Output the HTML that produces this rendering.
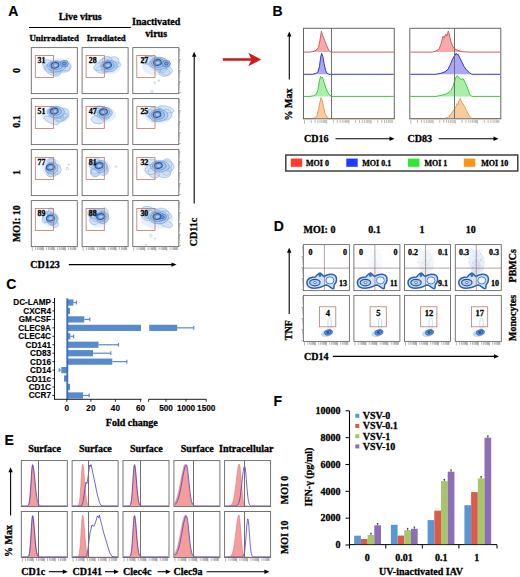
<!DOCTYPE html>
<html><head><meta charset="utf-8"><title>Figure</title>
<style>html,body{margin:0;padding:0;background:#fff;} #wrap{position:relative;width:520px;height:577px;overflow:hidden;}</style>
</head><body><div id="wrap">
<svg width="520" height="577" viewBox="0 0 520 577" style="position:absolute;left:0;top:0">
<defs><filter id="soft" x="-20%" y="-20%" width="140%" height="140%"><feGaussianBlur stdDeviation="0.35"/></filter><g id="blobA00" filter="url(#soft)"><ellipse cx="25.700000000000003" cy="18.4" rx="15.2" ry="8.1" fill="#e4edf9" stroke="none" stroke-width="0.5" opacity="0.9" transform="rotate(0 25.700000000000003 18.4)"/><ellipse cx="32.31" cy="21.19" rx="6.48" ry="3.28" fill="#d0e0f4" stroke="none" stroke-width="0.5" opacity="0.8" transform="rotate(0.8 32.31 21.19)"/><ellipse cx="23.87" cy="21.47" rx="6.01" ry="3.77" fill="#d0e0f4" stroke="none" stroke-width="0.5" opacity="0.8" transform="rotate(5.8 23.87 21.47)"/><ellipse cx="33.54" cy="18.45" rx="5.93" ry="4.4" fill="#d0e0f4" stroke="none" stroke-width="0.5" opacity="0.8" transform="rotate(8.3 33.54 18.45)"/><ellipse cx="20.91" cy="22.83" rx="8.73" ry="4.52" fill="#d0e0f4" stroke="none" stroke-width="0.5" opacity="0.8" transform="rotate(28.2 20.91 22.83)"/><ellipse cx="22.05" cy="20.88" rx="8.4" ry="4.24" fill="#d0e0f4" stroke="none" stroke-width="0.5" opacity="0.8" transform="rotate(-2.0 22.05 20.88)"/><ellipse cx="18.03" cy="17.69" rx="7.24" ry="4.75" fill="#d0e0f4" stroke="none" stroke-width="0.5" opacity="0.8" transform="rotate(32.7 18.03 17.69)"/><ellipse cx="25.26" cy="22.35" rx="5.84" ry="4.51" fill="#d0e0f4" stroke="none" stroke-width="0.5" opacity="0.8" transform="rotate(3.4 25.26 22.35)"/><ellipse cx="32.31" cy="21.19" rx="6.48" ry="3.28" fill="none" stroke="#8aaedf" stroke-width="0.6" opacity="0.9" transform="rotate(0.8 32.31 21.19)"/><ellipse cx="23.87" cy="21.47" rx="6.01" ry="3.77" fill="none" stroke="#8aaedf" stroke-width="0.6" opacity="0.9" transform="rotate(5.8 23.87 21.47)"/><ellipse cx="33.54" cy="18.45" rx="5.93" ry="4.4" fill="none" stroke="#8aaedf" stroke-width="0.6" opacity="0.9" transform="rotate(8.3 33.54 18.45)"/><ellipse cx="20.91" cy="22.83" rx="8.73" ry="4.52" fill="none" stroke="#8aaedf" stroke-width="0.6" opacity="0.9" transform="rotate(28.2 20.91 22.83)"/><ellipse cx="22.05" cy="20.88" rx="8.4" ry="4.24" fill="none" stroke="#8aaedf" stroke-width="0.6" opacity="0.9" transform="rotate(-2.0 22.05 20.88)"/><ellipse cx="18.03" cy="17.69" rx="7.24" ry="4.75" fill="none" stroke="#8aaedf" stroke-width="0.6" opacity="0.9" transform="rotate(32.7 18.03 17.69)"/><ellipse cx="25.26" cy="22.35" rx="5.84" ry="4.51" fill="none" stroke="#8aaedf" stroke-width="0.6" opacity="0.9" transform="rotate(3.4 25.26 22.35)"/><ellipse cx="25.2" cy="18.5" rx="9.6" ry="5.3999999999999995" fill="#b3cdee" stroke="#6593d2" stroke-width="0.7" opacity="0.9" transform="rotate(0 25.2 18.5)"/><ellipse cx="24.5" cy="18.099999999999998" rx="6.912" ry="3.8879999999999995" fill="#a3c2ea" stroke="#4f82c8" stroke-width="0.7" opacity="0.9" transform="rotate(0 24.5 18.099999999999998)"/><ellipse cx="33" cy="16" rx="4.0" ry="3.2" fill="#a3c2ea" stroke="#3f74c0" stroke-width="0.8" opacity="0.9" transform="rotate(0 33 16)"/><ellipse cx="33" cy="16" rx="2.0" ry="1.5" fill="#6d9ad6" stroke="#1f4f9a" stroke-width="0.8" opacity="0.9" transform="rotate(0 33 16)"/><ellipse cx="23.7" cy="17.7" rx="3.9" ry="2.8" fill="#7da6dc" stroke="#2558a8" stroke-width="1.1" opacity="1.0" transform="rotate(-12 23.7 17.7)"/><ellipse cx="24.0" cy="17.9" rx="1.7" ry="1.1" fill="#b6d0f0" stroke="none" stroke-width="0.5" opacity="1.0" transform="rotate(0 24.0 17.9)"/></g><g id="blobA01" filter="url(#soft)"><ellipse cx="26.35" cy="18.1" rx="12.9675" ry="8.73" fill="#e4edf9" stroke="none" stroke-width="0.5" opacity="0.9" transform="rotate(0 26.35 18.1)"/><ellipse cx="20.36" cy="22.14" rx="6.7" ry="3.53" fill="#d0e0f4" stroke="none" stroke-width="0.5" opacity="0.8" transform="rotate(-0.3 20.36 22.14)"/><ellipse cx="25.52" cy="19.86" rx="6.79" ry="3.14" fill="#d0e0f4" stroke="none" stroke-width="0.5" opacity="0.8" transform="rotate(-33.0 25.52 19.86)"/><ellipse cx="31.85" cy="17.32" rx="6.7" ry="2.92" fill="#d0e0f4" stroke="none" stroke-width="0.5" opacity="0.8" transform="rotate(-3.8 31.85 17.32)"/><ellipse cx="29.98" cy="14.94" rx="7.32" ry="5.1" fill="#d0e0f4" stroke="none" stroke-width="0.5" opacity="0.8" transform="rotate(-32.9 29.98 14.94)"/><ellipse cx="18.58" cy="18.58" rx="7.3" ry="3.83" fill="#d0e0f4" stroke="none" stroke-width="0.5" opacity="0.8" transform="rotate(-19.8 18.58 18.58)"/><ellipse cx="25.07" cy="12.62" rx="4.85" ry="3.97" fill="#d0e0f4" stroke="none" stroke-width="0.5" opacity="0.8" transform="rotate(-0.3 25.07 12.62)"/><ellipse cx="21.98" cy="14.97" rx="4.84" ry="4.02" fill="#d0e0f4" stroke="none" stroke-width="0.5" opacity="0.8" transform="rotate(-14.7 21.98 14.97)"/><ellipse cx="20.36" cy="22.14" rx="6.7" ry="3.53" fill="none" stroke="#8aaedf" stroke-width="0.6" opacity="0.9" transform="rotate(-0.3 20.36 22.14)"/><ellipse cx="25.52" cy="19.86" rx="6.79" ry="3.14" fill="none" stroke="#8aaedf" stroke-width="0.6" opacity="0.9" transform="rotate(-33.0 25.52 19.86)"/><ellipse cx="31.85" cy="17.32" rx="6.7" ry="2.92" fill="none" stroke="#8aaedf" stroke-width="0.6" opacity="0.9" transform="rotate(-3.8 31.85 17.32)"/><ellipse cx="29.98" cy="14.94" rx="7.32" ry="5.1" fill="none" stroke="#8aaedf" stroke-width="0.6" opacity="0.9" transform="rotate(-32.9 29.98 14.94)"/><ellipse cx="18.58" cy="18.58" rx="7.3" ry="3.83" fill="none" stroke="#8aaedf" stroke-width="0.6" opacity="0.9" transform="rotate(-19.8 18.58 18.58)"/><ellipse cx="25.07" cy="12.62" rx="4.85" ry="3.97" fill="none" stroke="#8aaedf" stroke-width="0.6" opacity="0.9" transform="rotate(-0.3 25.07 12.62)"/><ellipse cx="21.98" cy="14.97" rx="4.84" ry="4.02" fill="none" stroke="#8aaedf" stroke-width="0.6" opacity="0.9" transform="rotate(-14.7 21.98 14.97)"/><ellipse cx="27.0" cy="18.400000000000002" rx="8.19" ry="5.819999999999999" fill="#b3cdee" stroke="#6593d2" stroke-width="0.7" opacity="0.9" transform="rotate(0 27.0 18.400000000000002)"/><ellipse cx="26.3" cy="18.0" rx="5.8968" ry="4.1903999999999995" fill="#a3c2ea" stroke="#4f82c8" stroke-width="0.7" opacity="0.9" transform="rotate(0 26.3 18.0)"/><ellipse cx="25.5" cy="17.6" rx="3.9" ry="2.8" fill="#7da6dc" stroke="#2558a8" stroke-width="1.1" opacity="1.0" transform="rotate(-12 25.5 17.6)"/><ellipse cx="25.8" cy="17.8" rx="1.7" ry="1.1" fill="#b6d0f0" stroke="none" stroke-width="0.5" opacity="1.0" transform="rotate(0 25.8 17.8)"/></g><g id="blobA02" filter="url(#soft)"><ellipse cx="23.7" cy="18.5" rx="14.915" ry="9.270000000000001" fill="#e4edf9" stroke="none" stroke-width="0.5" opacity="0.9" transform="rotate(0 23.7 18.5)"/><ellipse cx="32.29" cy="24.04" rx="4.93" ry="3.31" fill="#d0e0f4" stroke="none" stroke-width="0.5" opacity="0.8" transform="rotate(23.5 32.29 24.04)"/><ellipse cx="28.15" cy="20.6" rx="5.92" ry="4.65" fill="#d0e0f4" stroke="none" stroke-width="0.5" opacity="0.8" transform="rotate(7.5 28.15 20.6)"/><ellipse cx="25.23" cy="14.28" rx="6.4" ry="4.1" fill="#d0e0f4" stroke="none" stroke-width="0.5" opacity="0.8" transform="rotate(15.6 25.23 14.28)"/><ellipse cx="33.02" cy="24.05" rx="6.85" ry="4.24" fill="#d0e0f4" stroke="none" stroke-width="0.5" opacity="0.8" transform="rotate(-16.2 33.02 24.05)"/><ellipse cx="14.96" cy="12.66" rx="6.53" ry="3.91" fill="#d0e0f4" stroke="none" stroke-width="0.5" opacity="0.8" transform="rotate(-8.4 14.96 12.66)"/><ellipse cx="31.08" cy="18.82" rx="6.91" ry="3.7" fill="#d0e0f4" stroke="none" stroke-width="0.5" opacity="0.8" transform="rotate(-33.3 31.08 18.82)"/><ellipse cx="20.41" cy="14.01" rx="6.71" ry="5.66" fill="#d0e0f4" stroke="none" stroke-width="0.5" opacity="0.8" transform="rotate(12.2 20.41 14.01)"/><ellipse cx="32.29" cy="24.04" rx="4.93" ry="3.31" fill="none" stroke="#8aaedf" stroke-width="0.6" opacity="0.9" transform="rotate(23.5 32.29 24.04)"/><ellipse cx="28.15" cy="20.6" rx="5.92" ry="4.65" fill="none" stroke="#8aaedf" stroke-width="0.6" opacity="0.9" transform="rotate(7.5 28.15 20.6)"/><ellipse cx="25.23" cy="14.28" rx="6.4" ry="4.1" fill="none" stroke="#8aaedf" stroke-width="0.6" opacity="0.9" transform="rotate(15.6 25.23 14.28)"/><ellipse cx="33.02" cy="24.05" rx="6.85" ry="4.24" fill="none" stroke="#8aaedf" stroke-width="0.6" opacity="0.9" transform="rotate(-16.2 33.02 24.05)"/><ellipse cx="14.96" cy="12.66" rx="6.53" ry="3.91" fill="none" stroke="#8aaedf" stroke-width="0.6" opacity="0.9" transform="rotate(-8.4 14.96 12.66)"/><ellipse cx="31.08" cy="18.82" rx="6.91" ry="3.7" fill="none" stroke="#8aaedf" stroke-width="0.6" opacity="0.9" transform="rotate(-33.3 31.08 18.82)"/><ellipse cx="20.41" cy="14.01" rx="6.71" ry="5.66" fill="none" stroke="#8aaedf" stroke-width="0.6" opacity="0.9" transform="rotate(12.2 20.41 14.01)"/><ellipse cx="26.2" cy="15.8" rx="9.42" ry="6.180000000000001" fill="#b3cdee" stroke="#6593d2" stroke-width="0.7" opacity="0.9" transform="rotate(0 26.2 15.8)"/><ellipse cx="25.5" cy="15.4" rx="6.7824" ry="4.4496" fill="#a3c2ea" stroke="#4f82c8" stroke-width="0.7" opacity="0.9" transform="rotate(0 25.5 15.4)"/><ellipse cx="33.5" cy="16.0" rx="4.0" ry="3.2" fill="#a3c2ea" stroke="#3f74c0" stroke-width="0.8" opacity="0.9" transform="rotate(0 33.5 16.0)"/><ellipse cx="33.5" cy="16.0" rx="2.0" ry="1.5" fill="#6d9ad6" stroke="#1f4f9a" stroke-width="0.8" opacity="0.9" transform="rotate(0 33.5 16.0)"/><ellipse cx="24.7" cy="15.0" rx="3.9" ry="2.8" fill="#7da6dc" stroke="#2558a8" stroke-width="1.1" opacity="1.0" transform="rotate(-12 24.7 15.0)"/><ellipse cx="25.0" cy="15.2" rx="1.7" ry="1.1" fill="#b6d0f0" stroke="none" stroke-width="0.5" opacity="1.0" transform="rotate(0 25.0 15.2)"/><ellipse cx="19" cy="44" rx="1.2" ry="1.2" fill="none" stroke="#9dbbe2" stroke-width="0.6" opacity="0.9" transform="rotate(0 19 44)"/><ellipse cx="22" cy="35" rx="1.0" ry="1.0" fill="none" stroke="#9dbbe2" stroke-width="0.6" opacity="0.9" transform="rotate(0 22 35)"/><ellipse cx="26" cy="33" rx="0.8" ry="0.8" fill="none" stroke="#9dbbe2" stroke-width="0.6" opacity="0.9" transform="rotate(0 26 33)"/></g><g id="blobA10" filter="url(#soft)"><ellipse cx="24.5" cy="16.8" rx="13.774999999999999" ry="8.459999999999999" fill="#e4edf9" stroke="none" stroke-width="0.5" opacity="0.9" transform="rotate(0 24.5 16.8)"/><ellipse cx="25.74" cy="16.0" rx="6.45" ry="3.3" fill="#d0e0f4" stroke="none" stroke-width="0.5" opacity="0.8" transform="rotate(21.9 25.74 16.0)"/><ellipse cx="30.13" cy="18.53" rx="4.93" ry="4.04" fill="#d0e0f4" stroke="none" stroke-width="0.5" opacity="0.8" transform="rotate(-12.1 30.13 18.53)"/><ellipse cx="20.15" cy="21.91" rx="7.96" ry="2.92" fill="#d0e0f4" stroke="none" stroke-width="0.5" opacity="0.8" transform="rotate(25.2 20.15 21.91)"/><ellipse cx="26.3" cy="15.46" rx="5.38" ry="4.41" fill="#d0e0f4" stroke="none" stroke-width="0.5" opacity="0.8" transform="rotate(-3.0 26.3 15.46)"/><ellipse cx="27.73" cy="18.63" rx="4.83" ry="4.62" fill="#d0e0f4" stroke="none" stroke-width="0.5" opacity="0.8" transform="rotate(33.8 27.73 18.63)"/><ellipse cx="32.67" cy="18.08" rx="4.51" ry="2.83" fill="#d0e0f4" stroke="none" stroke-width="0.5" opacity="0.8" transform="rotate(-25.6 32.67 18.08)"/><ellipse cx="32.17" cy="14.58" rx="5.68" ry="4.93" fill="#d0e0f4" stroke="none" stroke-width="0.5" opacity="0.8" transform="rotate(-13.0 32.17 14.58)"/><ellipse cx="25.74" cy="16.0" rx="6.45" ry="3.3" fill="none" stroke="#8aaedf" stroke-width="0.6" opacity="0.9" transform="rotate(21.9 25.74 16.0)"/><ellipse cx="30.13" cy="18.53" rx="4.93" ry="4.04" fill="none" stroke="#8aaedf" stroke-width="0.6" opacity="0.9" transform="rotate(-12.1 30.13 18.53)"/><ellipse cx="20.15" cy="21.91" rx="7.96" ry="2.92" fill="none" stroke="#8aaedf" stroke-width="0.6" opacity="0.9" transform="rotate(25.2 20.15 21.91)"/><ellipse cx="26.3" cy="15.46" rx="5.38" ry="4.41" fill="none" stroke="#8aaedf" stroke-width="0.6" opacity="0.9" transform="rotate(-3.0 26.3 15.46)"/><ellipse cx="27.73" cy="18.63" rx="4.83" ry="4.62" fill="none" stroke="#8aaedf" stroke-width="0.6" opacity="0.9" transform="rotate(33.8 27.73 18.63)"/><ellipse cx="32.67" cy="18.08" rx="4.51" ry="2.83" fill="none" stroke="#8aaedf" stroke-width="0.6" opacity="0.9" transform="rotate(-25.6 32.67 18.08)"/><ellipse cx="32.17" cy="14.58" rx="5.68" ry="4.93" fill="none" stroke="#8aaedf" stroke-width="0.6" opacity="0.9" transform="rotate(-13.0 32.17 14.58)"/><ellipse cx="24.5" cy="13.3" rx="8.7" ry="5.639999999999999" fill="#b3cdee" stroke="#6593d2" stroke-width="0.7" opacity="0.9" transform="rotate(0 24.5 13.3)"/><ellipse cx="23.8" cy="12.9" rx="6.263999999999999" ry="4.060799999999999" fill="#a3c2ea" stroke="#4f82c8" stroke-width="0.7" opacity="0.9" transform="rotate(0 23.8 12.9)"/><ellipse cx="23.0" cy="12.5" rx="3.9" ry="2.8" fill="#7da6dc" stroke="#2558a8" stroke-width="1.1" opacity="1.0" transform="rotate(-12 23.0 12.5)"/><ellipse cx="23.3" cy="12.7" rx="1.7" ry="1.1" fill="#b6d0f0" stroke="none" stroke-width="0.5" opacity="1.0" transform="rotate(0 23.3 12.7)"/></g><g id="blobA11" filter="url(#soft)"><ellipse cx="22.2" cy="16.1" rx="11.589999999999998" ry="7.829999999999999" fill="#e4edf9" stroke="none" stroke-width="0.5" opacity="0.9" transform="rotate(0 22.2 16.1)"/><ellipse cx="21.5" cy="16.72" rx="6.48" ry="3.62" fill="#d0e0f4" stroke="none" stroke-width="0.5" opacity="0.8" transform="rotate(0.5 21.5 16.72)"/><ellipse cx="23.48" cy="12.81" rx="5.22" ry="3.98" fill="#d0e0f4" stroke="none" stroke-width="0.5" opacity="0.8" transform="rotate(20.5 23.48 12.81)"/><ellipse cx="16.26" cy="14.05" rx="3.94" ry="4.37" fill="#d0e0f4" stroke="none" stroke-width="0.5" opacity="0.8" transform="rotate(13.5 16.26 14.05)"/><ellipse cx="15.49" cy="21.13" rx="6.6" ry="4.03" fill="#d0e0f4" stroke="none" stroke-width="0.5" opacity="0.8" transform="rotate(8.1 15.49 21.13)"/><ellipse cx="17.19" cy="11.04" rx="5.27" ry="2.74" fill="#d0e0f4" stroke="none" stroke-width="0.5" opacity="0.8" transform="rotate(-21.7 17.19 11.04)"/><ellipse cx="18.42" cy="11.19" rx="5.08" ry="3.57" fill="#d0e0f4" stroke="none" stroke-width="0.5" opacity="0.8" transform="rotate(24.0 18.42 11.19)"/><ellipse cx="22.48" cy="17.56" rx="5.18" ry="4.05" fill="#d0e0f4" stroke="none" stroke-width="0.5" opacity="0.8" transform="rotate(-3.0 22.48 17.56)"/><ellipse cx="21.5" cy="16.72" rx="6.48" ry="3.62" fill="none" stroke="#8aaedf" stroke-width="0.6" opacity="0.9" transform="rotate(0.5 21.5 16.72)"/><ellipse cx="23.48" cy="12.81" rx="5.22" ry="3.98" fill="none" stroke="#8aaedf" stroke-width="0.6" opacity="0.9" transform="rotate(20.5 23.48 12.81)"/><ellipse cx="16.26" cy="14.05" rx="3.94" ry="4.37" fill="none" stroke="#8aaedf" stroke-width="0.6" opacity="0.9" transform="rotate(13.5 16.26 14.05)"/><ellipse cx="15.49" cy="21.13" rx="6.6" ry="4.03" fill="none" stroke="#8aaedf" stroke-width="0.6" opacity="0.9" transform="rotate(8.1 15.49 21.13)"/><ellipse cx="17.19" cy="11.04" rx="5.27" ry="2.74" fill="none" stroke="#8aaedf" stroke-width="0.6" opacity="0.9" transform="rotate(-21.7 17.19 11.04)"/><ellipse cx="18.42" cy="11.19" rx="5.08" ry="3.57" fill="none" stroke="#8aaedf" stroke-width="0.6" opacity="0.9" transform="rotate(24.0 18.42 11.19)"/><ellipse cx="22.48" cy="17.56" rx="5.18" ry="4.05" fill="none" stroke="#8aaedf" stroke-width="0.6" opacity="0.9" transform="rotate(-3.0 22.48 17.56)"/><ellipse cx="22.9" cy="14.100000000000001" rx="7.319999999999999" ry="5.22" fill="#b3cdee" stroke="#6593d2" stroke-width="0.7" opacity="0.9" transform="rotate(0 22.9 14.100000000000001)"/><ellipse cx="22.2" cy="13.700000000000001" rx="5.2703999999999995" ry="3.7583999999999995" fill="#a3c2ea" stroke="#4f82c8" stroke-width="0.7" opacity="0.9" transform="rotate(0 22.2 13.700000000000001)"/><ellipse cx="21.4" cy="13.3" rx="3.9" ry="2.8" fill="#7da6dc" stroke="#2558a8" stroke-width="1.1" opacity="1.0" transform="rotate(-12 21.4 13.3)"/><ellipse cx="21.7" cy="13.5" rx="1.7" ry="1.1" fill="#b6d0f0" stroke="none" stroke-width="0.5" opacity="1.0" transform="rotate(0 21.7 13.5)"/></g><g id="blobA12" filter="url(#soft)"><ellipse cx="25.549999999999997" cy="16.0" rx="15.0575" ry="9.0" fill="#e4edf9" stroke="none" stroke-width="0.5" opacity="0.9" transform="rotate(0 25.549999999999997 16.0)"/><ellipse cx="25.07" cy="17.89" rx="7.4" ry="3.36" fill="#d0e0f4" stroke="none" stroke-width="0.5" opacity="0.8" transform="rotate(-34.2 25.07 17.89)"/><ellipse cx="23.17" cy="13.29" rx="7.97" ry="4.73" fill="#d0e0f4" stroke="none" stroke-width="0.5" opacity="0.8" transform="rotate(7.1 23.17 13.29)"/><ellipse cx="26.66" cy="17.94" rx="5.33" ry="4.1" fill="#d0e0f4" stroke="none" stroke-width="0.5" opacity="0.8" transform="rotate(-23.6 26.66 17.94)"/><ellipse cx="33.27" cy="10.71" rx="8.0" ry="3.19" fill="#d0e0f4" stroke="none" stroke-width="0.5" opacity="0.8" transform="rotate(13.1 33.27 10.71)"/><ellipse cx="22.45" cy="14.86" rx="8.09" ry="3.05" fill="#d0e0f4" stroke="none" stroke-width="0.5" opacity="0.8" transform="rotate(-30.7 22.45 14.86)"/><ellipse cx="33.44" cy="16.11" rx="5.12" ry="5.47" fill="#d0e0f4" stroke="none" stroke-width="0.5" opacity="0.8" transform="rotate(31.3 33.44 16.11)"/><ellipse cx="18.18" cy="15.08" rx="5.29" ry="3.78" fill="#d0e0f4" stroke="none" stroke-width="0.5" opacity="0.8" transform="rotate(8.5 18.18 15.08)"/><ellipse cx="25.07" cy="17.89" rx="7.4" ry="3.36" fill="none" stroke="#8aaedf" stroke-width="0.6" opacity="0.9" transform="rotate(-34.2 25.07 17.89)"/><ellipse cx="23.17" cy="13.29" rx="7.97" ry="4.73" fill="none" stroke="#8aaedf" stroke-width="0.6" opacity="0.9" transform="rotate(7.1 23.17 13.29)"/><ellipse cx="26.66" cy="17.94" rx="5.33" ry="4.1" fill="none" stroke="#8aaedf" stroke-width="0.6" opacity="0.9" transform="rotate(-23.6 26.66 17.94)"/><ellipse cx="33.27" cy="10.71" rx="8.0" ry="3.19" fill="none" stroke="#8aaedf" stroke-width="0.6" opacity="0.9" transform="rotate(13.1 33.27 10.71)"/><ellipse cx="22.45" cy="14.86" rx="8.09" ry="3.05" fill="none" stroke="#8aaedf" stroke-width="0.6" opacity="0.9" transform="rotate(-30.7 22.45 14.86)"/><ellipse cx="33.44" cy="16.11" rx="5.12" ry="5.47" fill="none" stroke="#8aaedf" stroke-width="0.6" opacity="0.9" transform="rotate(31.3 33.44 16.11)"/><ellipse cx="18.18" cy="15.08" rx="5.29" ry="3.78" fill="none" stroke="#8aaedf" stroke-width="0.6" opacity="0.9" transform="rotate(8.5 18.18 15.08)"/><ellipse cx="25.7" cy="16.8" rx="9.51" ry="6.0" fill="#b3cdee" stroke="#6593d2" stroke-width="0.7" opacity="0.9" transform="rotate(0 25.7 16.8)"/><ellipse cx="25.0" cy="16.4" rx="6.8472" ry="4.32" fill="#a3c2ea" stroke="#4f82c8" stroke-width="0.7" opacity="0.9" transform="rotate(0 25.0 16.4)"/><ellipse cx="24.2" cy="16.0" rx="3.9" ry="2.8" fill="#7da6dc" stroke="#2558a8" stroke-width="1.1" opacity="1.0" transform="rotate(-12 24.2 16.0)"/><ellipse cx="24.5" cy="16.2" rx="1.7" ry="1.1" fill="#b6d0f0" stroke="none" stroke-width="0.5" opacity="1.0" transform="rotate(0 24.5 16.2)"/></g><g id="blobA20" filter="url(#soft)"><ellipse cx="20.0" cy="17.6" rx="9.5" ry="9.09" fill="#e4edf9" stroke="none" stroke-width="0.5" opacity="0.9" transform="rotate(0 20.0 17.6)"/><ellipse cx="24.87" cy="19.86" rx="4.92" ry="5.31" fill="#d0e0f4" stroke="none" stroke-width="0.5" opacity="0.8" transform="rotate(-16.8 24.87 19.86)"/><ellipse cx="21.63" cy="22.51" rx="5.18" ry="4.48" fill="#d0e0f4" stroke="none" stroke-width="0.5" opacity="0.8" transform="rotate(-23.1 21.63 22.51)"/><ellipse cx="18.94" cy="23.59" rx="3.26" ry="3.84" fill="#d0e0f4" stroke="none" stroke-width="0.5" opacity="0.8" transform="rotate(31.5 18.94 23.59)"/><ellipse cx="19.39" cy="14.07" rx="3.79" ry="5.32" fill="#d0e0f4" stroke="none" stroke-width="0.5" opacity="0.8" transform="rotate(-11.5 19.39 14.07)"/><ellipse cx="19.13" cy="19.15" rx="5.01" ry="4.27" fill="#d0e0f4" stroke="none" stroke-width="0.5" opacity="0.8" transform="rotate(-29.3 19.13 19.15)"/><ellipse cx="20.88" cy="11.97" rx="3.24" ry="3.51" fill="#d0e0f4" stroke="none" stroke-width="0.5" opacity="0.8" transform="rotate(13.5 20.88 11.97)"/><ellipse cx="17.4" cy="19.91" rx="3.41" ry="3.33" fill="#d0e0f4" stroke="none" stroke-width="0.5" opacity="0.8" transform="rotate(-33.4 17.4 19.91)"/><ellipse cx="24.87" cy="19.86" rx="4.92" ry="5.31" fill="none" stroke="#8aaedf" stroke-width="0.6" opacity="0.9" transform="rotate(-16.8 24.87 19.86)"/><ellipse cx="21.63" cy="22.51" rx="5.18" ry="4.48" fill="none" stroke="#8aaedf" stroke-width="0.6" opacity="0.9" transform="rotate(-23.1 21.63 22.51)"/><ellipse cx="18.94" cy="23.59" rx="3.26" ry="3.84" fill="none" stroke="#8aaedf" stroke-width="0.6" opacity="0.9" transform="rotate(31.5 18.94 23.59)"/><ellipse cx="19.39" cy="14.07" rx="3.79" ry="5.32" fill="none" stroke="#8aaedf" stroke-width="0.6" opacity="0.9" transform="rotate(-11.5 19.39 14.07)"/><ellipse cx="19.13" cy="19.15" rx="5.01" ry="4.27" fill="none" stroke="#8aaedf" stroke-width="0.6" opacity="0.9" transform="rotate(-29.3 19.13 19.15)"/><ellipse cx="20.88" cy="11.97" rx="3.24" ry="3.51" fill="none" stroke="#8aaedf" stroke-width="0.6" opacity="0.9" transform="rotate(13.5 20.88 11.97)"/><ellipse cx="17.4" cy="19.91" rx="3.41" ry="3.33" fill="none" stroke="#8aaedf" stroke-width="0.6" opacity="0.9" transform="rotate(-33.4 17.4 19.91)"/><ellipse cx="20.5" cy="18.400000000000002" rx="6.0" ry="6.06" fill="#b3cdee" stroke="#6593d2" stroke-width="0.7" opacity="0.9" transform="rotate(0 20.5 18.400000000000002)"/><ellipse cx="19.8" cy="18.0" rx="4.32" ry="4.3632" fill="#a3c2ea" stroke="#4f82c8" stroke-width="0.7" opacity="0.9" transform="rotate(0 19.8 18.0)"/><ellipse cx="19.0" cy="17.6" rx="3.9" ry="2.8" fill="#7da6dc" stroke="#2558a8" stroke-width="1.1" opacity="1.0" transform="rotate(-12 19.0 17.6)"/><ellipse cx="19.3" cy="17.8" rx="1.7" ry="1.1" fill="#b6d0f0" stroke="none" stroke-width="0.5" opacity="1.0" transform="rotate(0 19.3 17.8)"/><ellipse cx="36" cy="19" rx="1.3" ry="1.3" fill="none" stroke="#9dbbe2" stroke-width="0.6" opacity="0.9" transform="rotate(0 36 19)"/><ellipse cx="37.5" cy="15" rx="0.8" ry="0.8" fill="none" stroke="#9dbbe2" stroke-width="0.6" opacity="0.9" transform="rotate(0 37.5 15)"/></g><g id="blobA21" filter="url(#soft)"><ellipse cx="17.85" cy="17.6" rx="10.3075" ry="9.09" fill="#e4edf9" stroke="none" stroke-width="0.5" opacity="0.9" transform="rotate(0 17.85 17.6)"/><ellipse cx="13.49" cy="19.9" rx="4.98" ry="4.24" fill="#d0e0f4" stroke="none" stroke-width="0.5" opacity="0.8" transform="rotate(-19.9 13.49 19.9)"/><ellipse cx="21.66" cy="21.33" rx="4.65" ry="4.31" fill="#d0e0f4" stroke="none" stroke-width="0.5" opacity="0.8" transform="rotate(-18.5 21.66 21.33)"/><ellipse cx="11.38" cy="16.04" rx="4.84" ry="3.2" fill="#d0e0f4" stroke="none" stroke-width="0.5" opacity="0.8" transform="rotate(20.6 11.38 16.04)"/><ellipse cx="14.36" cy="14.36" rx="3.37" ry="5.55" fill="#d0e0f4" stroke="none" stroke-width="0.5" opacity="0.8" transform="rotate(16.7 14.36 14.36)"/><ellipse cx="22.73" cy="19.0" rx="3.35" ry="3.86" fill="#d0e0f4" stroke="none" stroke-width="0.5" opacity="0.8" transform="rotate(-0.2 22.73 19.0)"/><ellipse cx="12.85" cy="23.08" rx="4.25" ry="3.42" fill="#d0e0f4" stroke="none" stroke-width="0.5" opacity="0.8" transform="rotate(22.2 12.85 23.08)"/><ellipse cx="12.97" cy="22.79" rx="4.48" ry="4.42" fill="#d0e0f4" stroke="none" stroke-width="0.5" opacity="0.8" transform="rotate(-11.0 12.97 22.79)"/><ellipse cx="13.49" cy="19.9" rx="4.98" ry="4.24" fill="none" stroke="#8aaedf" stroke-width="0.6" opacity="0.9" transform="rotate(-19.9 13.49 19.9)"/><ellipse cx="21.66" cy="21.33" rx="4.65" ry="4.31" fill="none" stroke="#8aaedf" stroke-width="0.6" opacity="0.9" transform="rotate(-18.5 21.66 21.33)"/><ellipse cx="11.38" cy="16.04" rx="4.84" ry="3.2" fill="none" stroke="#8aaedf" stroke-width="0.6" opacity="0.9" transform="rotate(20.6 11.38 16.04)"/><ellipse cx="14.36" cy="14.36" rx="3.37" ry="5.55" fill="none" stroke="#8aaedf" stroke-width="0.6" opacity="0.9" transform="rotate(16.7 14.36 14.36)"/><ellipse cx="22.73" cy="19.0" rx="3.35" ry="3.86" fill="none" stroke="#8aaedf" stroke-width="0.6" opacity="0.9" transform="rotate(-0.2 22.73 19.0)"/><ellipse cx="12.85" cy="23.08" rx="4.25" ry="3.42" fill="none" stroke="#8aaedf" stroke-width="0.6" opacity="0.9" transform="rotate(22.2 12.85 23.08)"/><ellipse cx="12.97" cy="22.79" rx="4.48" ry="4.42" fill="none" stroke="#8aaedf" stroke-width="0.6" opacity="0.9" transform="rotate(-11.0 12.97 22.79)"/><ellipse cx="18.5" cy="16.8" rx="6.51" ry="6.06" fill="#b3cdee" stroke="#6593d2" stroke-width="0.7" opacity="0.9" transform="rotate(0 18.5 16.8)"/><ellipse cx="17.8" cy="16.4" rx="4.6872" ry="4.3632" fill="#a3c2ea" stroke="#4f82c8" stroke-width="0.7" opacity="0.9" transform="rotate(0 17.8 16.4)"/><ellipse cx="17.0" cy="16.0" rx="3.9" ry="2.8" fill="#7da6dc" stroke="#2558a8" stroke-width="1.1" opacity="1.0" transform="rotate(-12 17.0 16.0)"/><ellipse cx="17.3" cy="16.2" rx="1.7" ry="1.1" fill="#b6d0f0" stroke="none" stroke-width="0.5" opacity="1.0" transform="rotate(0 17.3 16.2)"/><ellipse cx="34" cy="17" rx="0.8" ry="0.8" fill="none" stroke="#9dbbe2" stroke-width="0.6" opacity="0.9" transform="rotate(0 34 17)"/></g><g id="blobA22" filter="url(#soft)"><ellipse cx="25.549999999999997" cy="18.35" rx="15.0575" ry="8.415" fill="#e4edf9" stroke="none" stroke-width="0.5" opacity="0.9" transform="rotate(0 25.549999999999997 18.35)"/><ellipse cx="34.27" cy="14.31" rx="4.85" ry="5.14" fill="#d0e0f4" stroke="none" stroke-width="0.5" opacity="0.8" transform="rotate(-22.1 34.27 14.31)"/><ellipse cx="18.33" cy="20.05" rx="6.12" ry="4.88" fill="#d0e0f4" stroke="none" stroke-width="0.5" opacity="0.8" transform="rotate(-18.8 18.33 20.05)"/><ellipse cx="34.29" cy="16.32" rx="7.14" ry="4.98" fill="#d0e0f4" stroke="none" stroke-width="0.5" opacity="0.8" transform="rotate(13.0 34.29 16.32)"/><ellipse cx="33.61" cy="20.69" rx="4.95" ry="4.87" fill="#d0e0f4" stroke="none" stroke-width="0.5" opacity="0.8" transform="rotate(6.3 33.61 20.69)"/><ellipse cx="21.95" cy="14.87" rx="8.12" ry="4.17" fill="#d0e0f4" stroke="none" stroke-width="0.5" opacity="0.8" transform="rotate(30.7 21.95 14.87)"/><ellipse cx="30.76" cy="23.52" rx="7.0" ry="4.44" fill="#d0e0f4" stroke="none" stroke-width="0.5" opacity="0.8" transform="rotate(7.9 30.76 23.52)"/><ellipse cx="20.95" cy="23.47" rx="5.99" ry="4.63" fill="#d0e0f4" stroke="none" stroke-width="0.5" opacity="0.8" transform="rotate(31.8 20.95 23.47)"/><ellipse cx="34.27" cy="14.31" rx="4.85" ry="5.14" fill="none" stroke="#8aaedf" stroke-width="0.6" opacity="0.9" transform="rotate(-22.1 34.27 14.31)"/><ellipse cx="18.33" cy="20.05" rx="6.12" ry="4.88" fill="none" stroke="#8aaedf" stroke-width="0.6" opacity="0.9" transform="rotate(-18.8 18.33 20.05)"/><ellipse cx="34.29" cy="16.32" rx="7.14" ry="4.98" fill="none" stroke="#8aaedf" stroke-width="0.6" opacity="0.9" transform="rotate(13.0 34.29 16.32)"/><ellipse cx="33.61" cy="20.69" rx="4.95" ry="4.87" fill="none" stroke="#8aaedf" stroke-width="0.6" opacity="0.9" transform="rotate(6.3 33.61 20.69)"/><ellipse cx="21.95" cy="14.87" rx="8.12" ry="4.17" fill="none" stroke="#8aaedf" stroke-width="0.6" opacity="0.9" transform="rotate(30.7 21.95 14.87)"/><ellipse cx="30.76" cy="23.52" rx="7.0" ry="4.44" fill="none" stroke="#8aaedf" stroke-width="0.6" opacity="0.9" transform="rotate(7.9 30.76 23.52)"/><ellipse cx="20.95" cy="23.47" rx="5.99" ry="4.63" fill="none" stroke="#8aaedf" stroke-width="0.6" opacity="0.9" transform="rotate(31.8 20.95 23.47)"/><ellipse cx="27.1" cy="16.8" rx="9.51" ry="5.609999999999999" fill="#b3cdee" stroke="#6593d2" stroke-width="0.7" opacity="0.9" transform="rotate(0 27.1 16.8)"/><ellipse cx="26.400000000000002" cy="16.4" rx="6.8472" ry="4.039199999999999" fill="#a3c2ea" stroke="#4f82c8" stroke-width="0.7" opacity="0.9" transform="rotate(0 26.400000000000002 16.4)"/><ellipse cx="25.6" cy="16.0" rx="3.9" ry="2.8" fill="#7da6dc" stroke="#2558a8" stroke-width="1.1" opacity="1.0" transform="rotate(-12 25.6 16.0)"/><ellipse cx="25.900000000000002" cy="16.2" rx="1.7" ry="1.1" fill="#b6d0f0" stroke="none" stroke-width="0.5" opacity="1.0" transform="rotate(0 25.900000000000002 16.2)"/></g><g id="blobA30" filter="url(#soft)"><ellipse cx="18.75" cy="17.55" rx="8.3125" ry="9.135" fill="#e4edf9" stroke="none" stroke-width="0.5" opacity="0.9" transform="rotate(0 18.75 17.55)"/><ellipse cx="19.16" cy="14.98" rx="2.69" ry="4.7" fill="#d0e0f4" stroke="none" stroke-width="0.5" opacity="0.8" transform="rotate(-20.3 19.16 14.98)"/><ellipse cx="16.2" cy="16.3" rx="4.03" ry="5.55" fill="#d0e0f4" stroke="none" stroke-width="0.5" opacity="0.8" transform="rotate(-2.7 16.2 16.3)"/><ellipse cx="23.93" cy="23.55" rx="3.16" ry="3.23" fill="#d0e0f4" stroke="none" stroke-width="0.5" opacity="0.8" transform="rotate(-23.8 23.93 23.55)"/><ellipse cx="22.34" cy="18.76" rx="4.63" ry="5.51" fill="#d0e0f4" stroke="none" stroke-width="0.5" opacity="0.8" transform="rotate(10.8 22.34 18.76)"/><ellipse cx="19.12" cy="12.28" rx="2.68" ry="5.09" fill="#d0e0f4" stroke="none" stroke-width="0.5" opacity="0.8" transform="rotate(12.0 19.12 12.28)"/><ellipse cx="21.51" cy="18.35" rx="4.1" ry="4.67" fill="#d0e0f4" stroke="none" stroke-width="0.5" opacity="0.8" transform="rotate(27.7 21.51 18.35)"/><ellipse cx="14.67" cy="17.48" rx="3.3" ry="5.15" fill="#d0e0f4" stroke="none" stroke-width="0.5" opacity="0.8" transform="rotate(26.4 14.67 17.48)"/><ellipse cx="19.16" cy="14.98" rx="2.69" ry="4.7" fill="none" stroke="#8aaedf" stroke-width="0.6" opacity="0.9" transform="rotate(-20.3 19.16 14.98)"/><ellipse cx="16.2" cy="16.3" rx="4.03" ry="5.55" fill="none" stroke="#8aaedf" stroke-width="0.6" opacity="0.9" transform="rotate(-2.7 16.2 16.3)"/><ellipse cx="23.93" cy="23.55" rx="3.16" ry="3.23" fill="none" stroke="#8aaedf" stroke-width="0.6" opacity="0.9" transform="rotate(-23.8 23.93 23.55)"/><ellipse cx="22.34" cy="18.76" rx="4.63" ry="5.51" fill="none" stroke="#8aaedf" stroke-width="0.6" opacity="0.9" transform="rotate(10.8 22.34 18.76)"/><ellipse cx="19.12" cy="12.28" rx="2.68" ry="5.09" fill="none" stroke="#8aaedf" stroke-width="0.6" opacity="0.9" transform="rotate(12.0 19.12 12.28)"/><ellipse cx="21.51" cy="18.35" rx="4.1" ry="4.67" fill="none" stroke="#8aaedf" stroke-width="0.6" opacity="0.9" transform="rotate(27.7 21.51 18.35)"/><ellipse cx="14.67" cy="17.48" rx="3.3" ry="5.15" fill="none" stroke="#8aaedf" stroke-width="0.6" opacity="0.9" transform="rotate(26.4 14.67 17.48)"/><ellipse cx="20.5" cy="18.400000000000002" rx="5.25" ry="6.089999999999999" fill="#b3cdee" stroke="#6593d2" stroke-width="0.7" opacity="0.9" transform="rotate(0 20.5 18.400000000000002)"/><ellipse cx="19.8" cy="18.0" rx="3.78" ry="4.384799999999999" fill="#a3c2ea" stroke="#4f82c8" stroke-width="0.7" opacity="0.9" transform="rotate(0 19.8 18.0)"/><ellipse cx="19.0" cy="17.6" rx="3.9" ry="2.8" fill="#7da6dc" stroke="#2558a8" stroke-width="1.1" opacity="1.0" transform="rotate(-12 19.0 17.6)"/><ellipse cx="19.3" cy="17.8" rx="1.7" ry="1.1" fill="#b6d0f0" stroke="none" stroke-width="0.5" opacity="1.0" transform="rotate(0 19.3 17.8)"/></g><g id="blobA31" filter="url(#soft)"><ellipse cx="16.4" cy="17.55" rx="10.26" ry="9.135" fill="#e4edf9" stroke="none" stroke-width="0.5" opacity="0.9" transform="rotate(0 16.4 17.55)"/><ellipse cx="10.08" cy="12.83" rx="4.3" ry="4.78" fill="#d0e0f4" stroke="none" stroke-width="0.5" opacity="0.8" transform="rotate(-25.3 10.08 12.83)"/><ellipse cx="11.38" cy="14.28" rx="5.29" ry="3.42" fill="#d0e0f4" stroke="none" stroke-width="0.5" opacity="0.8" transform="rotate(16.8 11.38 14.28)"/><ellipse cx="18.5" cy="13.12" rx="4.69" ry="4.18" fill="#d0e0f4" stroke="none" stroke-width="0.5" opacity="0.8" transform="rotate(-6.1 18.5 13.12)"/><ellipse cx="22.83" cy="12.59" rx="3.29" ry="5.43" fill="#d0e0f4" stroke="none" stroke-width="0.5" opacity="0.8" transform="rotate(-6.8 22.83 12.59)"/><ellipse cx="12.49" cy="15.48" rx="4.23" ry="5.47" fill="#d0e0f4" stroke="none" stroke-width="0.5" opacity="0.8" transform="rotate(-20.3 12.49 15.48)"/><ellipse cx="12.73" cy="18.58" rx="4.72" ry="5.47" fill="#d0e0f4" stroke="none" stroke-width="0.5" opacity="0.8" transform="rotate(23.7 12.73 18.58)"/><ellipse cx="14.53" cy="13.94" rx="5.5" ry="5.55" fill="#d0e0f4" stroke="none" stroke-width="0.5" opacity="0.8" transform="rotate(-32.9 14.53 13.94)"/><ellipse cx="10.08" cy="12.83" rx="4.3" ry="4.78" fill="none" stroke="#8aaedf" stroke-width="0.6" opacity="0.9" transform="rotate(-25.3 10.08 12.83)"/><ellipse cx="11.38" cy="14.28" rx="5.29" ry="3.42" fill="none" stroke="#8aaedf" stroke-width="0.6" opacity="0.9" transform="rotate(16.8 11.38 14.28)"/><ellipse cx="18.5" cy="13.12" rx="4.69" ry="4.18" fill="none" stroke="#8aaedf" stroke-width="0.6" opacity="0.9" transform="rotate(-6.1 18.5 13.12)"/><ellipse cx="22.83" cy="12.59" rx="3.29" ry="5.43" fill="none" stroke="#8aaedf" stroke-width="0.6" opacity="0.9" transform="rotate(-6.8 22.83 12.59)"/><ellipse cx="12.49" cy="15.48" rx="4.23" ry="5.47" fill="none" stroke="#8aaedf" stroke-width="0.6" opacity="0.9" transform="rotate(-20.3 12.49 15.48)"/><ellipse cx="12.73" cy="18.58" rx="4.72" ry="5.47" fill="none" stroke="#8aaedf" stroke-width="0.6" opacity="0.9" transform="rotate(23.7 12.73 18.58)"/><ellipse cx="14.53" cy="13.94" rx="5.5" ry="5.55" fill="none" stroke="#8aaedf" stroke-width="0.6" opacity="0.9" transform="rotate(-32.9 14.53 13.94)"/><ellipse cx="20.1" cy="16.8" rx="6.48" ry="6.089999999999999" fill="#b3cdee" stroke="#6593d2" stroke-width="0.7" opacity="0.9" transform="rotate(0 20.1 16.8)"/><ellipse cx="19.400000000000002" cy="16.4" rx="4.6656" ry="4.384799999999999" fill="#a3c2ea" stroke="#4f82c8" stroke-width="0.7" opacity="0.9" transform="rotate(0 19.400000000000002 16.4)"/><ellipse cx="18.6" cy="16.0" rx="3.9" ry="2.8" fill="#7da6dc" stroke="#2558a8" stroke-width="1.1" opacity="1.0" transform="rotate(-12 18.6 16.0)"/><ellipse cx="18.900000000000002" cy="16.2" rx="1.7" ry="1.1" fill="#b6d0f0" stroke="none" stroke-width="0.5" opacity="1.0" transform="rotate(0 18.900000000000002 16.2)"/></g><g id="blobA32" filter="url(#soft)"><ellipse cx="24.099999999999998" cy="18.2" rx="16.435" ry="9.72" fill="#e4edf9" stroke="none" stroke-width="0.5" opacity="0.9" transform="rotate(0 24.099999999999998 18.2)"/><ellipse cx="15.33" cy="14.49" rx="6.5" ry="5.67" fill="#d0e0f4" stroke="none" stroke-width="0.5" opacity="0.8" transform="rotate(-0.3 15.33 14.49)"/><ellipse cx="28.67" cy="13.02" rx="7.39" ry="5.52" fill="#d0e0f4" stroke="none" stroke-width="0.5" opacity="0.8" transform="rotate(1.6 28.67 13.02)"/><ellipse cx="33.33" cy="23.15" rx="6.79" ry="3.24" fill="#d0e0f4" stroke="none" stroke-width="0.5" opacity="0.8" transform="rotate(17.9 33.33 23.15)"/><ellipse cx="16.34" cy="11.84" rx="8.35" ry="5.52" fill="#d0e0f4" stroke="none" stroke-width="0.5" opacity="0.8" transform="rotate(23.6 16.34 11.84)"/><ellipse cx="33.51" cy="14.33" rx="5.54" ry="3.57" fill="#d0e0f4" stroke="none" stroke-width="0.5" opacity="0.8" transform="rotate(33.4 33.51 14.33)"/><ellipse cx="16.04" cy="13.79" rx="5.28" ry="3.37" fill="#d0e0f4" stroke="none" stroke-width="0.5" opacity="0.8" transform="rotate(-32.3 16.04 13.79)"/><ellipse cx="21.05" cy="13.84" rx="6.53" ry="5.75" fill="#d0e0f4" stroke="none" stroke-width="0.5" opacity="0.8" transform="rotate(-23.3 21.05 13.84)"/><ellipse cx="15.33" cy="14.49" rx="6.5" ry="5.67" fill="none" stroke="#8aaedf" stroke-width="0.6" opacity="0.9" transform="rotate(-0.3 15.33 14.49)"/><ellipse cx="28.67" cy="13.02" rx="7.39" ry="5.52" fill="none" stroke="#8aaedf" stroke-width="0.6" opacity="0.9" transform="rotate(1.6 28.67 13.02)"/><ellipse cx="33.33" cy="23.15" rx="6.79" ry="3.24" fill="none" stroke="#8aaedf" stroke-width="0.6" opacity="0.9" transform="rotate(17.9 33.33 23.15)"/><ellipse cx="16.34" cy="11.84" rx="8.35" ry="5.52" fill="none" stroke="#8aaedf" stroke-width="0.6" opacity="0.9" transform="rotate(23.6 16.34 11.84)"/><ellipse cx="33.51" cy="14.33" rx="5.54" ry="3.57" fill="none" stroke="#8aaedf" stroke-width="0.6" opacity="0.9" transform="rotate(33.4 33.51 14.33)"/><ellipse cx="16.04" cy="13.79" rx="5.28" ry="3.37" fill="none" stroke="#8aaedf" stroke-width="0.6" opacity="0.9" transform="rotate(-32.3 16.04 13.79)"/><ellipse cx="21.05" cy="13.84" rx="6.53" ry="5.75" fill="none" stroke="#8aaedf" stroke-width="0.6" opacity="0.9" transform="rotate(-23.3 21.05 13.84)"/><ellipse cx="25.7" cy="16.8" rx="10" ry="6.48" fill="#b3cdee" stroke="#6593d2" stroke-width="0.7" opacity="0.9" transform="rotate(0 25.7 16.8)"/><ellipse cx="25.0" cy="16.4" rx="7.199999999999999" ry="4.6656" fill="#a3c2ea" stroke="#4f82c8" stroke-width="0.7" opacity="0.9" transform="rotate(0 25.0 16.4)"/><ellipse cx="29.5" cy="16.5" rx="4.0" ry="3.2" fill="#a3c2ea" stroke="#3f74c0" stroke-width="0.8" opacity="0.9" transform="rotate(0 29.5 16.5)"/><ellipse cx="29.5" cy="16.5" rx="2.0" ry="1.5" fill="#6d9ad6" stroke="#1f4f9a" stroke-width="0.8" opacity="0.9" transform="rotate(0 29.5 16.5)"/><ellipse cx="24.2" cy="16.0" rx="3.9" ry="2.8" fill="#7da6dc" stroke="#2558a8" stroke-width="1.1" opacity="1.0" transform="rotate(-12 24.2 16.0)"/><ellipse cx="24.5" cy="16.2" rx="1.7" ry="1.1" fill="#b6d0f0" stroke="none" stroke-width="0.5" opacity="1.0" transform="rotate(0 24.5 16.2)"/><ellipse cx="18" cy="35" rx="1.3" ry="1.3" fill="none" stroke="#9dbbe2" stroke-width="0.6" opacity="0.9" transform="rotate(0 18 35)"/><ellipse cx="22" cy="38" rx="0.8" ry="0.8" fill="none" stroke="#9dbbe2" stroke-width="0.6" opacity="0.9" transform="rotate(0 22 38)"/><ellipse cx="13" cy="44.5" rx="1.0" ry="1.0" fill="none" stroke="#9dbbe2" stroke-width="0.6" opacity="0.9" transform="rotate(0 13 44.5)"/></g><g id="blobD1" filter="url(#soft)"><path d="M3.5,38 C3.5,34 8,32.3 12,32.3 C13.5,31.3 14.5,28.3 16.5,28.3 C18.5,28.8 18.5,31.3 21,31.8 C23,29.8 28,28.8 31.5,30.8 C34,32.8 33.5,37.8 31,39.8 C30,41.3 31.2,43.3 30,44 C28,44.5 26,41 23,40.5 C20.5,40.5 18.5,43 13,43.5 C7,44 3.5,42 3.5,38 Z" fill="#d3e3f5" stroke="none" transform="translate(0.5,0) scale(1)"/><path d="M3.5,38 C3.5,34 8,32.3 12,32.3 C13.5,31.3 14.5,28.3 16.5,28.3 C18.5,28.8 18.5,31.3 21,31.8 C23,29.8 28,28.8 31.5,30.8 C34,32.8 33.5,37.8 31,39.8 C30,41.3 31.2,43.3 30,44 C28,44.5 26,41 23,40.5 C20.5,40.5 18.5,43 13,43.5 C7,44 3.5,42 3.5,38 Z" fill="none" stroke="#2a60b0" stroke-width="1.5"/><ellipse cx="26.5" cy="35.8" rx="4.0" ry="3.6" fill="#eaf2fb" stroke="#3f74c0" stroke-width="0.9" opacity="1.0" transform="rotate(0 26.5 35.8)"/><ellipse cx="11.5" cy="38.0" rx="5.2" ry="3.2" fill="#b8d0ee" stroke="#1f56a8" stroke-width="1.2" opacity="1.0" transform="rotate(0 11.5 38.0)"/><ellipse cx="11.5" cy="38.0" rx="1.5" ry="1.1" fill="#eef4fc" stroke="#2a60b0" stroke-width="0.7" opacity="1.0" transform="rotate(0 11.5 38.0)"/><ellipse cx="16.5" cy="30.5" rx="1.6" ry="2.0" fill="#3a70bb" stroke="none" stroke-width="0.6" opacity="1.0" transform="rotate(0 16.5 30.5)"/></g><g id="blobD1up" filter="url(#soft)"><ellipse cx="21.5" cy="18" rx="8" ry="12" fill="#e6edf7" stroke="none" stroke-width="0.5" opacity="0.9" transform="rotate(0 21.5 18)"/><ellipse cx="21" cy="22" rx="5" ry="8" fill="#d9e4f3" stroke="none" stroke-width="0.5" opacity="0.8" transform="rotate(0 21 22)"/><ellipse cx="20.35" cy="19.62" rx="0.6" ry="0.6" fill="#b8cce8" stroke="none" stroke-width="0.5" opacity="0.8" transform="rotate(0 20.35 19.62)"/><ellipse cx="23.8" cy="5.74" rx="0.6" ry="0.6" fill="#b8cce8" stroke="none" stroke-width="0.5" opacity="0.8" transform="rotate(0 23.8 5.74)"/><ellipse cx="17.31" cy="5.39" rx="0.6" ry="0.6" fill="#b8cce8" stroke="none" stroke-width="0.5" opacity="0.8" transform="rotate(0 17.31 5.39)"/><ellipse cx="20.54" cy="16.18" rx="0.6" ry="0.6" fill="#b8cce8" stroke="none" stroke-width="0.5" opacity="0.8" transform="rotate(0 20.54 16.18)"/><ellipse cx="26.17" cy="5.68" rx="0.6" ry="0.6" fill="#b8cce8" stroke="none" stroke-width="0.5" opacity="0.8" transform="rotate(0 26.17 5.68)"/><ellipse cx="22.62" cy="6.18" rx="0.6" ry="0.6" fill="#b8cce8" stroke="none" stroke-width="0.5" opacity="0.8" transform="rotate(0 22.62 6.18)"/><ellipse cx="14.0" cy="6.97" rx="0.6" ry="0.6" fill="#b8cce8" stroke="none" stroke-width="0.5" opacity="0.8" transform="rotate(0 14.0 6.97)"/><ellipse cx="25.35" cy="9.36" rx="0.6" ry="0.6" fill="#b8cce8" stroke="none" stroke-width="0.5" opacity="0.8" transform="rotate(0 25.35 9.36)"/><ellipse cx="13.89" cy="17.85" rx="0.6" ry="0.6" fill="#b8cce8" stroke="none" stroke-width="0.5" opacity="0.8" transform="rotate(0 13.89 17.85)"/><ellipse cx="13.65" cy="13.52" rx="0.6" ry="0.6" fill="#b8cce8" stroke="none" stroke-width="0.5" opacity="0.8" transform="rotate(0 13.65 13.52)"/><ellipse cx="22.87" cy="24.6" rx="0.6" ry="0.6" fill="#b8cce8" stroke="none" stroke-width="0.5" opacity="0.8" transform="rotate(0 22.87 24.6)"/><ellipse cx="21.29" cy="10.95" rx="0.6" ry="0.6" fill="#b8cce8" stroke="none" stroke-width="0.5" opacity="0.8" transform="rotate(0 21.29 10.95)"/><ellipse cx="22.89" cy="11.4" rx="0.6" ry="0.6" fill="#b8cce8" stroke="none" stroke-width="0.5" opacity="0.8" transform="rotate(0 22.89 11.4)"/><ellipse cx="23.27" cy="23.59" rx="0.6" ry="0.6" fill="#b8cce8" stroke="none" stroke-width="0.5" opacity="0.8" transform="rotate(0 23.27 23.59)"/><ellipse cx="24.0" cy="19.33" rx="0.6" ry="0.6" fill="#b8cce8" stroke="none" stroke-width="0.5" opacity="0.8" transform="rotate(0 24.0 19.33)"/><ellipse cx="26.89" cy="12.94" rx="0.6" ry="0.6" fill="#b8cce8" stroke="none" stroke-width="0.5" opacity="0.8" transform="rotate(0 26.89 12.94)"/><ellipse cx="19.95" cy="5.43" rx="0.6" ry="0.6" fill="#b8cce8" stroke="none" stroke-width="0.5" opacity="0.8" transform="rotate(0 19.95 5.43)"/><ellipse cx="21.02" cy="8.94" rx="0.6" ry="0.6" fill="#b8cce8" stroke="none" stroke-width="0.5" opacity="0.8" transform="rotate(0 21.02 8.94)"/><ellipse cx="19.49" cy="11.54" rx="0.6" ry="0.6" fill="#b8cce8" stroke="none" stroke-width="0.5" opacity="0.8" transform="rotate(0 19.49 11.54)"/><ellipse cx="17.19" cy="18.05" rx="0.6" ry="0.6" fill="#b8cce8" stroke="none" stroke-width="0.5" opacity="0.8" transform="rotate(0 17.19 18.05)"/><ellipse cx="17.86" cy="23.07" rx="0.6" ry="0.6" fill="#b8cce8" stroke="none" stroke-width="0.5" opacity="0.8" transform="rotate(0 17.86 23.07)"/><ellipse cx="22.6" cy="20.78" rx="0.6" ry="0.6" fill="#b8cce8" stroke="none" stroke-width="0.5" opacity="0.8" transform="rotate(0 22.6 20.78)"/><ellipse cx="21.72" cy="16.6" rx="0.6" ry="0.6" fill="#b8cce8" stroke="none" stroke-width="0.5" opacity="0.8" transform="rotate(0 21.72 16.6)"/><ellipse cx="27.38" cy="25.0" rx="0.6" ry="0.6" fill="#b8cce8" stroke="none" stroke-width="0.5" opacity="0.8" transform="rotate(0 27.38 25.0)"/><ellipse cx="21.02" cy="27.52" rx="0.6" ry="0.6" fill="#b8cce8" stroke="none" stroke-width="0.5" opacity="0.8" transform="rotate(0 21.02 27.52)"/><ellipse cx="17.82" cy="6.83" rx="0.6" ry="0.6" fill="#b8cce8" stroke="none" stroke-width="0.5" opacity="0.8" transform="rotate(0 17.82 6.83)"/><ellipse cx="14.91" cy="7.65" rx="0.6" ry="0.6" fill="#b8cce8" stroke="none" stroke-width="0.5" opacity="0.8" transform="rotate(0 14.91 7.65)"/><ellipse cx="25.23" cy="15.74" rx="0.6" ry="0.6" fill="#b8cce8" stroke="none" stroke-width="0.5" opacity="0.8" transform="rotate(0 25.23 15.74)"/><ellipse cx="27.98" cy="22.35" rx="0.6" ry="0.6" fill="#b8cce8" stroke="none" stroke-width="0.5" opacity="0.8" transform="rotate(0 27.98 22.35)"/><ellipse cx="23.13" cy="17.75" rx="0.6" ry="0.6" fill="#b8cce8" stroke="none" stroke-width="0.5" opacity="0.8" transform="rotate(0 23.13 17.75)"/><ellipse cx="24.27" cy="20.69" rx="0.6" ry="0.6" fill="#b8cce8" stroke="none" stroke-width="0.5" opacity="0.8" transform="rotate(0 24.27 20.69)"/><ellipse cx="18.75" cy="18.26" rx="0.6" ry="0.6" fill="#b8cce8" stroke="none" stroke-width="0.5" opacity="0.8" transform="rotate(0 18.75 18.26)"/><ellipse cx="17.15" cy="24.16" rx="0.6" ry="0.6" fill="#b8cce8" stroke="none" stroke-width="0.5" opacity="0.8" transform="rotate(0 17.15 24.16)"/><ellipse cx="19.11" cy="26.67" rx="0.6" ry="0.6" fill="#b8cce8" stroke="none" stroke-width="0.5" opacity="0.8" transform="rotate(0 19.11 26.67)"/><ellipse cx="14.94" cy="5.46" rx="0.6" ry="0.6" fill="#b8cce8" stroke="none" stroke-width="0.5" opacity="0.8" transform="rotate(0 14.94 5.46)"/><ellipse cx="22.58" cy="20.84" rx="0.6" ry="0.6" fill="#b8cce8" stroke="none" stroke-width="0.5" opacity="0.8" transform="rotate(0 22.58 20.84)"/><ellipse cx="12.95" cy="23.73" rx="0.6" ry="0.6" fill="#b8cce8" stroke="none" stroke-width="0.5" opacity="0.8" transform="rotate(0 12.95 23.73)"/><ellipse cx="10.17" cy="10.83" rx="0.6" ry="0.6" fill="#b8cce8" stroke="none" stroke-width="0.5" opacity="0.8" transform="rotate(0 10.17 10.83)"/><ellipse cx="16.46" cy="4.54" rx="0.6" ry="0.6" fill="#b8cce8" stroke="none" stroke-width="0.5" opacity="0.8" transform="rotate(0 16.46 4.54)"/><ellipse cx="25.9" cy="15.08" rx="0.6" ry="0.6" fill="#b8cce8" stroke="none" stroke-width="0.5" opacity="0.8" transform="rotate(0 25.9 15.08)"/></g><g id="blobD2" filter="url(#soft)"><ellipse cx="23.5" cy="37.8" rx="6.2" ry="3.6" fill="#c6daf2" stroke="none" stroke-width="0.5" opacity="1" transform="rotate(-15 23.5 37.8)"/><ellipse cx="25.0" cy="37.0" rx="4.2" ry="2.7" fill="#5f90d0" stroke="#2a5fae" stroke-width="0.6" opacity="1" transform="rotate(-15 25.0 37.0)"/><ellipse cx="25.5" cy="36.6" rx="2.6" ry="1.5" fill="#1f56a8" stroke="none" stroke-width="0.5" opacity="1" transform="rotate(-15 25.5 36.6)"/><ellipse cx="26.2" cy="36.4" rx="0.9" ry="0.6" fill="#9fc0ea" stroke="none" stroke-width="0.6" opacity="1.0" transform="rotate(0 26.2 36.4)"/><ellipse cx="26.2" cy="28.0" rx="1.8" ry="5.5" fill="none" stroke="#a9c6ea" stroke-width="0.6" opacity="1.0" transform="rotate(0 26.2 28.0)"/></g></defs><rect x="0" y="0" width="520" height="577" fill="#fff"/>
<text x="8.20" y="16.32" font-family='"Liberation Sans", sans-serif' font-size="14" font-weight="bold" fill="#000" text-anchor="start" stroke="#000" stroke-width="0.15">A</text>
<text x="80.20" y="19.50" font-family='"Liberation Serif", serif' font-size="10" font-weight="bold" fill="#000" text-anchor="middle" stroke="#000" stroke-width="0.3">Live virus</text>
<line x1="29.00" y1="27.50" x2="130.80" y2="27.50" stroke="#000" stroke-width="1.2" />
<text x="54.20" y="41.40" font-family='"Liberation Serif", serif' font-size="8.8" font-weight="bold" fill="#000" text-anchor="middle" stroke="#000" stroke-width="0.3">Unirradiated</text>
<text x="106.20" y="41.40" font-family='"Liberation Serif", serif' font-size="8.8" font-weight="bold" fill="#000" text-anchor="middle" stroke="#000" stroke-width="0.3">Irradiated</text>
<text x="156.20" y="25.30" font-family='"Liberation Serif", serif' font-size="10" font-weight="bold" fill="#000" text-anchor="middle" stroke="#000" stroke-width="0.3">Inactivated</text>
<text x="156.20" y="37.30" font-family='"Liberation Serif", serif' font-size="10" font-weight="bold" fill="#000" text-anchor="middle" stroke="#000" stroke-width="0.3">virus</text>
<rect x="31.30" y="47.60" width="46.00" height="46.00" fill="#fff" stroke="#6a6a6a" stroke-width="0.9" />
<g transform="translate(31.30,47.60)">
<use href="#blobA00"/>
</g>
<rect x="35.30" y="55.40" width="18.20" height="22.00" fill="none" stroke="#b8786f" stroke-width="0.8" />
<text x="37.50" y="62.91" font-family='"Liberation Serif", serif' font-size="7.9" font-weight="bold" fill="#000" text-anchor="start" stroke="#000" stroke-width="0.3">31</text>
<rect x="82.10" y="47.60" width="46.00" height="46.00" fill="#fff" stroke="#6a6a6a" stroke-width="0.9" />
<g transform="translate(82.10,47.60)">
<use href="#blobA01"/>
</g>
<rect x="86.10" y="55.40" width="18.20" height="22.00" fill="none" stroke="#b8786f" stroke-width="0.8" />
<text x="88.70" y="62.91" font-family='"Liberation Serif", serif' font-size="7.9" font-weight="bold" fill="#000" text-anchor="start" stroke="#000" stroke-width="0.3">28</text>
<rect x="132.80" y="47.60" width="46.00" height="46.00" fill="#fff" stroke="#6a6a6a" stroke-width="0.9" />
<g transform="translate(132.80,47.60)">
<use href="#blobA02"/>
</g>
<rect x="136.80" y="55.40" width="18.20" height="22.00" fill="none" stroke="#b8786f" stroke-width="0.8" />
<text x="140.40" y="62.91" font-family='"Liberation Serif", serif' font-size="7.9" font-weight="bold" fill="#000" text-anchor="start" stroke="#000" stroke-width="0.3">27</text>
<path d="M178.80,92.60h2.2 M178.80,89.29h1.3 M178.80,87.35h1.3 M178.80,85.98h1.3 M178.80,84.91h1.3 M178.80,84.04h1.3 M178.80,83.30h1.3 M178.80,82.67h1.3 M178.80,82.10h1.3 M178.80,81.60h2.2 M178.80,78.29h1.3 M178.80,76.35h1.3 M178.80,74.98h1.3 M178.80,73.91h1.3 M178.80,73.04h1.3 M178.80,72.30h1.3 M178.80,71.67h1.3 M178.80,71.10h1.3 M178.80,70.60h2.2 M178.80,67.29h1.3 M178.80,65.35h1.3 M178.80,63.98h1.3 M178.80,62.91h1.3 M178.80,62.04h1.3 M178.80,61.30h1.3 M178.80,60.67h1.3 M178.80,60.10h1.3 M178.80,59.60h2.2 M178.80,56.29h1.3 M178.80,54.35h1.3 M178.80,52.98h1.3 M178.80,51.91h1.3 M178.80,51.04h1.3 M178.80,50.30h1.3 M178.80,49.67h1.3 M178.80,49.10h1.3" stroke="#999" stroke-width="0.6" fill="none"/>
<g transform="translate(16.30,70.60) rotate(-90)"><text x="0" y="3.30" font-family='"Liberation Serif", serif' font-size="10" font-weight="bold" fill="#000" text-anchor="middle" stroke="#000" stroke-width="0.3">0</text></g>
<rect x="31.30" y="98.60" width="46.00" height="46.00" fill="#fff" stroke="#6a6a6a" stroke-width="0.9" />
<g transform="translate(31.30,98.60)">
<use href="#blobA10"/>
</g>
<rect x="35.30" y="106.40" width="18.20" height="22.00" fill="none" stroke="#b8786f" stroke-width="0.8" />
<text x="37.50" y="113.91" font-family='"Liberation Serif", serif' font-size="7.9" font-weight="bold" fill="#000" text-anchor="start" stroke="#000" stroke-width="0.3">51</text>
<rect x="82.10" y="98.60" width="46.00" height="46.00" fill="#fff" stroke="#6a6a6a" stroke-width="0.9" />
<g transform="translate(82.10,98.60)">
<use href="#blobA11"/>
</g>
<rect x="86.10" y="106.40" width="18.20" height="22.00" fill="none" stroke="#b8786f" stroke-width="0.8" />
<text x="88.70" y="113.91" font-family='"Liberation Serif", serif' font-size="7.9" font-weight="bold" fill="#000" text-anchor="start" stroke="#000" stroke-width="0.3">47</text>
<rect x="132.80" y="98.60" width="46.00" height="46.00" fill="#fff" stroke="#6a6a6a" stroke-width="0.9" />
<g transform="translate(132.80,98.60)">
<use href="#blobA12"/>
</g>
<rect x="136.80" y="106.40" width="18.20" height="22.00" fill="none" stroke="#b8786f" stroke-width="0.8" />
<text x="140.40" y="113.91" font-family='"Liberation Serif", serif' font-size="7.9" font-weight="bold" fill="#000" text-anchor="start" stroke="#000" stroke-width="0.3">25</text>
<path d="M178.80,143.60h2.2 M178.80,140.29h1.3 M178.80,138.35h1.3 M178.80,136.98h1.3 M178.80,135.91h1.3 M178.80,135.04h1.3 M178.80,134.30h1.3 M178.80,133.67h1.3 M178.80,133.10h1.3 M178.80,132.60h2.2 M178.80,129.29h1.3 M178.80,127.35h1.3 M178.80,125.98h1.3 M178.80,124.91h1.3 M178.80,124.04h1.3 M178.80,123.30h1.3 M178.80,122.67h1.3 M178.80,122.10h1.3 M178.80,121.60h2.2 M178.80,118.29h1.3 M178.80,116.35h1.3 M178.80,114.98h1.3 M178.80,113.91h1.3 M178.80,113.04h1.3 M178.80,112.30h1.3 M178.80,111.67h1.3 M178.80,111.10h1.3 M178.80,110.60h2.2 M178.80,107.29h1.3 M178.80,105.35h1.3 M178.80,103.98h1.3 M178.80,102.91h1.3 M178.80,102.04h1.3 M178.80,101.30h1.3 M178.80,100.67h1.3 M178.80,100.10h1.3" stroke="#999" stroke-width="0.6" fill="none"/>
<g transform="translate(16.30,121.60) rotate(-90)"><text x="0" y="3.30" font-family='"Liberation Serif", serif' font-size="10" font-weight="bold" fill="#000" text-anchor="middle" stroke="#000" stroke-width="0.3">0.1</text></g>
<rect x="31.30" y="149.60" width="46.00" height="46.00" fill="#fff" stroke="#6a6a6a" stroke-width="0.9" />
<g transform="translate(31.30,149.60)">
<use href="#blobA20"/>
</g>
<rect x="35.30" y="157.40" width="18.20" height="22.00" fill="none" stroke="#b8786f" stroke-width="0.8" />
<text x="37.50" y="164.91" font-family='"Liberation Serif", serif' font-size="7.9" font-weight="bold" fill="#000" text-anchor="start" stroke="#000" stroke-width="0.3">77</text>
<rect x="82.10" y="149.60" width="46.00" height="46.00" fill="#fff" stroke="#6a6a6a" stroke-width="0.9" />
<g transform="translate(82.10,149.60)">
<use href="#blobA21"/>
</g>
<rect x="86.10" y="157.40" width="18.20" height="22.00" fill="none" stroke="#b8786f" stroke-width="0.8" />
<text x="88.70" y="164.91" font-family='"Liberation Serif", serif' font-size="7.9" font-weight="bold" fill="#000" text-anchor="start" stroke="#000" stroke-width="0.3">81</text>
<rect x="132.80" y="149.60" width="46.00" height="46.00" fill="#fff" stroke="#6a6a6a" stroke-width="0.9" />
<g transform="translate(132.80,149.60)">
<use href="#blobA22"/>
</g>
<rect x="136.80" y="157.40" width="18.20" height="22.00" fill="none" stroke="#b8786f" stroke-width="0.8" />
<text x="140.40" y="164.91" font-family='"Liberation Serif", serif' font-size="7.9" font-weight="bold" fill="#000" text-anchor="start" stroke="#000" stroke-width="0.3">32</text>
<path d="M178.80,194.60h2.2 M178.80,191.29h1.3 M178.80,189.35h1.3 M178.80,187.98h1.3 M178.80,186.91h1.3 M178.80,186.04h1.3 M178.80,185.30h1.3 M178.80,184.67h1.3 M178.80,184.10h1.3 M178.80,183.60h2.2 M178.80,180.29h1.3 M178.80,178.35h1.3 M178.80,176.98h1.3 M178.80,175.91h1.3 M178.80,175.04h1.3 M178.80,174.30h1.3 M178.80,173.67h1.3 M178.80,173.10h1.3 M178.80,172.60h2.2 M178.80,169.29h1.3 M178.80,167.35h1.3 M178.80,165.98h1.3 M178.80,164.91h1.3 M178.80,164.04h1.3 M178.80,163.30h1.3 M178.80,162.67h1.3 M178.80,162.10h1.3 M178.80,161.60h2.2 M178.80,158.29h1.3 M178.80,156.35h1.3 M178.80,154.98h1.3 M178.80,153.91h1.3 M178.80,153.04h1.3 M178.80,152.30h1.3 M178.80,151.67h1.3 M178.80,151.10h1.3" stroke="#999" stroke-width="0.6" fill="none"/>
<g transform="translate(16.30,172.60) rotate(-90)"><text x="0" y="3.30" font-family='"Liberation Serif", serif' font-size="10" font-weight="bold" fill="#000" text-anchor="middle" stroke="#000" stroke-width="0.3">1</text></g>
<rect x="31.30" y="200.60" width="46.00" height="46.00" fill="#fff" stroke="#6a6a6a" stroke-width="0.9" />
<g transform="translate(31.30,200.60)">
<use href="#blobA30"/>
</g>
<rect x="35.30" y="208.40" width="18.20" height="22.00" fill="none" stroke="#b8786f" stroke-width="0.8" />
<text x="37.50" y="215.91" font-family='"Liberation Serif", serif' font-size="7.9" font-weight="bold" fill="#000" text-anchor="start" stroke="#000" stroke-width="0.3">89</text>
<path d="M32.30,247.20v3.6 M35.61,247.20v2.8 M37.55,247.20v2.8 M38.92,247.20v2.8 M39.99,247.20v2.8 M40.86,247.20v2.8 M41.60,247.20v2.8 M42.23,247.20v2.8 M42.80,247.20v2.8 M43.30,247.20v3.6 M46.61,247.20v2.8 M48.55,247.20v2.8 M49.92,247.20v2.8 M50.99,247.20v2.8 M51.86,247.20v2.8 M52.60,247.20v2.8 M53.23,247.20v2.8 M53.80,247.20v2.8 M54.30,247.20v3.6 M57.61,247.20v2.8 M59.55,247.20v2.8 M60.92,247.20v2.8 M61.99,247.20v2.8 M62.86,247.20v2.8 M63.60,247.20v2.8 M64.23,247.20v2.8 M64.80,247.20v2.8 M65.30,247.20v3.6 M68.61,247.20v2.8 M70.55,247.20v2.8 M71.92,247.20v2.8 M72.99,247.20v2.8 M73.86,247.20v2.8 M74.60,247.20v2.8 M75.23,247.20v2.8 M75.80,247.20v2.8" stroke="#9a9a9a" stroke-width="0.7" fill="none"/>
<rect x="82.10" y="200.60" width="46.00" height="46.00" fill="#fff" stroke="#6a6a6a" stroke-width="0.9" />
<g transform="translate(82.10,200.60)">
<use href="#blobA31"/>
</g>
<rect x="86.10" y="208.40" width="18.20" height="22.00" fill="none" stroke="#b8786f" stroke-width="0.8" />
<text x="88.70" y="215.91" font-family='"Liberation Serif", serif' font-size="7.9" font-weight="bold" fill="#000" text-anchor="start" stroke="#000" stroke-width="0.3">88</text>
<path d="M83.10,247.20v3.6 M86.41,247.20v2.8 M88.35,247.20v2.8 M89.72,247.20v2.8 M90.79,247.20v2.8 M91.66,247.20v2.8 M92.40,247.20v2.8 M93.03,247.20v2.8 M93.60,247.20v2.8 M94.10,247.20v3.6 M97.41,247.20v2.8 M99.35,247.20v2.8 M100.72,247.20v2.8 M101.79,247.20v2.8 M102.66,247.20v2.8 M103.40,247.20v2.8 M104.03,247.20v2.8 M104.60,247.20v2.8 M105.10,247.20v3.6 M108.41,247.20v2.8 M110.35,247.20v2.8 M111.72,247.20v2.8 M112.79,247.20v2.8 M113.66,247.20v2.8 M114.40,247.20v2.8 M115.03,247.20v2.8 M115.60,247.20v2.8 M116.10,247.20v3.6 M119.41,247.20v2.8 M121.35,247.20v2.8 M122.72,247.20v2.8 M123.79,247.20v2.8 M124.66,247.20v2.8 M125.40,247.20v2.8 M126.03,247.20v2.8 M126.60,247.20v2.8" stroke="#9a9a9a" stroke-width="0.7" fill="none"/>
<rect x="132.80" y="200.60" width="46.00" height="46.00" fill="#fff" stroke="#6a6a6a" stroke-width="0.9" />
<g transform="translate(132.80,200.60)">
<use href="#blobA32"/>
</g>
<rect x="136.80" y="208.40" width="18.20" height="22.00" fill="none" stroke="#b8786f" stroke-width="0.8" />
<text x="140.40" y="215.91" font-family='"Liberation Serif", serif' font-size="7.9" font-weight="bold" fill="#000" text-anchor="start" stroke="#000" stroke-width="0.3">30</text>
<path d="M178.80,245.60h2.2 M178.80,242.29h1.3 M178.80,240.35h1.3 M178.80,238.98h1.3 M178.80,237.91h1.3 M178.80,237.04h1.3 M178.80,236.30h1.3 M178.80,235.67h1.3 M178.80,235.10h1.3 M178.80,234.60h2.2 M178.80,231.29h1.3 M178.80,229.35h1.3 M178.80,227.98h1.3 M178.80,226.91h1.3 M178.80,226.04h1.3 M178.80,225.30h1.3 M178.80,224.67h1.3 M178.80,224.10h1.3 M178.80,223.60h2.2 M178.80,220.29h1.3 M178.80,218.35h1.3 M178.80,216.98h1.3 M178.80,215.91h1.3 M178.80,215.04h1.3 M178.80,214.30h1.3 M178.80,213.67h1.3 M178.80,213.10h1.3 M178.80,212.60h2.2 M178.80,209.29h1.3 M178.80,207.35h1.3 M178.80,205.98h1.3 M178.80,204.91h1.3 M178.80,204.04h1.3 M178.80,203.30h1.3 M178.80,202.67h1.3 M178.80,202.10h1.3" stroke="#999" stroke-width="0.6" fill="none"/>
<path d="M133.80,247.20v3.6 M137.11,247.20v2.8 M139.05,247.20v2.8 M140.42,247.20v2.8 M141.49,247.20v2.8 M142.36,247.20v2.8 M143.10,247.20v2.8 M143.73,247.20v2.8 M144.30,247.20v2.8 M144.80,247.20v3.6 M148.11,247.20v2.8 M150.05,247.20v2.8 M151.42,247.20v2.8 M152.49,247.20v2.8 M153.36,247.20v2.8 M154.10,247.20v2.8 M154.73,247.20v2.8 M155.30,247.20v2.8 M155.80,247.20v3.6 M159.11,247.20v2.8 M161.05,247.20v2.8 M162.42,247.20v2.8 M163.49,247.20v2.8 M164.36,247.20v2.8 M165.10,247.20v2.8 M165.73,247.20v2.8 M166.30,247.20v2.8 M166.80,247.20v3.6 M170.11,247.20v2.8 M172.05,247.20v2.8 M173.42,247.20v2.8 M174.49,247.20v2.8 M175.36,247.20v2.8 M176.10,247.20v2.8 M176.73,247.20v2.8 M177.30,247.20v2.8" stroke="#9a9a9a" stroke-width="0.7" fill="none"/>
<g transform="translate(16.30,223.60) rotate(-90)"><text x="0" y="3.30" font-family='"Liberation Serif", serif' font-size="10" font-weight="bold" fill="#000" text-anchor="middle" stroke="#000" stroke-width="0.3">MOI: 10</text></g>
<line x1="194.20" y1="56.30" x2="194.20" y2="203.50" stroke="#000" stroke-width="1.1" />
<path d="M194.20,51.80 L192.00,56.80 L196.40,56.80 Z" fill="#000"/>
<g transform="translate(193.80,232.00) rotate(-90)"><text x="0" y="3.30" font-family='"Liberation Serif", serif' font-size="10" font-weight="bold" fill="#000" text-anchor="middle" stroke="#000" stroke-width="0.3">CD11c</text></g>
<text x="30.20" y="267.50" font-family='"Liberation Serif", serif' font-size="10" font-weight="bold" fill="#000" text-anchor="start" stroke="#000" stroke-width="0.3">CD123</text>
<line x1="68.80" y1="264.60" x2="172.00" y2="264.60" stroke="#000" stroke-width="1.1" />
<path d="M176.50,264.60 L171.50,262.40 L171.50,266.80 Z" fill="#000"/>
<line x1="222.80" y1="59.50" x2="252.00" y2="59.50" stroke="#cc1c1c" stroke-width="2.6" />
<path d="M261.2,59.5 L248.3,52.8 L251.6,59.5 L248.3,66.2 Z" fill="#cc1c1c"/>
<text x="272.60" y="16.32" font-family='"Liberation Sans", sans-serif' font-size="14" font-weight="bold" fill="#000" text-anchor="start" stroke="#000" stroke-width="0.15">B</text>
<line x1="289.30" y1="36.10" x2="289.30" y2="79.50" stroke="#000" stroke-width="1.1" />
<path d="M289.30,31.60 L287.10,36.60 L291.50,36.60 Z" fill="#000"/>
<g transform="translate(288.30,104.50) rotate(-90)"><text x="0" y="3.30" font-family='"Liberation Serif", serif' font-size="10" font-weight="bold" fill="#000" text-anchor="middle" stroke="#000" stroke-width="0.3">% Max</text></g>
<rect x="303.50" y="28.30" width="90.80" height="90.50" fill="#fff" stroke="none" stroke-width="1" />
<path d="M304.00,52.10 L304.00,52.10 L310.00,52.10 L314.00,51.30 L316.00,50.30 L318.50,47.30 L320.00,40.10 L321.40,31.10 L322.50,35.10 L324.60,40.40 L326.00,44.10 L327.70,48.10 L329.00,50.60 L330.50,51.80 L332.00,52.10 L393.80,52.10 L393.80,52.10 Z" fill="#f7a8a8" stroke="none"/>
<path d="M304.00,52.10 L310.00,52.10 L314.00,51.30 L316.00,50.30 L318.50,47.30 L320.00,40.10 L321.40,31.10 L322.50,35.10 L324.60,40.40 L326.00,44.10 L327.70,48.10 L329.00,50.60 L330.50,51.80 L332.00,52.10 L393.80,52.10" fill="none" stroke="#c86464" stroke-width="1" stroke-linejoin="round"/>
<path d="M304.00,74.30 L304.00,74.30 L312.00,74.30 L316.00,73.50 L318.00,71.80 L319.50,66.30 L320.50,58.30 L321.60,53.30 L322.80,56.30 L324.00,63.30 L325.50,70.30 L327.00,73.30 L329.00,74.30 L393.80,74.30 L393.80,74.30 Z" fill="#a8a8f4" stroke="none"/>
<path d="M304.00,74.30 L312.00,74.30 L316.00,73.50 L318.00,71.80 L319.50,66.30 L320.50,58.30 L321.60,53.30 L322.80,56.30 L324.00,63.30 L325.50,70.30 L327.00,73.30 L329.00,74.30 L393.80,74.30" fill="none" stroke="#3434c8" stroke-width="1" stroke-linejoin="round"/>
<path d="M304.00,96.40 L304.00,96.40 L310.00,96.40 L314.00,95.70 L316.50,93.90 L318.00,89.40 L319.30,81.40 L320.50,76.40 L321.50,77.90 L322.50,77.40 L324.00,82.40 L326.00,88.40 L328.00,92.90 L330.00,95.40 L332.00,96.40 L393.80,96.40 L393.80,96.40 Z" fill="#a8f0a8" stroke="none"/>
<path d="M304.00,96.40 L310.00,96.40 L314.00,95.70 L316.50,93.90 L318.00,89.40 L319.30,81.40 L320.50,76.40 L321.50,77.90 L322.50,77.40 L324.00,82.40 L326.00,88.40 L328.00,92.90 L330.00,95.40 L332.00,96.40 L393.80,96.40" fill="none" stroke="#40c840" stroke-width="1" stroke-linejoin="round"/>
<path d="M304.00,118.60 L304.00,118.60 L312.00,118.60 L315.00,117.80 L317.00,115.60 L318.50,109.60 L320.00,101.60 L321.00,97.60 L322.00,99.60 L323.50,106.60 L325.00,113.60 L327.00,117.10 L329.00,118.60 L393.80,118.60 L393.80,118.60 Z" fill="#f8cc9c" stroke="none"/>
<path d="M304.00,118.60 L312.00,118.60 L315.00,117.80 L317.00,115.60 L318.50,109.60 L320.00,101.60 L321.00,97.60 L322.00,99.60 L323.50,106.60 L325.00,113.60 L327.00,117.10 L329.00,118.60 L393.80,118.60" fill="none" stroke="#e0a060" stroke-width="1" stroke-linejoin="round"/>
<line x1="331.50" y1="28.30" x2="331.50" y2="118.80" stroke="#707070" stroke-width="1.0" />
<rect x="303.50" y="28.30" width="90.80" height="90.50" fill="none" stroke="#666" stroke-width="1" />
<path d="M304.50,120.10v3.6 M311.18,120.10v2.8 M315.09,120.10v2.8 M317.87,120.10v2.8 M320.02,120.10v2.8 M321.77,120.10v2.8 M323.26,120.10v2.8 M324.55,120.10v2.8 M325.68,120.10v2.8 M326.70,120.10v3.6 M333.38,120.10v2.8 M337.29,120.10v2.8 M340.07,120.10v2.8 M342.22,120.10v2.8 M343.97,120.10v2.8 M345.46,120.10v2.8 M346.75,120.10v2.8 M347.88,120.10v2.8 M348.90,120.10v3.6 M355.58,120.10v2.8 M359.49,120.10v2.8 M362.27,120.10v2.8 M364.42,120.10v2.8 M366.17,120.10v2.8 M367.66,120.10v2.8 M368.95,120.10v2.8 M370.08,120.10v2.8 M371.10,120.10v3.6 M377.78,120.10v2.8 M381.69,120.10v2.8 M384.47,120.10v2.8 M386.62,120.10v2.8 M388.37,120.10v2.8 M389.86,120.10v2.8 M391.15,120.10v2.8 M392.28,120.10v2.8" stroke="#9a9a9a" stroke-width="0.7" fill="none"/>
<rect x="409.80" y="28.30" width="91.00" height="90.50" fill="#fff" stroke="none" stroke-width="1" />
<path d="M410.30,52.10 L410.30,52.10 L432.50,52.10 L436.00,51.10 L439.00,49.10 L441.00,44.10 L443.00,36.10 L444.00,38.10 L445.80,34.10 L446.80,36.10 L448.30,31.10 L449.50,35.10 L451.00,42.10 L453.00,47.10 L456.00,49.60 L460.00,51.10 L463.00,51.80 L470.00,52.10 L500.30,52.10 L500.30,52.10 Z" fill="#f7a8a8" stroke="none"/>
<path d="M410.30,52.10 L432.50,52.10 L436.00,51.10 L439.00,49.10 L441.00,44.10 L443.00,36.10 L444.00,38.10 L445.80,34.10 L446.80,36.10 L448.30,31.10 L449.50,35.10 L451.00,42.10 L453.00,47.10 L456.00,49.60 L460.00,51.10 L463.00,51.80 L470.00,52.10 L500.30,52.10" fill="none" stroke="#c86464" stroke-width="1" stroke-linejoin="round"/>
<path d="M410.30,74.30 L410.30,74.30 L436.00,74.30 L441.00,73.30 L445.00,71.80 L448.00,69.30 L450.00,65.30 L452.00,60.30 L454.00,56.30 L455.00,55.30 L456.20,53.30 L457.00,54.80 L458.00,54.30 L460.00,58.30 L462.00,62.30 L464.00,66.30 L466.00,69.30 L468.00,71.30 L470.00,73.30 L472.00,74.30 L500.30,74.30 L500.30,74.30 Z" fill="#a8a8f4" stroke="none"/>
<path d="M410.30,74.30 L436.00,74.30 L441.00,73.30 L445.00,71.80 L448.00,69.30 L450.00,65.30 L452.00,60.30 L454.00,56.30 L455.00,55.30 L456.20,53.30 L457.00,54.80 L458.00,54.30 L460.00,58.30 L462.00,62.30 L464.00,66.30 L466.00,69.30 L468.00,71.30 L470.00,73.30 L472.00,74.30 L500.30,74.30" fill="none" stroke="#3434c8" stroke-width="1" stroke-linejoin="round"/>
<path d="M410.30,96.40 L410.30,96.40 L436.00,96.40 L441.00,95.40 L445.00,94.40 L449.00,92.40 L451.00,90.40 L453.00,86.40 L454.50,81.40 L456.00,76.90 L457.40,75.60 L459.00,77.90 L461.00,79.40 L463.20,78.90 L465.00,82.40 L467.00,86.40 L469.00,92.40 L470.00,94.90 L472.00,96.40 L500.30,96.40 L500.30,96.40 Z" fill="#a8f0a8" stroke="none"/>
<path d="M410.30,96.40 L436.00,96.40 L441.00,95.40 L445.00,94.40 L449.00,92.40 L451.00,90.40 L453.00,86.40 L454.50,81.40 L456.00,76.90 L457.40,75.60 L459.00,77.90 L461.00,79.40 L463.20,78.90 L465.00,82.40 L467.00,86.40 L469.00,92.40 L470.00,94.90 L472.00,96.40 L500.30,96.40" fill="none" stroke="#40c840" stroke-width="1" stroke-linejoin="round"/>
<path d="M410.30,118.60 L410.30,118.60 L444.00,118.60 L447.40,117.60 L450.00,115.60 L452.00,112.60 L454.00,109.60 L456.00,106.60 L457.00,103.60 L458.00,104.60 L459.00,100.60 L460.40,98.60 L461.50,101.60 L462.50,103.60 L463.50,104.10 L464.50,106.60 L466.00,109.60 L468.00,113.60 L470.00,116.60 L472.00,118.60 L500.30,118.60 L500.30,118.60 Z" fill="#f8cc9c" stroke="none"/>
<path d="M410.30,118.60 L444.00,118.60 L447.40,117.60 L450.00,115.60 L452.00,112.60 L454.00,109.60 L456.00,106.60 L457.00,103.60 L458.00,104.60 L459.00,100.60 L460.40,98.60 L461.50,101.60 L462.50,103.60 L463.50,104.10 L464.50,106.60 L466.00,109.60 L468.00,113.60 L470.00,116.60 L472.00,118.60 L500.30,118.60" fill="none" stroke="#e0a060" stroke-width="1" stroke-linejoin="round"/>
<line x1="454.50" y1="28.30" x2="454.50" y2="118.80" stroke="#707070" stroke-width="1.0" />
<rect x="409.80" y="28.30" width="91.00" height="90.50" fill="none" stroke="#666" stroke-width="1" />
<path d="M410.80,120.10v3.6 M417.50,120.10v2.8 M421.42,120.10v2.8 M424.20,120.10v2.8 M426.35,120.10v2.8 M428.11,120.10v2.8 M429.60,120.10v2.8 M430.89,120.10v2.8 M432.03,120.10v2.8 M433.05,120.10v3.6 M439.75,120.10v2.8 M443.67,120.10v2.8 M446.45,120.10v2.8 M448.60,120.10v2.8 M450.36,120.10v2.8 M451.85,120.10v2.8 M453.14,120.10v2.8 M454.28,120.10v2.8 M455.30,120.10v3.6 M462.00,120.10v2.8 M465.92,120.10v2.8 M468.70,120.10v2.8 M470.85,120.10v2.8 M472.61,120.10v2.8 M474.10,120.10v2.8 M475.39,120.10v2.8 M476.53,120.10v2.8 M477.55,120.10v3.6 M484.25,120.10v2.8 M488.17,120.10v2.8 M490.95,120.10v2.8 M493.10,120.10v2.8 M494.86,120.10v2.8 M496.35,120.10v2.8 M497.64,120.10v2.8 M498.78,120.10v2.8" stroke="#9a9a9a" stroke-width="0.7" fill="none"/>
<text x="304.00" y="141.70" font-family='"Liberation Serif", serif' font-size="10" font-weight="bold" fill="#000" text-anchor="start" stroke="#000" stroke-width="0.3">CD16</text>
<line x1="335.50" y1="138.80" x2="390.00" y2="138.80" stroke="#000" stroke-width="1.1" />
<path d="M394.50,138.80 L389.50,136.60 L389.50,141.00 Z" fill="#000"/>
<text x="407.60" y="141.70" font-family='"Liberation Serif", serif' font-size="10" font-weight="bold" fill="#000" text-anchor="start" stroke="#000" stroke-width="0.3">CD83</text>
<line x1="438.80" y1="138.80" x2="494.00" y2="138.80" stroke="#000" stroke-width="1.1" />
<path d="M498.50,138.80 L493.50,136.60 L493.50,141.00 Z" fill="#000"/>
<rect x="285.80" y="155.00" width="232.00" height="16.00" fill="#fff" stroke="#333" stroke-width="1.4" />
<rect x="290.80" y="158.60" width="11.40" height="8.20" fill="#ff3b2a" stroke="none" stroke-width="1" />
<text x="306.00" y="165.64" font-family='"Liberation Serif", serif' font-size="8" font-weight="bold" fill="#000" text-anchor="start" stroke="#000" stroke-width="0.3">MOI 0</text>
<rect x="346.30" y="158.60" width="11.40" height="8.20" fill="#1e3cff" stroke="none" stroke-width="1" />
<text x="362.30" y="165.64" font-family='"Liberation Serif", serif' font-size="8" font-weight="bold" fill="#000" text-anchor="start" stroke="#000" stroke-width="0.3">MOI 0.1</text>
<rect x="408.00" y="158.60" width="11.40" height="8.20" fill="#2ee82e" stroke="none" stroke-width="1" />
<text x="424.40" y="165.64" font-family='"Liberation Serif", serif' font-size="8" font-weight="bold" fill="#000" text-anchor="start" stroke="#000" stroke-width="0.3">MOI 1</text>
<rect x="463.80" y="158.60" width="11.40" height="8.20" fill="#ff9414" stroke="none" stroke-width="1" />
<text x="481.30" y="165.64" font-family='"Liberation Serif", serif' font-size="8" font-weight="bold" fill="#000" text-anchor="start" stroke="#000" stroke-width="0.3">MOI 10</text>
<text x="6.30" y="288.62" font-family='"Liberation Sans", sans-serif' font-size="14" font-weight="bold" fill="#000" text-anchor="start" stroke="#000" stroke-width="0.15">C</text>
<text x="51.00" y="305.45" font-family='"Liberation Sans", sans-serif' font-size="8.2" font-weight="bold" fill="#000" text-anchor="end" stroke="#000" stroke-width="0.15">DC-LAMP</text>
<line x1="52.30" y1="302.50" x2="54.60" y2="302.50" stroke="#000" stroke-width="0.8" />
<rect x="67.30" y="299.40" width="6.20" height="6.20" fill="#588bcc" stroke="none" stroke-width="1" />
<line x1="73.50" y1="302.50" x2="76.50" y2="302.50" stroke="#588bcc" stroke-width="1.2" />
<line x1="76.50" y1="300.60" x2="76.50" y2="304.40" stroke="#588bcc" stroke-width="1.2" />
<text x="51.00" y="313.90" font-family='"Liberation Sans", sans-serif' font-size="8.2" font-weight="bold" fill="#000" text-anchor="end" stroke="#000" stroke-width="0.15">CXCR4</text>
<line x1="52.30" y1="310.95" x2="54.60" y2="310.95" stroke="#000" stroke-width="0.8" />
<rect x="67.30" y="307.85" width="2.70" height="6.20" fill="#588bcc" stroke="none" stroke-width="1" />
<text x="51.00" y="322.35" font-family='"Liberation Sans", sans-serif' font-size="8.2" font-weight="bold" fill="#000" text-anchor="end" stroke="#000" stroke-width="0.15">GM-CSF</text>
<line x1="52.30" y1="319.40" x2="54.60" y2="319.40" stroke="#000" stroke-width="0.8" />
<rect x="67.30" y="316.30" width="17.00" height="6.20" fill="#588bcc" stroke="none" stroke-width="1" />
<line x1="84.30" y1="319.40" x2="89.80" y2="319.40" stroke="#588bcc" stroke-width="1.2" />
<line x1="89.80" y1="317.50" x2="89.80" y2="321.30" stroke="#588bcc" stroke-width="1.2" />
<text x="51.00" y="330.80" font-family='"Liberation Sans", sans-serif' font-size="8.2" font-weight="bold" fill="#000" text-anchor="end" stroke="#000" stroke-width="0.15">CLEC9A</text>
<line x1="52.30" y1="327.85" x2="54.60" y2="327.85" stroke="#000" stroke-width="0.8" />
<rect x="67.30" y="324.75" width="73.70" height="6.20" fill="#588bcc" stroke="none" stroke-width="1" />
<text x="51.00" y="339.25" font-family='"Liberation Sans", sans-serif' font-size="8.2" font-weight="bold" fill="#000" text-anchor="end" stroke="#000" stroke-width="0.15">CLEC4C</text>
<line x1="52.30" y1="336.30" x2="54.60" y2="336.30" stroke="#000" stroke-width="0.8" />
<rect x="67.30" y="333.20" width="3.00" height="6.20" fill="#588bcc" stroke="none" stroke-width="1" />
<line x1="70.30" y1="336.30" x2="73.60" y2="336.30" stroke="#588bcc" stroke-width="1.2" />
<line x1="73.60" y1="334.40" x2="73.60" y2="338.20" stroke="#588bcc" stroke-width="1.2" />
<text x="51.00" y="347.70" font-family='"Liberation Sans", sans-serif' font-size="8.2" font-weight="bold" fill="#000" text-anchor="end" stroke="#000" stroke-width="0.15">CD141</text>
<line x1="52.30" y1="344.75" x2="54.60" y2="344.75" stroke="#000" stroke-width="0.8" />
<rect x="67.30" y="341.65" width="31.20" height="6.20" fill="#588bcc" stroke="none" stroke-width="1" />
<line x1="98.50" y1="344.75" x2="118.50" y2="344.75" stroke="#588bcc" stroke-width="1.2" />
<line x1="118.50" y1="342.85" x2="118.50" y2="346.65" stroke="#588bcc" stroke-width="1.2" />
<text x="51.00" y="356.15" font-family='"Liberation Sans", sans-serif' font-size="8.2" font-weight="bold" fill="#000" text-anchor="end" stroke="#000" stroke-width="0.15">CD83</text>
<line x1="52.30" y1="353.20" x2="54.60" y2="353.20" stroke="#000" stroke-width="0.8" />
<rect x="67.30" y="350.10" width="25.70" height="6.20" fill="#588bcc" stroke="none" stroke-width="1" />
<line x1="93.00" y1="353.20" x2="110.80" y2="353.20" stroke="#588bcc" stroke-width="1.2" />
<line x1="110.80" y1="351.30" x2="110.80" y2="355.10" stroke="#588bcc" stroke-width="1.2" />
<text x="51.00" y="364.60" font-family='"Liberation Sans", sans-serif' font-size="8.2" font-weight="bold" fill="#000" text-anchor="end" stroke="#000" stroke-width="0.15">CD16</text>
<line x1="52.30" y1="361.65" x2="54.60" y2="361.65" stroke="#000" stroke-width="0.8" />
<rect x="67.30" y="358.55" width="45.00" height="6.20" fill="#588bcc" stroke="none" stroke-width="1" />
<line x1="112.30" y1="361.65" x2="126.80" y2="361.65" stroke="#588bcc" stroke-width="1.2" />
<line x1="126.80" y1="359.75" x2="126.80" y2="363.55" stroke="#588bcc" stroke-width="1.2" />
<text x="51.00" y="373.05" font-family='"Liberation Sans", sans-serif' font-size="8.2" font-weight="bold" fill="#000" text-anchor="end" stroke="#000" stroke-width="0.15">CD14</text>
<line x1="52.30" y1="370.10" x2="54.60" y2="370.10" stroke="#000" stroke-width="0.8" />
<rect x="61.30" y="367.00" width="6.00" height="6.20" fill="#588bcc" stroke="none" stroke-width="1" />
<line x1="61.30" y1="370.10" x2="59.20" y2="370.10" stroke="#588bcc" stroke-width="1.2" />
<line x1="59.20" y1="368.20" x2="59.20" y2="372.00" stroke="#588bcc" stroke-width="1.2" />
<text x="51.00" y="381.50" font-family='"Liberation Sans", sans-serif' font-size="8.2" font-weight="bold" fill="#000" text-anchor="end" stroke="#000" stroke-width="0.15">CD11c</text>
<line x1="52.30" y1="378.55" x2="54.60" y2="378.55" stroke="#000" stroke-width="0.8" />
<rect x="64.00" y="375.45" width="3.30" height="6.20" fill="#588bcc" stroke="none" stroke-width="1" />
<text x="51.00" y="389.95" font-family='"Liberation Sans", sans-serif' font-size="8.2" font-weight="bold" fill="#000" text-anchor="end" stroke="#000" stroke-width="0.15">CD1C</text>
<line x1="52.30" y1="387.00" x2="54.60" y2="387.00" stroke="#000" stroke-width="0.8" />
<rect x="67.30" y="383.90" width="2.70" height="6.20" fill="#588bcc" stroke="none" stroke-width="1" />
<text x="51.00" y="398.40" font-family='"Liberation Sans", sans-serif' font-size="8.2" font-weight="bold" fill="#000" text-anchor="end" stroke="#000" stroke-width="0.15">CCR7</text>
<line x1="52.30" y1="395.45" x2="54.60" y2="395.45" stroke="#000" stroke-width="0.8" />
<rect x="67.30" y="392.35" width="15.70" height="6.20" fill="#588bcc" stroke="none" stroke-width="1" />
<line x1="83.00" y1="395.45" x2="89.20" y2="395.45" stroke="#588bcc" stroke-width="1.2" />
<line x1="89.20" y1="393.55" x2="89.20" y2="397.35" stroke="#588bcc" stroke-width="1.2" />
<rect x="149.20" y="324.75" width="28.00" height="6.20" fill="#588bcc" stroke="none" stroke-width="1" />
<line x1="177.20" y1="327.85" x2="193.80" y2="327.85" stroke="#588bcc" stroke-width="1.2" />
<line x1="193.80" y1="325.95" x2="193.80" y2="329.75" stroke="#588bcc" stroke-width="1.2" />
<line x1="67.30" y1="298.30" x2="67.30" y2="399.00" stroke="#3d6fb8" stroke-width="1.9" />
<line x1="54.50" y1="298.00" x2="54.50" y2="399.30" stroke="#000" stroke-width="0.9" />
<line x1="54.00" y1="399.30" x2="141.50" y2="399.30" stroke="#000" stroke-width="0.9" />
<line x1="148.60" y1="399.30" x2="206.40" y2="399.30" stroke="#000" stroke-width="0.9" />
<line x1="66.80" y1="399.30" x2="66.80" y2="401.80" stroke="#000" stroke-width="0.8" />
<text x="66.80" y="410.75" font-family='"Liberation Sans", sans-serif' font-size="8.2" font-weight="bold" fill="#000" text-anchor="middle" stroke="#000" stroke-width="0.15">0</text>
<line x1="90.90" y1="399.30" x2="90.90" y2="401.80" stroke="#000" stroke-width="0.8" />
<text x="90.90" y="410.75" font-family='"Liberation Sans", sans-serif' font-size="8.2" font-weight="bold" fill="#000" text-anchor="middle" stroke="#000" stroke-width="0.15">20</text>
<line x1="115.40" y1="399.30" x2="115.40" y2="401.80" stroke="#000" stroke-width="0.8" />
<text x="115.40" y="410.75" font-family='"Liberation Sans", sans-serif' font-size="8.2" font-weight="bold" fill="#000" text-anchor="middle" stroke="#000" stroke-width="0.15">40</text>
<line x1="140.60" y1="399.30" x2="140.60" y2="401.80" stroke="#000" stroke-width="0.8" />
<text x="140.60" y="410.75" font-family='"Liberation Sans", sans-serif' font-size="8.2" font-weight="bold" fill="#000" text-anchor="middle" stroke="#000" stroke-width="0.15">60</text>
<line x1="166.00" y1="399.30" x2="166.00" y2="401.80" stroke="#000" stroke-width="0.8" />
<text x="166.00" y="410.75" font-family='"Liberation Sans", sans-serif' font-size="8.2" font-weight="bold" fill="#000" text-anchor="middle" stroke="#000" stroke-width="0.15">500</text>
<line x1="186.00" y1="399.30" x2="186.00" y2="401.80" stroke="#000" stroke-width="0.8" />
<text x="186.00" y="410.75" font-family='"Liberation Sans", sans-serif' font-size="8.2" font-weight="bold" fill="#000" text-anchor="middle" stroke="#000" stroke-width="0.15">1000</text>
<line x1="206.20" y1="399.30" x2="206.20" y2="401.80" stroke="#000" stroke-width="0.8" />
<text x="206.20" y="410.75" font-family='"Liberation Sans", sans-serif' font-size="8.2" font-weight="bold" fill="#000" text-anchor="middle" stroke="#000" stroke-width="0.15">1500</text>
<line x1="148.60" y1="399.30" x2="148.60" y2="401.80" stroke="#000" stroke-width="0.8" />
<text x="131.80" y="426.00" font-family='"Liberation Serif", serif' font-size="10" font-weight="bold" fill="#000" text-anchor="middle" stroke="#000" stroke-width="0.3">Fold change</text>
<text x="273.80" y="231.22" font-family='"Liberation Sans", sans-serif' font-size="14" font-weight="bold" fill="#000" text-anchor="start" stroke="#000" stroke-width="0.15">D</text>
<text x="303.50" y="232.90" font-family='"Liberation Serif", serif' font-size="10" font-weight="bold" fill="#000" text-anchor="start" stroke="#000" stroke-width="0.3">MOI: 0</text>
<text x="374.60" y="232.90" font-family='"Liberation Serif", serif' font-size="10" font-weight="bold" fill="#000" text-anchor="middle" stroke="#000" stroke-width="0.3">0.1</text>
<text x="422.00" y="232.90" font-family='"Liberation Serif", serif' font-size="10" font-weight="bold" fill="#000" text-anchor="middle" stroke="#000" stroke-width="0.3">1</text>
<text x="470.80" y="232.90" font-family='"Liberation Serif", serif' font-size="10" font-weight="bold" fill="#000" text-anchor="middle" stroke="#000" stroke-width="0.3">10</text>
<rect x="303.40" y="244.60" width="46.00" height="46.00" fill="#fff" stroke="#6a6a6a" stroke-width="0.9" />
<use href="#blobD1" transform="translate(303.40,244.60)"/>
<line x1="324.40" y1="244.60" x2="324.40" y2="290.60" stroke="#8a6464" stroke-width="0.6" />
<line x1="303.40" y1="268.10" x2="349.40" y2="268.10" stroke="#8a6464" stroke-width="0.6" />
<text x="308.40" y="255.34" font-family='"Liberation Serif", serif' font-size="8" font-weight="bold" fill="#000" text-anchor="start" stroke="#000" stroke-width="0.3">0</text>
<text x="347.00" y="255.24" font-family='"Liberation Serif", serif' font-size="8" font-weight="bold" fill="#000" text-anchor="end" stroke="#000" stroke-width="0.3">0</text>
<text x="347.00" y="285.64" font-family='"Liberation Serif", serif' font-size="8" font-weight="bold" fill="#000" text-anchor="end" stroke="#000" stroke-width="0.3">13</text>
<path d="M303.40,289.60h-2.2 M303.40,286.29h-1.3 M303.40,284.35h-1.3 M303.40,282.98h-1.3 M303.40,281.91h-1.3 M303.40,281.04h-1.3 M303.40,280.30h-1.3 M303.40,279.67h-1.3 M303.40,279.10h-1.3 M303.40,278.60h-2.2 M303.40,275.29h-1.3 M303.40,273.35h-1.3 M303.40,271.98h-1.3 M303.40,270.91h-1.3 M303.40,270.04h-1.3 M303.40,269.30h-1.3 M303.40,268.67h-1.3 M303.40,268.10h-1.3 M303.40,267.60h-2.2 M303.40,264.29h-1.3 M303.40,262.35h-1.3 M303.40,260.98h-1.3 M303.40,259.91h-1.3 M303.40,259.04h-1.3 M303.40,258.30h-1.3 M303.40,257.67h-1.3 M303.40,257.10h-1.3 M303.40,256.60h-2.2 M303.40,253.29h-1.3 M303.40,251.35h-1.3 M303.40,249.98h-1.3 M303.40,248.91h-1.3 M303.40,248.04h-1.3 M303.40,247.30h-1.3 M303.40,246.67h-1.3 M303.40,246.10h-1.3" stroke="#999" stroke-width="0.6" fill="none"/>
<rect x="303.40" y="295.40" width="46.00" height="46.00" fill="#fff" stroke="#6a6a6a" stroke-width="0.9" />
<use href="#blobD2" transform="translate(303.40,295.40)"/>
<rect x="319.60" y="306.80" width="16.20" height="20.00" fill="none" stroke="#b8786f" stroke-width="0.8" />
<text x="327.90" y="315.50" font-family='"Liberation Serif", serif' font-size="8.5" font-weight="bold" fill="#000" text-anchor="middle" stroke="#000" stroke-width="0.3">4</text>
<path d="M303.40,340.40h-2.2 M303.40,337.09h-1.3 M303.40,335.15h-1.3 M303.40,333.78h-1.3 M303.40,332.71h-1.3 M303.40,331.84h-1.3 M303.40,331.10h-1.3 M303.40,330.47h-1.3 M303.40,329.90h-1.3 M303.40,329.40h-2.2 M303.40,326.09h-1.3 M303.40,324.15h-1.3 M303.40,322.78h-1.3 M303.40,321.71h-1.3 M303.40,320.84h-1.3 M303.40,320.10h-1.3 M303.40,319.47h-1.3 M303.40,318.90h-1.3 M303.40,318.40h-2.2 M303.40,315.09h-1.3 M303.40,313.15h-1.3 M303.40,311.78h-1.3 M303.40,310.71h-1.3 M303.40,309.84h-1.3 M303.40,309.10h-1.3 M303.40,308.47h-1.3 M303.40,307.90h-1.3 M303.40,307.40h-2.2 M303.40,304.09h-1.3 M303.40,302.15h-1.3 M303.40,300.78h-1.3 M303.40,299.71h-1.3 M303.40,298.84h-1.3 M303.40,298.10h-1.3 M303.40,297.47h-1.3 M303.40,296.90h-1.3" stroke="#999" stroke-width="0.6" fill="none"/>
<path d="M304.40,342.00v3.6 M307.71,342.00v2.8 M309.65,342.00v2.8 M311.02,342.00v2.8 M312.09,342.00v2.8 M312.96,342.00v2.8 M313.70,342.00v2.8 M314.33,342.00v2.8 M314.90,342.00v2.8 M315.40,342.00v3.6 M318.71,342.00v2.8 M320.65,342.00v2.8 M322.02,342.00v2.8 M323.09,342.00v2.8 M323.96,342.00v2.8 M324.70,342.00v2.8 M325.33,342.00v2.8 M325.90,342.00v2.8 M326.40,342.00v3.6 M329.71,342.00v2.8 M331.65,342.00v2.8 M333.02,342.00v2.8 M334.09,342.00v2.8 M334.96,342.00v2.8 M335.70,342.00v2.8 M336.33,342.00v2.8 M336.90,342.00v2.8 M337.40,342.00v3.6 M340.71,342.00v2.8 M342.65,342.00v2.8 M344.02,342.00v2.8 M345.09,342.00v2.8 M345.96,342.00v2.8 M346.70,342.00v2.8 M347.33,342.00v2.8 M347.90,342.00v2.8" stroke="#9a9a9a" stroke-width="0.7" fill="none"/>
<rect x="353.90" y="244.60" width="46.00" height="46.00" fill="#fff" stroke="#6a6a6a" stroke-width="0.9" />
<use href="#blobD1up" transform="translate(353.90,244.60)" opacity="0.3"/>
<use href="#blobD1" transform="translate(353.90,244.60)"/>
<line x1="374.90" y1="244.60" x2="374.90" y2="290.60" stroke="#8a6464" stroke-width="0.6" />
<line x1="353.90" y1="268.10" x2="399.90" y2="268.10" stroke="#8a6464" stroke-width="0.6" />
<text x="358.90" y="255.34" font-family='"Liberation Serif", serif' font-size="8" font-weight="bold" fill="#000" text-anchor="start" stroke="#000" stroke-width="0.3">0</text>
<text x="397.50" y="255.24" font-family='"Liberation Serif", serif' font-size="8" font-weight="bold" fill="#000" text-anchor="end" stroke="#000" stroke-width="0.3">0</text>
<text x="397.50" y="285.64" font-family='"Liberation Serif", serif' font-size="8" font-weight="bold" fill="#000" text-anchor="end" stroke="#000" stroke-width="0.3">11</text>
<rect x="353.90" y="295.40" width="46.00" height="46.00" fill="#fff" stroke="#6a6a6a" stroke-width="0.9" />
<use href="#blobD2" transform="translate(353.90,295.40)"/>
<rect x="370.10" y="306.80" width="16.20" height="20.00" fill="none" stroke="#b8786f" stroke-width="0.8" />
<text x="378.40" y="315.50" font-family='"Liberation Serif", serif' font-size="8.5" font-weight="bold" fill="#000" text-anchor="middle" stroke="#000" stroke-width="0.3">5</text>
<path d="M354.90,342.00v3.6 M358.21,342.00v2.8 M360.15,342.00v2.8 M361.52,342.00v2.8 M362.59,342.00v2.8 M363.46,342.00v2.8 M364.20,342.00v2.8 M364.83,342.00v2.8 M365.40,342.00v2.8 M365.90,342.00v3.6 M369.21,342.00v2.8 M371.15,342.00v2.8 M372.52,342.00v2.8 M373.59,342.00v2.8 M374.46,342.00v2.8 M375.20,342.00v2.8 M375.83,342.00v2.8 M376.40,342.00v2.8 M376.90,342.00v3.6 M380.21,342.00v2.8 M382.15,342.00v2.8 M383.52,342.00v2.8 M384.59,342.00v2.8 M385.46,342.00v2.8 M386.20,342.00v2.8 M386.83,342.00v2.8 M387.40,342.00v2.8 M387.90,342.00v3.6 M391.21,342.00v2.8 M393.15,342.00v2.8 M394.52,342.00v2.8 M395.59,342.00v2.8 M396.46,342.00v2.8 M397.20,342.00v2.8 M397.83,342.00v2.8 M398.40,342.00v2.8" stroke="#9a9a9a" stroke-width="0.7" fill="none"/>
<rect x="404.50" y="244.60" width="46.00" height="46.00" fill="#fff" stroke="#6a6a6a" stroke-width="0.9" />
<use href="#blobD1up" transform="translate(404.50,244.60)" opacity="0.6"/>
<use href="#blobD1" transform="translate(404.50,244.60)"/>
<line x1="425.50" y1="244.60" x2="425.50" y2="290.60" stroke="#8a6464" stroke-width="0.6" />
<line x1="404.50" y1="268.10" x2="450.50" y2="268.10" stroke="#8a6464" stroke-width="0.6" />
<text x="407.90" y="255.34" font-family='"Liberation Serif", serif' font-size="8" font-weight="bold" fill="#000" text-anchor="start" stroke="#000" stroke-width="0.3">0.2</text>
<text x="448.10" y="255.24" font-family='"Liberation Serif", serif' font-size="8" font-weight="bold" fill="#000" text-anchor="end" stroke="#000" stroke-width="0.3">0.1</text>
<text x="448.10" y="285.64" font-family='"Liberation Serif", serif' font-size="8" font-weight="bold" fill="#000" text-anchor="end" stroke="#000" stroke-width="0.3">9.1</text>
<rect x="404.50" y="295.40" width="46.00" height="46.00" fill="#fff" stroke="#6a6a6a" stroke-width="0.9" />
<use href="#blobD2" transform="translate(404.50,295.40)"/>
<rect x="420.70" y="306.80" width="16.20" height="20.00" fill="none" stroke="#b8786f" stroke-width="0.8" />
<text x="429.00" y="315.50" font-family='"Liberation Serif", serif' font-size="8.5" font-weight="bold" fill="#000" text-anchor="middle" stroke="#000" stroke-width="0.3">12</text>
<path d="M405.50,342.00v3.6 M408.81,342.00v2.8 M410.75,342.00v2.8 M412.12,342.00v2.8 M413.19,342.00v2.8 M414.06,342.00v2.8 M414.80,342.00v2.8 M415.43,342.00v2.8 M416.00,342.00v2.8 M416.50,342.00v3.6 M419.81,342.00v2.8 M421.75,342.00v2.8 M423.12,342.00v2.8 M424.19,342.00v2.8 M425.06,342.00v2.8 M425.80,342.00v2.8 M426.43,342.00v2.8 M427.00,342.00v2.8 M427.50,342.00v3.6 M430.81,342.00v2.8 M432.75,342.00v2.8 M434.12,342.00v2.8 M435.19,342.00v2.8 M436.06,342.00v2.8 M436.80,342.00v2.8 M437.43,342.00v2.8 M438.00,342.00v2.8 M438.50,342.00v3.6 M441.81,342.00v2.8 M443.75,342.00v2.8 M445.12,342.00v2.8 M446.19,342.00v2.8 M447.06,342.00v2.8 M447.80,342.00v2.8 M448.43,342.00v2.8 M449.00,342.00v2.8" stroke="#9a9a9a" stroke-width="0.7" fill="none"/>
<rect x="455.30" y="244.60" width="46.00" height="46.00" fill="#fff" stroke="#6a6a6a" stroke-width="0.9" />
<use href="#blobD1up" transform="translate(455.30,244.60)" opacity="1"/>
<use href="#blobD1" transform="translate(455.30,244.60)"/>
<line x1="476.30" y1="244.60" x2="476.30" y2="290.60" stroke="#8a6464" stroke-width="0.6" />
<line x1="455.30" y1="268.10" x2="501.30" y2="268.10" stroke="#8a6464" stroke-width="0.6" />
<text x="459.10" y="255.34" font-family='"Liberation Serif", serif' font-size="8" font-weight="bold" fill="#000" text-anchor="start" stroke="#000" stroke-width="0.3">0.3</text>
<text x="498.90" y="255.24" font-family='"Liberation Serif", serif' font-size="8" font-weight="bold" fill="#000" text-anchor="end" stroke="#000" stroke-width="0.3">0.3</text>
<text x="498.90" y="285.64" font-family='"Liberation Serif", serif' font-size="8" font-weight="bold" fill="#000" text-anchor="end" stroke="#000" stroke-width="0.3">10</text>
<rect x="455.30" y="295.40" width="46.00" height="46.00" fill="#fff" stroke="#6a6a6a" stroke-width="0.9" />
<use href="#blobD2" transform="translate(455.30,295.40)"/>
<rect x="471.50" y="306.80" width="16.20" height="20.00" fill="none" stroke="#b8786f" stroke-width="0.8" />
<text x="479.80" y="315.50" font-family='"Liberation Serif", serif' font-size="8.5" font-weight="bold" fill="#000" text-anchor="middle" stroke="#000" stroke-width="0.3">17</text>
<path d="M456.30,342.00v3.6 M459.61,342.00v2.8 M461.55,342.00v2.8 M462.92,342.00v2.8 M463.99,342.00v2.8 M464.86,342.00v2.8 M465.60,342.00v2.8 M466.23,342.00v2.8 M466.80,342.00v2.8 M467.30,342.00v3.6 M470.61,342.00v2.8 M472.55,342.00v2.8 M473.92,342.00v2.8 M474.99,342.00v2.8 M475.86,342.00v2.8 M476.60,342.00v2.8 M477.23,342.00v2.8 M477.80,342.00v2.8 M478.30,342.00v3.6 M481.61,342.00v2.8 M483.55,342.00v2.8 M484.92,342.00v2.8 M485.99,342.00v2.8 M486.86,342.00v2.8 M487.60,342.00v2.8 M488.23,342.00v2.8 M488.80,342.00v2.8 M489.30,342.00v3.6 M492.61,342.00v2.8 M494.55,342.00v2.8 M495.92,342.00v2.8 M496.99,342.00v2.8 M497.86,342.00v2.8 M498.60,342.00v2.8 M499.23,342.00v2.8 M499.80,342.00v2.8" stroke="#9a9a9a" stroke-width="0.7" fill="none"/>
<line x1="289.20" y1="252.30" x2="289.20" y2="314.00" stroke="#000" stroke-width="1.1" />
<path d="M289.20,247.80 L287.00,252.80 L291.40,252.80 Z" fill="#000"/>
<g transform="translate(288.60,330.20) rotate(-90)"><text x="0" y="3.30" font-family='"Liberation Serif", serif' font-size="10" font-weight="bold" fill="#000" text-anchor="middle" stroke="#000" stroke-width="0.3">TNF</text></g>
<text x="304.00" y="359.70" font-family='"Liberation Serif", serif' font-size="10" font-weight="bold" fill="#000" text-anchor="start" stroke="#000" stroke-width="0.3">CD14</text>
<line x1="332.80" y1="356.40" x2="494.50" y2="356.40" stroke="#000" stroke-width="1.1" />
<path d="M499.00,356.40 L494.00,354.20 L494.00,358.60 Z" fill="#000"/>
<g transform="translate(512.90,265.80) rotate(-90)"><text x="0" y="3.30" font-family='"Liberation Serif", serif' font-size="10" font-weight="bold" fill="#000" text-anchor="middle" stroke="#000" stroke-width="0.3">PBMCs</text></g>
<g transform="translate(512.50,318.00) rotate(-90)"><text x="0" y="3.30" font-family='"Liberation Serif", serif' font-size="10" font-weight="bold" fill="#000" text-anchor="middle" stroke="#000" stroke-width="0.3">Monocytes</text></g>
<text x="4.50" y="444.62" font-family='"Liberation Sans", sans-serif' font-size="14" font-weight="bold" fill="#000" text-anchor="start" stroke="#000" stroke-width="0.15">E</text>
<text x="44.60" y="452.10" font-family='"Liberation Serif", serif' font-size="10" font-weight="bold" fill="#000" text-anchor="middle" stroke="#000" stroke-width="0.3">Surface</text>
<text x="95.40" y="452.10" font-family='"Liberation Serif", serif' font-size="10" font-weight="bold" fill="#000" text-anchor="middle" stroke="#000" stroke-width="0.3">Surface</text>
<text x="146.30" y="452.10" font-family='"Liberation Serif", serif' font-size="10" font-weight="bold" fill="#000" text-anchor="middle" stroke="#000" stroke-width="0.3">Surface</text>
<text x="197.20" y="452.10" font-family='"Liberation Serif", serif' font-size="10" font-weight="bold" fill="#000" text-anchor="middle" stroke="#000" stroke-width="0.3">Surface</text>
<text x="219.00" y="452.10" font-family='"Liberation Serif", serif' font-size="10" font-weight="bold" fill="#000" text-anchor="start" stroke="#000" stroke-width="0.3">Intracellular</text>
<rect x="21.30" y="460.60" width="46.00" height="46.00" fill="#fff" stroke="none" stroke-width="1" />
<path d="M21.90,506.00 L21.90,506.00 L22.40,506.00 L22.91,506.00 L23.41,506.00 L23.91,506.00 L24.42,506.00 L24.92,506.00 L25.42,506.00 L25.93,506.00 L26.43,505.99 L26.93,505.97 L27.44,505.89 L27.94,505.66 L28.44,505.10 L28.95,503.83 L29.45,501.37 L29.95,497.14 L30.46,490.86 L30.96,482.89 L31.46,474.47 L31.97,467.57 L32.47,464.16 L32.97,464.73 L33.48,467.85 L33.98,472.91 L34.48,479.05 L34.99,485.40 L35.49,491.23 L35.99,496.05 L36.50,499.71 L37.00,502.27 L37.50,503.92 L38.01,504.91 L38.51,505.47 L39.01,505.75 L39.52,505.89 L40.02,505.96 L40.52,505.98 L41.03,505.99 L41.53,506.00 L42.03,506.00 L42.54,506.00 L43.04,506.00 L43.54,506.00 L44.05,506.00 L44.55,506.00 L45.06,506.00 L45.56,506.00 L46.06,506.00 L46.57,506.00 L47.07,506.00 L47.57,506.00 L48.08,506.00 L48.58,506.00 L49.08,506.00 L49.59,506.00 L50.09,506.00 L50.59,506.00 L51.10,506.00 L51.60,506.00 L52.10,506.00 L52.61,506.00 L53.11,506.00 L53.61,506.00 L54.12,506.00 L54.62,506.00 L55.12,506.00 L55.63,506.00 L56.13,506.00 L56.63,506.00 L57.14,506.00 L57.64,506.00 L58.14,506.00 L58.65,506.00 L59.15,506.00 L59.65,506.00 L60.16,506.00 L60.66,506.00 L61.16,506.00 L61.67,506.00 L62.17,506.00 L62.67,506.00 L63.18,506.00 L63.68,506.00 L64.18,506.00 L64.69,506.00 L65.19,506.00 L65.69,506.00 L66.20,506.00 L66.70,506.00 L66.70,506.00 Z" fill="#f59c9c" stroke="none"/>
<path d="M21.90,506.00 L22.40,506.00 L22.91,506.00 L23.41,506.00 L23.91,506.00 L24.42,506.00 L24.92,506.00 L25.42,506.00 L25.93,506.00 L26.43,505.99 L26.93,505.97 L27.44,505.89 L27.94,505.66 L28.44,505.10 L28.95,503.83 L29.45,501.37 L29.95,497.14 L30.46,490.86 L30.96,482.89 L31.46,474.47 L31.97,467.57 L32.47,464.16 L32.97,464.73 L33.48,467.85 L33.98,472.91 L34.48,479.05 L34.99,485.40 L35.49,491.23 L35.99,496.05 L36.50,499.71 L37.00,502.27 L37.50,503.92 L38.01,504.91 L38.51,505.47 L39.01,505.75 L39.52,505.89 L40.02,505.96 L40.52,505.98 L41.03,505.99 L41.53,506.00 L42.03,506.00 L42.54,506.00 L43.04,506.00 L43.54,506.00 L44.05,506.00 L44.55,506.00 L45.06,506.00 L45.56,506.00 L46.06,506.00 L46.57,506.00 L47.07,506.00 L47.57,506.00 L48.08,506.00 L48.58,506.00 L49.08,506.00 L49.59,506.00 L50.09,506.00 L50.59,506.00 L51.10,506.00 L51.60,506.00 L52.10,506.00 L52.61,506.00 L53.11,506.00 L53.61,506.00 L54.12,506.00 L54.62,506.00 L55.12,506.00 L55.63,506.00 L56.13,506.00 L56.63,506.00 L57.14,506.00 L57.64,506.00 L58.14,506.00 L58.65,506.00 L59.15,506.00 L59.65,506.00 L60.16,506.00 L60.66,506.00 L61.16,506.00 L61.67,506.00 L62.17,506.00 L62.67,506.00 L63.18,506.00 L63.68,506.00 L64.18,506.00 L64.69,506.00 L65.19,506.00 L65.69,506.00 L66.20,506.00 L66.70,506.00" fill="none" stroke="#d07070" stroke-width="0.5"/>
<path d="M21.90,506.00 L22.40,506.00 L22.91,506.00 L23.41,506.00 L23.91,506.00 L24.42,506.00 L24.92,506.00 L25.42,506.00 L25.93,506.00 L26.43,505.99 L26.93,505.97 L27.44,505.89 L27.94,505.67 L28.44,505.12 L28.95,503.89 L29.45,501.48 L29.95,497.35 L30.46,491.22 L30.96,483.44 L31.46,475.22 L31.97,468.49 L32.47,465.15 L32.97,465.50 L33.48,467.65 L33.98,471.25 L34.48,475.87 L34.99,481.00 L35.49,486.15 L35.99,490.92 L36.50,495.03 L37.00,498.37 L37.50,500.92 L38.01,502.76 L38.51,504.03 L39.01,504.85 L39.52,505.36 L40.02,505.66 L40.52,505.82 L41.03,505.91 L41.53,505.96 L42.03,505.98 L42.54,505.99 L43.04,506.00 L43.54,506.00 L44.05,506.00 L44.55,506.00 L45.06,506.00 L45.56,506.00 L46.06,506.00 L46.57,506.00 L47.07,506.00 L47.57,506.00 L48.08,506.00 L48.58,506.00 L49.08,506.00 L49.59,506.00 L50.09,506.00 L50.59,506.00 L51.10,506.00 L51.60,506.00 L52.10,506.00 L52.61,506.00 L53.11,506.00 L53.61,506.00 L54.12,506.00 L54.62,506.00 L55.12,506.00 L55.63,506.00 L56.13,506.00 L56.63,506.00 L57.14,506.00 L57.64,506.00 L58.14,506.00 L58.65,506.00 L59.15,506.00 L59.65,506.00 L60.16,506.00 L60.66,506.00 L61.16,506.00 L61.67,506.00 L62.17,506.00 L62.67,506.00 L63.18,506.00 L63.68,506.00 L64.18,506.00 L64.69,506.00 L65.19,506.00 L65.69,506.00 L66.20,506.00 L66.70,506.00" fill="none" stroke="#4b3fc4" stroke-width="0.8"/>
<line x1="38.50" y1="460.60" x2="38.50" y2="506.60" stroke="#707070" stroke-width="1.0" />
<rect x="21.30" y="460.60" width="46.00" height="46.00" fill="none" stroke="#666" stroke-width="0.9" />
<rect x="72.10" y="460.60" width="46.00" height="46.00" fill="#fff" stroke="none" stroke-width="1" />
<path d="M72.70,506.00 L72.70,506.00 L73.20,506.00 L73.71,506.00 L74.21,506.00 L74.71,506.00 L75.22,506.00 L75.72,506.00 L76.22,505.99 L76.73,505.98 L77.23,505.93 L77.73,505.78 L78.24,505.39 L78.74,504.47 L79.24,502.56 L79.75,499.12 L80.25,493.68 L80.75,486.31 L81.26,477.86 L81.76,470.09 L82.26,465.04 L82.77,464.15 L83.27,466.30 L83.77,470.65 L84.28,476.46 L84.78,482.82 L85.28,488.94 L85.79,494.21 L86.29,498.35 L86.79,501.34 L87.30,503.34 L87.80,504.57 L88.30,505.28 L88.81,505.66 L89.31,505.85 L89.81,505.94 L90.32,505.98 L90.82,505.99 L91.32,506.00 L91.83,506.00 L92.33,506.00 L92.83,506.00 L93.34,506.00 L93.84,506.00 L94.34,506.00 L94.85,506.00 L95.35,506.00 L95.86,506.00 L96.36,506.00 L96.86,506.00 L97.37,506.00 L97.87,506.00 L98.37,506.00 L98.88,506.00 L99.38,506.00 L99.88,506.00 L100.39,506.00 L100.89,506.00 L101.39,506.00 L101.90,506.00 L102.40,506.00 L102.90,506.00 L103.41,506.00 L103.91,506.00 L104.41,506.00 L104.92,506.00 L105.42,506.00 L105.92,506.00 L106.43,506.00 L106.93,506.00 L107.43,506.00 L107.94,506.00 L108.44,506.00 L108.94,506.00 L109.45,506.00 L109.95,506.00 L110.45,506.00 L110.96,506.00 L111.46,506.00 L111.96,506.00 L112.47,506.00 L112.97,506.00 L113.47,506.00 L113.98,506.00 L114.48,506.00 L114.98,506.00 L115.49,506.00 L115.99,506.00 L116.49,506.00 L117.00,506.00 L117.50,506.00 L117.50,506.00 Z" fill="#f59c9c" stroke="none"/>
<path d="M72.70,506.00 L73.20,506.00 L73.71,506.00 L74.21,506.00 L74.71,506.00 L75.22,506.00 L75.72,506.00 L76.22,505.99 L76.73,505.98 L77.23,505.93 L77.73,505.78 L78.24,505.39 L78.74,504.47 L79.24,502.56 L79.75,499.12 L80.25,493.68 L80.75,486.31 L81.26,477.86 L81.76,470.09 L82.26,465.04 L82.77,464.15 L83.27,466.30 L83.77,470.65 L84.28,476.46 L84.78,482.82 L85.28,488.94 L85.79,494.21 L86.29,498.35 L86.79,501.34 L87.30,503.34 L87.80,504.57 L88.30,505.28 L88.81,505.66 L89.31,505.85 L89.81,505.94 L90.32,505.98 L90.82,505.99 L91.32,506.00 L91.83,506.00 L92.33,506.00 L92.83,506.00 L93.34,506.00 L93.84,506.00 L94.34,506.00 L94.85,506.00 L95.35,506.00 L95.86,506.00 L96.36,506.00 L96.86,506.00 L97.37,506.00 L97.87,506.00 L98.37,506.00 L98.88,506.00 L99.38,506.00 L99.88,506.00 L100.39,506.00 L100.89,506.00 L101.39,506.00 L101.90,506.00 L102.40,506.00 L102.90,506.00 L103.41,506.00 L103.91,506.00 L104.41,506.00 L104.92,506.00 L105.42,506.00 L105.92,506.00 L106.43,506.00 L106.93,506.00 L107.43,506.00 L107.94,506.00 L108.44,506.00 L108.94,506.00 L109.45,506.00 L109.95,506.00 L110.45,506.00 L110.96,506.00 L111.46,506.00 L111.96,506.00 L112.47,506.00 L112.97,506.00 L113.47,506.00 L113.98,506.00 L114.48,506.00 L114.98,506.00 L115.49,506.00 L115.99,506.00 L116.49,506.00 L117.00,506.00 L117.50,506.00" fill="none" stroke="#d07070" stroke-width="0.5"/>
<path d="M72.70,506.00 L81.60,506.00 L83.00,502.00 L84.50,492.00 L86.00,482.00 L87.00,483.50 L88.20,476.00 L89.60,465.00 L90.30,466.50 L91.00,464.50 L92.00,469.00 L93.50,476.00 L95.00,483.00 L96.50,491.00 L98.00,497.00 L99.50,502.50 L101.00,505.40 L103.00,506.00 L117.50,506.00" fill="none" stroke="#4b3fc4" stroke-width="0.8"/>
<line x1="88.50" y1="460.60" x2="88.50" y2="506.60" stroke="#707070" stroke-width="1.0" />
<rect x="72.10" y="460.60" width="46.00" height="46.00" fill="none" stroke="#666" stroke-width="0.9" />
<rect x="123.00" y="460.60" width="46.00" height="46.00" fill="#fff" stroke="none" stroke-width="1" />
<path d="M123.60,506.00 L123.60,506.00 L124.10,506.00 L124.61,506.00 L125.11,506.00 L125.61,506.00 L126.12,506.00 L126.62,506.00 L127.12,506.00 L127.63,506.00 L128.13,506.00 L128.63,505.98 L129.14,505.94 L129.64,505.82 L130.14,505.49 L130.65,504.70 L131.15,503.02 L131.65,499.90 L132.16,494.85 L132.66,487.79 L133.16,479.44 L133.67,471.38 L134.17,465.68 L134.67,464.03 L135.18,465.90 L135.68,470.28 L136.18,476.33 L136.69,483.03 L137.19,489.43 L137.69,494.85 L138.20,499.01 L138.70,501.91 L139.20,503.77 L139.71,504.87 L140.21,505.46 L140.71,505.76 L141.22,505.90 L141.72,505.96 L142.22,505.99 L142.73,506.00 L143.23,506.00 L143.73,506.00 L144.24,506.00 L144.74,506.00 L145.24,506.00 L145.75,506.00 L146.25,506.00 L146.76,506.00 L147.26,506.00 L147.76,506.00 L148.27,506.00 L148.77,506.00 L149.27,506.00 L149.78,506.00 L150.28,506.00 L150.78,506.00 L151.29,506.00 L151.79,506.00 L152.29,506.00 L152.80,506.00 L153.30,506.00 L153.80,506.00 L154.31,506.00 L154.81,506.00 L155.31,506.00 L155.82,506.00 L156.32,506.00 L156.82,506.00 L157.33,506.00 L157.83,506.00 L158.33,506.00 L158.84,506.00 L159.34,506.00 L159.84,506.00 L160.35,506.00 L160.85,506.00 L161.35,506.00 L161.86,506.00 L162.36,506.00 L162.86,506.00 L163.37,506.00 L163.87,506.00 L164.37,506.00 L164.88,506.00 L165.38,506.00 L165.88,506.00 L166.39,506.00 L166.89,506.00 L167.39,506.00 L167.90,506.00 L168.40,506.00 L168.40,506.00 Z" fill="#f59c9c" stroke="none"/>
<path d="M123.60,506.00 L124.10,506.00 L124.61,506.00 L125.11,506.00 L125.61,506.00 L126.12,506.00 L126.62,506.00 L127.12,506.00 L127.63,506.00 L128.13,506.00 L128.63,505.98 L129.14,505.94 L129.64,505.82 L130.14,505.49 L130.65,504.70 L131.15,503.02 L131.65,499.90 L132.16,494.85 L132.66,487.79 L133.16,479.44 L133.67,471.38 L134.17,465.68 L134.67,464.03 L135.18,465.90 L135.68,470.28 L136.18,476.33 L136.69,483.03 L137.19,489.43 L137.69,494.85 L138.20,499.01 L138.70,501.91 L139.20,503.77 L139.71,504.87 L140.21,505.46 L140.71,505.76 L141.22,505.90 L141.72,505.96 L142.22,505.99 L142.73,506.00 L143.23,506.00 L143.73,506.00 L144.24,506.00 L144.74,506.00 L145.24,506.00 L145.75,506.00 L146.25,506.00 L146.76,506.00 L147.26,506.00 L147.76,506.00 L148.27,506.00 L148.77,506.00 L149.27,506.00 L149.78,506.00 L150.28,506.00 L150.78,506.00 L151.29,506.00 L151.79,506.00 L152.29,506.00 L152.80,506.00 L153.30,506.00 L153.80,506.00 L154.31,506.00 L154.81,506.00 L155.31,506.00 L155.82,506.00 L156.32,506.00 L156.82,506.00 L157.33,506.00 L157.83,506.00 L158.33,506.00 L158.84,506.00 L159.34,506.00 L159.84,506.00 L160.35,506.00 L160.85,506.00 L161.35,506.00 L161.86,506.00 L162.36,506.00 L162.86,506.00 L163.37,506.00 L163.87,506.00 L164.37,506.00 L164.88,506.00 L165.38,506.00 L165.88,506.00 L166.39,506.00 L166.89,506.00 L167.39,506.00 L167.90,506.00 L168.40,506.00" fill="none" stroke="#d07070" stroke-width="0.5"/>
<path d="M123.60,506.00 L124.10,506.00 L124.61,506.00 L125.11,506.00 L125.61,506.00 L126.12,506.00 L126.62,506.00 L127.12,506.00 L127.63,506.00 L128.13,505.99 L128.63,505.97 L129.14,505.91 L129.64,505.73 L130.14,505.27 L130.65,504.21 L131.15,502.08 L131.65,498.33 L132.16,492.59 L132.66,485.07 L133.16,476.80 L133.67,469.61 L134.17,465.48 L134.67,465.38 L135.18,467.98 L135.68,472.60 L136.18,478.46 L136.69,484.69 L137.19,490.52 L137.69,495.44 L138.20,499.24 L138.70,501.94 L139.20,503.71 L139.71,504.79 L140.21,505.40 L140.71,505.72 L141.22,505.88 L141.72,505.95 L142.22,505.98 L142.73,505.99 L143.23,506.00 L143.73,506.00 L144.24,506.00 L144.74,506.00 L145.24,506.00 L145.75,506.00 L146.25,506.00 L146.76,506.00 L147.26,506.00 L147.76,506.00 L148.27,506.00 L148.77,506.00 L149.27,506.00 L149.78,506.00 L150.28,506.00 L150.78,506.00 L151.29,506.00 L151.79,506.00 L152.29,506.00 L152.80,506.00 L153.30,506.00 L153.80,506.00 L154.31,506.00 L154.81,506.00 L155.31,506.00 L155.82,506.00 L156.32,506.00 L156.82,506.00 L157.33,506.00 L157.83,506.00 L158.33,506.00 L158.84,506.00 L159.34,506.00 L159.84,506.00 L160.35,506.00 L160.85,506.00 L161.35,506.00 L161.86,506.00 L162.36,506.00 L162.86,506.00 L163.37,506.00 L163.87,506.00 L164.37,506.00 L164.88,506.00 L165.38,506.00 L165.88,506.00 L166.39,506.00 L166.89,506.00 L167.39,506.00 L167.90,506.00 L168.40,506.00" fill="none" stroke="#4b3fc4" stroke-width="0.8"/>
<line x1="140.50" y1="460.60" x2="140.50" y2="506.60" stroke="#707070" stroke-width="1.0" />
<rect x="123.00" y="460.60" width="46.00" height="46.00" fill="none" stroke="#666" stroke-width="0.9" />
<rect x="173.90" y="460.60" width="46.00" height="46.00" fill="#fff" stroke="none" stroke-width="1" />
<path d="M174.50,506.00 L174.50,503.10 L175.00,502.33 L175.51,501.40 L176.01,500.29 L176.51,499.00 L177.02,497.51 L177.52,495.81 L178.02,493.91 L178.53,491.82 L179.03,489.54 L179.53,487.10 L180.04,484.54 L180.54,481.90 L181.04,479.23 L181.55,476.59 L182.05,474.05 L182.55,471.66 L183.06,469.50 L183.56,467.62 L184.06,466.10 L184.57,464.96 L185.07,464.25 L185.57,464.00 L186.08,464.70 L186.58,466.89 L187.08,470.32 L187.59,474.64 L188.09,479.46 L188.59,484.36 L189.10,489.01 L189.60,493.15 L190.10,496.64 L190.61,499.43 L191.11,501.56 L191.61,503.11 L192.12,504.19 L192.62,504.90 L193.12,505.36 L193.63,505.64 L194.13,505.81 L194.63,505.90 L195.14,505.95 L195.64,505.98 L196.14,505.99 L196.65,505.99 L197.15,506.00 L197.66,506.00 L198.16,506.00 L198.66,506.00 L199.17,506.00 L199.67,506.00 L200.17,506.00 L200.68,506.00 L201.18,506.00 L201.68,506.00 L202.19,506.00 L202.69,506.00 L203.19,506.00 L203.70,506.00 L204.20,506.00 L204.70,506.00 L205.21,506.00 L205.71,506.00 L206.21,506.00 L206.72,506.00 L207.22,506.00 L207.72,506.00 L208.23,506.00 L208.73,506.00 L209.23,506.00 L209.74,506.00 L210.24,506.00 L210.74,506.00 L211.25,506.00 L211.75,506.00 L212.25,506.00 L212.76,506.00 L213.26,506.00 L213.76,506.00 L214.27,506.00 L214.77,506.00 L215.27,506.00 L215.78,506.00 L216.28,506.00 L216.78,506.00 L217.29,506.00 L217.79,506.00 L218.29,506.00 L218.80,506.00 L219.30,506.00 L219.30,506.00 Z" fill="#f59c9c" stroke="none"/>
<path d="M174.50,503.10 L175.00,502.33 L175.51,501.40 L176.01,500.29 L176.51,499.00 L177.02,497.51 L177.52,495.81 L178.02,493.91 L178.53,491.82 L179.03,489.54 L179.53,487.10 L180.04,484.54 L180.54,481.90 L181.04,479.23 L181.55,476.59 L182.05,474.05 L182.55,471.66 L183.06,469.50 L183.56,467.62 L184.06,466.10 L184.57,464.96 L185.07,464.25 L185.57,464.00 L186.08,464.70 L186.58,466.89 L187.08,470.32 L187.59,474.64 L188.09,479.46 L188.59,484.36 L189.10,489.01 L189.60,493.15 L190.10,496.64 L190.61,499.43 L191.11,501.56 L191.61,503.11 L192.12,504.19 L192.62,504.90 L193.12,505.36 L193.63,505.64 L194.13,505.81 L194.63,505.90 L195.14,505.95 L195.64,505.98 L196.14,505.99 L196.65,505.99 L197.15,506.00 L197.66,506.00 L198.16,506.00 L198.66,506.00 L199.17,506.00 L199.67,506.00 L200.17,506.00 L200.68,506.00 L201.18,506.00 L201.68,506.00 L202.19,506.00 L202.69,506.00 L203.19,506.00 L203.70,506.00 L204.20,506.00 L204.70,506.00 L205.21,506.00 L205.71,506.00 L206.21,506.00 L206.72,506.00 L207.22,506.00 L207.72,506.00 L208.23,506.00 L208.73,506.00 L209.23,506.00 L209.74,506.00 L210.24,506.00 L210.74,506.00 L211.25,506.00 L211.75,506.00 L212.25,506.00 L212.76,506.00 L213.26,506.00 L213.76,506.00 L214.27,506.00 L214.77,506.00 L215.27,506.00 L215.78,506.00 L216.28,506.00 L216.78,506.00 L217.29,506.00 L217.79,506.00 L218.29,506.00 L218.80,506.00 L219.30,506.00" fill="none" stroke="#d07070" stroke-width="0.5"/>
<path d="M174.50,504.94 L175.00,504.57 L175.51,504.09 L176.01,503.48 L176.51,502.72 L177.02,501.78 L177.52,500.65 L178.02,499.30 L178.53,497.73 L179.03,495.92 L179.53,493.87 L180.04,491.59 L180.54,489.11 L181.04,486.46 L181.55,483.68 L182.05,480.85 L182.55,478.02 L183.06,475.28 L183.56,472.71 L184.06,470.39 L184.57,468.41 L185.07,466.83 L185.57,465.72 L186.08,465.11 L186.58,465.11 L187.08,466.51 L187.59,469.37 L188.09,473.38 L188.59,478.11 L189.10,483.10 L189.60,487.94 L190.10,492.32 L190.61,496.05 L191.11,499.06 L191.61,501.34 L192.12,503.00 L192.62,504.15 L193.12,504.90 L193.63,505.37 L194.13,505.66 L194.63,505.82 L195.14,505.91 L195.64,505.96 L196.14,505.98 L196.65,505.99 L197.15,506.00 L197.66,506.00 L198.16,506.00 L198.66,506.00 L199.17,506.00 L199.67,506.00 L200.17,506.00 L200.68,506.00 L201.18,506.00 L201.68,506.00 L202.19,506.00 L202.69,506.00 L203.19,506.00 L203.70,506.00 L204.20,506.00 L204.70,506.00 L205.21,506.00 L205.71,506.00 L206.21,506.00 L206.72,506.00 L207.22,506.00 L207.72,506.00 L208.23,506.00 L208.73,506.00 L209.23,506.00 L209.74,506.00 L210.24,506.00 L210.74,506.00 L211.25,506.00 L211.75,506.00 L212.25,506.00 L212.76,506.00 L213.26,506.00 L213.76,506.00 L214.27,506.00 L214.77,506.00 L215.27,506.00 L215.78,506.00 L216.28,506.00 L216.78,506.00 L217.29,506.00 L217.79,506.00 L218.29,506.00 L218.80,506.00 L219.30,506.00" fill="none" stroke="#4b3fc4" stroke-width="0.8"/>
<line x1="193.50" y1="460.60" x2="193.50" y2="506.60" stroke="#707070" stroke-width="1.0" />
<rect x="173.90" y="460.60" width="46.00" height="46.00" fill="none" stroke="#666" stroke-width="0.9" />
<rect x="224.60" y="460.60" width="46.00" height="46.00" fill="#fff" stroke="none" stroke-width="1" />
<path d="M225.20,506.00 L225.20,506.00 L225.70,506.00 L226.21,506.00 L226.71,505.99 L227.21,505.99 L227.72,505.98 L228.22,505.95 L228.72,505.92 L229.23,505.85 L229.73,505.74 L230.23,505.56 L230.74,505.29 L231.24,504.86 L231.74,504.24 L232.25,503.35 L232.75,502.12 L233.25,500.49 L233.76,498.38 L234.26,495.75 L234.76,492.61 L235.27,488.98 L235.77,484.98 L236.27,480.75 L236.78,476.51 L237.28,472.51 L237.78,469.03 L238.29,466.32 L238.79,464.60 L239.29,464.00 L239.80,465.28 L240.30,468.95 L240.80,474.35 L241.31,480.63 L241.81,486.91 L242.31,492.51 L242.82,497.06 L243.32,500.44 L243.82,502.75 L244.33,504.22 L244.83,505.08 L245.33,505.56 L245.84,505.80 L246.34,505.91 L246.84,505.97 L247.35,505.99 L247.85,506.00 L248.36,506.00 L248.86,506.00 L249.36,506.00 L249.87,506.00 L250.37,506.00 L250.87,506.00 L251.38,506.00 L251.88,506.00 L252.38,506.00 L252.89,506.00 L253.39,506.00 L253.89,506.00 L254.40,506.00 L254.90,506.00 L255.40,506.00 L255.91,506.00 L256.41,506.00 L256.91,506.00 L257.42,506.00 L257.92,506.00 L258.42,506.00 L258.93,506.00 L259.43,506.00 L259.93,506.00 L260.44,506.00 L260.94,506.00 L261.44,506.00 L261.95,506.00 L262.45,506.00 L262.95,506.00 L263.46,506.00 L263.96,506.00 L264.46,506.00 L264.97,506.00 L265.47,506.00 L265.97,506.00 L266.48,506.00 L266.98,506.00 L267.48,506.00 L267.99,506.00 L268.49,506.00 L268.99,506.00 L269.50,506.00 L270.00,506.00 L270.00,506.00 Z" fill="#f59c9c" stroke="none"/>
<path d="M225.20,506.00 L225.70,506.00 L226.21,506.00 L226.71,505.99 L227.21,505.99 L227.72,505.98 L228.22,505.95 L228.72,505.92 L229.23,505.85 L229.73,505.74 L230.23,505.56 L230.74,505.29 L231.24,504.86 L231.74,504.24 L232.25,503.35 L232.75,502.12 L233.25,500.49 L233.76,498.38 L234.26,495.75 L234.76,492.61 L235.27,488.98 L235.77,484.98 L236.27,480.75 L236.78,476.51 L237.28,472.51 L237.78,469.03 L238.29,466.32 L238.79,464.60 L239.29,464.00 L239.80,465.28 L240.30,468.95 L240.80,474.35 L241.31,480.63 L241.81,486.91 L242.31,492.51 L242.82,497.06 L243.32,500.44 L243.82,502.75 L244.33,504.22 L244.83,505.08 L245.33,505.56 L245.84,505.80 L246.34,505.91 L246.84,505.97 L247.35,505.99 L247.85,506.00 L248.36,506.00 L248.86,506.00 L249.36,506.00 L249.87,506.00 L250.37,506.00 L250.87,506.00 L251.38,506.00 L251.88,506.00 L252.38,506.00 L252.89,506.00 L253.39,506.00 L253.89,506.00 L254.40,506.00 L254.90,506.00 L255.40,506.00 L255.91,506.00 L256.41,506.00 L256.91,506.00 L257.42,506.00 L257.92,506.00 L258.42,506.00 L258.93,506.00 L259.43,506.00 L259.93,506.00 L260.44,506.00 L260.94,506.00 L261.44,506.00 L261.95,506.00 L262.45,506.00 L262.95,506.00 L263.46,506.00 L263.96,506.00 L264.46,506.00 L264.97,506.00 L265.47,506.00 L265.97,506.00 L266.48,506.00 L266.98,506.00 L267.48,506.00 L267.99,506.00 L268.49,506.00 L268.99,506.00 L269.50,506.00 L270.00,506.00" fill="none" stroke="#d07070" stroke-width="0.5"/>
<path d="M225.20,506.00 L225.70,506.00 L226.21,506.00 L226.71,506.00 L227.21,506.00 L227.72,506.00 L228.22,506.00 L228.72,506.00 L229.23,506.00 L229.73,506.00 L230.23,506.00 L230.74,506.00 L231.24,506.00 L231.74,506.00 L232.25,506.00 L232.75,506.00 L233.25,506.00 L233.76,505.99 L234.26,505.99 L234.76,505.97 L235.27,505.94 L235.77,505.87 L236.27,505.76 L236.78,505.57 L237.28,505.24 L237.78,504.71 L238.29,503.90 L238.79,502.70 L239.29,501.01 L239.80,498.73 L240.30,495.80 L240.80,492.22 L241.31,488.06 L241.81,483.50 L242.31,478.82 L242.82,474.37 L243.32,470.56 L243.82,467.74 L244.33,466.22 L244.83,466.30 L245.33,468.88 L245.84,473.65 L246.34,479.72 L246.84,486.10 L247.35,491.95 L247.85,496.75 L248.36,500.33 L248.86,502.75 L249.36,504.27 L249.87,505.14 L250.37,505.60 L250.87,505.83 L251.38,505.93 L251.88,505.97 L252.38,505.99 L252.89,506.00 L253.39,506.00 L253.89,506.00 L254.40,506.00 L254.90,506.00 L255.40,506.00 L255.91,506.00 L256.41,506.00 L256.91,506.00 L257.42,506.00 L257.92,506.00 L258.42,506.00 L258.93,506.00 L259.43,506.00 L259.93,506.00 L260.44,506.00 L260.94,506.00 L261.44,506.00 L261.95,506.00 L262.45,506.00 L262.95,506.00 L263.46,506.00 L263.96,506.00 L264.46,506.00 L264.97,506.00 L265.47,506.00 L265.97,506.00 L266.48,506.00 L266.98,506.00 L267.48,506.00 L267.99,506.00 L268.49,506.00 L268.99,506.00 L269.50,506.00 L270.00,506.00" fill="none" stroke="#4b3fc4" stroke-width="0.8"/>
<line x1="244.50" y1="460.60" x2="244.50" y2="506.60" stroke="#707070" stroke-width="1.0" />
<rect x="224.60" y="460.60" width="46.00" height="46.00" fill="none" stroke="#666" stroke-width="0.9" />
<rect x="21.30" y="511.50" width="46.00" height="46.00" fill="#fff" stroke="none" stroke-width="1" />
<path d="M21.90,556.90 L21.90,556.90 L22.40,556.90 L22.91,556.90 L23.41,556.90 L23.91,556.90 L24.42,556.90 L24.92,556.90 L25.42,556.90 L25.93,556.90 L26.43,556.89 L26.93,556.87 L27.44,556.79 L27.94,556.56 L28.44,556.00 L28.95,554.73 L29.45,552.27 L29.95,548.04 L30.46,541.76 L30.96,533.79 L31.46,525.37 L31.97,518.47 L32.47,515.06 L32.97,515.63 L33.48,518.75 L33.98,523.81 L34.48,529.95 L34.99,536.30 L35.49,542.13 L35.99,546.95 L36.50,550.61 L37.00,553.17 L37.50,554.82 L38.01,555.81 L38.51,556.37 L39.01,556.65 L39.52,556.79 L40.02,556.86 L40.52,556.88 L41.03,556.89 L41.53,556.90 L42.03,556.90 L42.54,556.90 L43.04,556.90 L43.54,556.90 L44.05,556.90 L44.55,556.90 L45.06,556.90 L45.56,556.90 L46.06,556.90 L46.57,556.90 L47.07,556.90 L47.57,556.90 L48.08,556.90 L48.58,556.90 L49.08,556.90 L49.59,556.90 L50.09,556.90 L50.59,556.90 L51.10,556.90 L51.60,556.90 L52.10,556.90 L52.61,556.90 L53.11,556.90 L53.61,556.90 L54.12,556.90 L54.62,556.90 L55.12,556.90 L55.63,556.90 L56.13,556.90 L56.63,556.90 L57.14,556.90 L57.64,556.90 L58.14,556.90 L58.65,556.90 L59.15,556.90 L59.65,556.90 L60.16,556.90 L60.66,556.90 L61.16,556.90 L61.67,556.90 L62.17,556.90 L62.67,556.90 L63.18,556.90 L63.68,556.90 L64.18,556.90 L64.69,556.90 L65.19,556.90 L65.69,556.90 L66.20,556.90 L66.70,556.90 L66.70,556.90 Z" fill="#f59c9c" stroke="none"/>
<path d="M21.90,556.90 L22.40,556.90 L22.91,556.90 L23.41,556.90 L23.91,556.90 L24.42,556.90 L24.92,556.90 L25.42,556.90 L25.93,556.90 L26.43,556.89 L26.93,556.87 L27.44,556.79 L27.94,556.56 L28.44,556.00 L28.95,554.73 L29.45,552.27 L29.95,548.04 L30.46,541.76 L30.96,533.79 L31.46,525.37 L31.97,518.47 L32.47,515.06 L32.97,515.63 L33.48,518.75 L33.98,523.81 L34.48,529.95 L34.99,536.30 L35.49,542.13 L35.99,546.95 L36.50,550.61 L37.00,553.17 L37.50,554.82 L38.01,555.81 L38.51,556.37 L39.01,556.65 L39.52,556.79 L40.02,556.86 L40.52,556.88 L41.03,556.89 L41.53,556.90 L42.03,556.90 L42.54,556.90 L43.04,556.90 L43.54,556.90 L44.05,556.90 L44.55,556.90 L45.06,556.90 L45.56,556.90 L46.06,556.90 L46.57,556.90 L47.07,556.90 L47.57,556.90 L48.08,556.90 L48.58,556.90 L49.08,556.90 L49.59,556.90 L50.09,556.90 L50.59,556.90 L51.10,556.90 L51.60,556.90 L52.10,556.90 L52.61,556.90 L53.11,556.90 L53.61,556.90 L54.12,556.90 L54.62,556.90 L55.12,556.90 L55.63,556.90 L56.13,556.90 L56.63,556.90 L57.14,556.90 L57.64,556.90 L58.14,556.90 L58.65,556.90 L59.15,556.90 L59.65,556.90 L60.16,556.90 L60.66,556.90 L61.16,556.90 L61.67,556.90 L62.17,556.90 L62.67,556.90 L63.18,556.90 L63.68,556.90 L64.18,556.90 L64.69,556.90 L65.19,556.90 L65.69,556.90 L66.20,556.90 L66.70,556.90" fill="none" stroke="#d07070" stroke-width="0.5"/>
<path d="M21.90,556.90 L22.40,556.90 L22.91,556.90 L23.41,556.90 L23.91,556.90 L24.42,556.90 L24.92,556.90 L25.42,556.90 L25.93,556.90 L26.43,556.90 L26.93,556.89 L27.44,556.85 L27.94,556.74 L28.44,556.40 L28.95,555.54 L29.45,553.64 L29.95,550.03 L30.46,544.19 L30.96,536.24 L31.46,527.40 L31.97,519.88 L32.47,516.07 L32.97,516.69 L33.48,520.05 L33.98,525.42 L34.48,531.83 L34.99,538.28 L35.49,544.02 L35.99,548.59 L36.50,551.90 L37.00,554.10 L37.50,555.43 L38.01,556.19 L38.51,556.58 L39.01,556.76 L39.52,556.85 L40.02,556.88 L40.52,556.89 L41.03,556.90 L41.53,556.90 L42.03,556.90 L42.54,556.90 L43.04,556.90 L43.54,556.90 L44.05,556.90 L44.55,556.90 L45.06,556.90 L45.56,556.90 L46.06,556.90 L46.57,556.90 L47.07,556.90 L47.57,556.90 L48.08,556.90 L48.58,556.90 L49.08,556.90 L49.59,556.90 L50.09,556.90 L50.59,556.90 L51.10,556.90 L51.60,556.90 L52.10,556.90 L52.61,556.90 L53.11,556.90 L53.61,556.90 L54.12,556.90 L54.62,556.90 L55.12,556.90 L55.63,556.90 L56.13,556.90 L56.63,556.90 L57.14,556.90 L57.64,556.90 L58.14,556.90 L58.65,556.90 L59.15,556.90 L59.65,556.90 L60.16,556.90 L60.66,556.90 L61.16,556.90 L61.67,556.90 L62.17,556.90 L62.67,556.90 L63.18,556.90 L63.68,556.90 L64.18,556.90 L64.69,556.90 L65.19,556.90 L65.69,556.90 L66.20,556.90 L66.70,556.90" fill="none" stroke="#4b3fc4" stroke-width="0.8"/>
<line x1="38.50" y1="511.50" x2="38.50" y2="557.50" stroke="#707070" stroke-width="1.0" />
<rect x="21.30" y="511.50" width="46.00" height="46.00" fill="none" stroke="#666" stroke-width="0.9" />
<path d="M22.30,558.10v3.6 M25.61,558.10v2.8 M27.55,558.10v2.8 M28.92,558.10v2.8 M29.99,558.10v2.8 M30.86,558.10v2.8 M31.60,558.10v2.8 M32.23,558.10v2.8 M32.80,558.10v2.8 M33.30,558.10v3.6 M36.61,558.10v2.8 M38.55,558.10v2.8 M39.92,558.10v2.8 M40.99,558.10v2.8 M41.86,558.10v2.8 M42.60,558.10v2.8 M43.23,558.10v2.8 M43.80,558.10v2.8 M44.30,558.10v3.6 M47.61,558.10v2.8 M49.55,558.10v2.8 M50.92,558.10v2.8 M51.99,558.10v2.8 M52.86,558.10v2.8 M53.60,558.10v2.8 M54.23,558.10v2.8 M54.80,558.10v2.8 M55.30,558.10v3.6 M58.61,558.10v2.8 M60.55,558.10v2.8 M61.92,558.10v2.8 M62.99,558.10v2.8 M63.86,558.10v2.8 M64.60,558.10v2.8 M65.23,558.10v2.8 M65.80,558.10v2.8" stroke="#9a9a9a" stroke-width="0.7" fill="none"/>
<rect x="72.10" y="511.50" width="46.00" height="46.00" fill="#fff" stroke="none" stroke-width="1" />
<path d="M72.70,556.90 L72.70,556.90 L73.20,556.90 L73.71,556.90 L74.21,556.90 L74.71,556.90 L75.22,556.90 L75.72,556.90 L76.22,556.89 L76.73,556.88 L77.23,556.83 L77.73,556.68 L78.24,556.29 L78.74,555.37 L79.24,553.46 L79.75,550.02 L80.25,544.58 L80.75,537.21 L81.26,528.76 L81.76,520.99 L82.26,515.94 L82.77,515.05 L83.27,517.20 L83.77,521.55 L84.28,527.36 L84.78,533.72 L85.28,539.84 L85.79,545.11 L86.29,549.25 L86.79,552.24 L87.30,554.24 L87.80,555.47 L88.30,556.18 L88.81,556.56 L89.31,556.75 L89.81,556.84 L90.32,556.88 L90.82,556.89 L91.32,556.90 L91.83,556.90 L92.33,556.90 L92.83,556.90 L93.34,556.90 L93.84,556.90 L94.34,556.90 L94.85,556.90 L95.35,556.90 L95.86,556.90 L96.36,556.90 L96.86,556.90 L97.37,556.90 L97.87,556.90 L98.37,556.90 L98.88,556.90 L99.38,556.90 L99.88,556.90 L100.39,556.90 L100.89,556.90 L101.39,556.90 L101.90,556.90 L102.40,556.90 L102.90,556.90 L103.41,556.90 L103.91,556.90 L104.41,556.90 L104.92,556.90 L105.42,556.90 L105.92,556.90 L106.43,556.90 L106.93,556.90 L107.43,556.90 L107.94,556.90 L108.44,556.90 L108.94,556.90 L109.45,556.90 L109.95,556.90 L110.45,556.90 L110.96,556.90 L111.46,556.90 L111.96,556.90 L112.47,556.90 L112.97,556.90 L113.47,556.90 L113.98,556.90 L114.48,556.90 L114.98,556.90 L115.49,556.90 L115.99,556.90 L116.49,556.90 L117.00,556.90 L117.50,556.90 L117.50,556.90 Z" fill="#f59c9c" stroke="none"/>
<path d="M72.70,556.90 L73.20,556.90 L73.71,556.90 L74.21,556.90 L74.71,556.90 L75.22,556.90 L75.72,556.90 L76.22,556.89 L76.73,556.88 L77.23,556.83 L77.73,556.68 L78.24,556.29 L78.74,555.37 L79.24,553.46 L79.75,550.02 L80.25,544.58 L80.75,537.21 L81.26,528.76 L81.76,520.99 L82.26,515.94 L82.77,515.05 L83.27,517.20 L83.77,521.55 L84.28,527.36 L84.78,533.72 L85.28,539.84 L85.79,545.11 L86.29,549.25 L86.79,552.24 L87.30,554.24 L87.80,555.47 L88.30,556.18 L88.81,556.56 L89.31,556.75 L89.81,556.84 L90.32,556.88 L90.82,556.89 L91.32,556.90 L91.83,556.90 L92.33,556.90 L92.83,556.90 L93.34,556.90 L93.84,556.90 L94.34,556.90 L94.85,556.90 L95.35,556.90 L95.86,556.90 L96.36,556.90 L96.86,556.90 L97.37,556.90 L97.87,556.90 L98.37,556.90 L98.88,556.90 L99.38,556.90 L99.88,556.90 L100.39,556.90 L100.89,556.90 L101.39,556.90 L101.90,556.90 L102.40,556.90 L102.90,556.90 L103.41,556.90 L103.91,556.90 L104.41,556.90 L104.92,556.90 L105.42,556.90 L105.92,556.90 L106.43,556.90 L106.93,556.90 L107.43,556.90 L107.94,556.90 L108.44,556.90 L108.94,556.90 L109.45,556.90 L109.95,556.90 L110.45,556.90 L110.96,556.90 L111.46,556.90 L111.96,556.90 L112.47,556.90 L112.97,556.90 L113.47,556.90 L113.98,556.90 L114.48,556.90 L114.98,556.90 L115.49,556.90 L115.99,556.90 L116.49,556.90 L117.00,556.90 L117.50,556.90" fill="none" stroke="#d07070" stroke-width="0.5"/>
<path d="M72.70,556.90 L86.00,556.90 L87.00,554.90 L88.50,544.90 L90.00,532.90 L92.00,524.90 L94.00,526.40 L96.00,520.90 L97.40,515.90 L98.60,517.90 L99.40,514.90 L100.20,518.90 L101.00,521.90 L102.50,527.90 L104.00,533.90 L105.50,538.90 L107.00,543.90 L108.50,548.90 L110.00,553.40 L112.00,556.40 L114.00,556.90 L117.50,556.90" fill="none" stroke="#4b3fc4" stroke-width="0.8"/>
<line x1="88.50" y1="511.50" x2="88.50" y2="557.50" stroke="#707070" stroke-width="1.0" />
<rect x="72.10" y="511.50" width="46.00" height="46.00" fill="none" stroke="#666" stroke-width="0.9" />
<path d="M73.10,558.10v3.6 M76.41,558.10v2.8 M78.35,558.10v2.8 M79.72,558.10v2.8 M80.79,558.10v2.8 M81.66,558.10v2.8 M82.40,558.10v2.8 M83.03,558.10v2.8 M83.60,558.10v2.8 M84.10,558.10v3.6 M87.41,558.10v2.8 M89.35,558.10v2.8 M90.72,558.10v2.8 M91.79,558.10v2.8 M92.66,558.10v2.8 M93.40,558.10v2.8 M94.03,558.10v2.8 M94.60,558.10v2.8 M95.10,558.10v3.6 M98.41,558.10v2.8 M100.35,558.10v2.8 M101.72,558.10v2.8 M102.79,558.10v2.8 M103.66,558.10v2.8 M104.40,558.10v2.8 M105.03,558.10v2.8 M105.60,558.10v2.8 M106.10,558.10v3.6 M109.41,558.10v2.8 M111.35,558.10v2.8 M112.72,558.10v2.8 M113.79,558.10v2.8 M114.66,558.10v2.8 M115.40,558.10v2.8 M116.03,558.10v2.8 M116.60,558.10v2.8" stroke="#9a9a9a" stroke-width="0.7" fill="none"/>
<rect x="123.00" y="511.50" width="46.00" height="46.00" fill="#fff" stroke="none" stroke-width="1" />
<path d="M123.60,556.90 L123.60,556.90 L124.10,556.90 L124.61,556.90 L125.11,556.90 L125.61,556.90 L126.12,556.90 L126.62,556.90 L127.12,556.90 L127.63,556.90 L128.13,556.90 L128.63,556.88 L129.14,556.84 L129.64,556.72 L130.14,556.39 L130.65,555.60 L131.15,553.92 L131.65,550.80 L132.16,545.75 L132.66,538.69 L133.16,530.34 L133.67,522.28 L134.17,516.58 L134.67,514.93 L135.18,516.80 L135.68,521.18 L136.18,527.23 L136.69,533.93 L137.19,540.33 L137.69,545.75 L138.20,549.91 L138.70,552.81 L139.20,554.67 L139.71,555.77 L140.21,556.36 L140.71,556.66 L141.22,556.80 L141.72,556.86 L142.22,556.89 L142.73,556.90 L143.23,556.90 L143.73,556.90 L144.24,556.90 L144.74,556.90 L145.24,556.90 L145.75,556.90 L146.25,556.90 L146.76,556.90 L147.26,556.90 L147.76,556.90 L148.27,556.90 L148.77,556.90 L149.27,556.90 L149.78,556.90 L150.28,556.90 L150.78,556.90 L151.29,556.90 L151.79,556.90 L152.29,556.90 L152.80,556.90 L153.30,556.90 L153.80,556.90 L154.31,556.90 L154.81,556.90 L155.31,556.90 L155.82,556.90 L156.32,556.90 L156.82,556.90 L157.33,556.90 L157.83,556.90 L158.33,556.90 L158.84,556.90 L159.34,556.90 L159.84,556.90 L160.35,556.90 L160.85,556.90 L161.35,556.90 L161.86,556.90 L162.36,556.90 L162.86,556.90 L163.37,556.90 L163.87,556.90 L164.37,556.90 L164.88,556.90 L165.38,556.90 L165.88,556.90 L166.39,556.90 L166.89,556.90 L167.39,556.90 L167.90,556.90 L168.40,556.90 L168.40,556.90 Z" fill="#f59c9c" stroke="none"/>
<path d="M123.60,556.90 L124.10,556.90 L124.61,556.90 L125.11,556.90 L125.61,556.90 L126.12,556.90 L126.62,556.90 L127.12,556.90 L127.63,556.90 L128.13,556.90 L128.63,556.88 L129.14,556.84 L129.64,556.72 L130.14,556.39 L130.65,555.60 L131.15,553.92 L131.65,550.80 L132.16,545.75 L132.66,538.69 L133.16,530.34 L133.67,522.28 L134.17,516.58 L134.67,514.93 L135.18,516.80 L135.68,521.18 L136.18,527.23 L136.69,533.93 L137.19,540.33 L137.69,545.75 L138.20,549.91 L138.70,552.81 L139.20,554.67 L139.71,555.77 L140.21,556.36 L140.71,556.66 L141.22,556.80 L141.72,556.86 L142.22,556.89 L142.73,556.90 L143.23,556.90 L143.73,556.90 L144.24,556.90 L144.74,556.90 L145.24,556.90 L145.75,556.90 L146.25,556.90 L146.76,556.90 L147.26,556.90 L147.76,556.90 L148.27,556.90 L148.77,556.90 L149.27,556.90 L149.78,556.90 L150.28,556.90 L150.78,556.90 L151.29,556.90 L151.79,556.90 L152.29,556.90 L152.80,556.90 L153.30,556.90 L153.80,556.90 L154.31,556.90 L154.81,556.90 L155.31,556.90 L155.82,556.90 L156.32,556.90 L156.82,556.90 L157.33,556.90 L157.83,556.90 L158.33,556.90 L158.84,556.90 L159.34,556.90 L159.84,556.90 L160.35,556.90 L160.85,556.90 L161.35,556.90 L161.86,556.90 L162.36,556.90 L162.86,556.90 L163.37,556.90 L163.87,556.90 L164.37,556.90 L164.88,556.90 L165.38,556.90 L165.88,556.90 L166.39,556.90 L166.89,556.90 L167.39,556.90 L167.90,556.90 L168.40,556.90" fill="none" stroke="#d07070" stroke-width="0.5"/>
<path d="M123.60,556.90 L124.10,556.90 L124.61,556.90 L125.11,556.90 L125.61,556.90 L126.12,556.90 L126.62,556.90 L127.12,556.90 L127.63,556.90 L128.13,556.89 L128.63,556.87 L129.14,556.81 L129.64,556.63 L130.14,556.17 L130.65,555.11 L131.15,552.98 L131.65,549.23 L132.16,543.49 L132.66,535.97 L133.16,527.70 L133.67,520.51 L134.17,516.38 L134.67,516.28 L135.18,518.88 L135.68,523.50 L136.18,529.36 L136.69,535.59 L137.19,541.42 L137.69,546.34 L138.20,550.14 L138.70,552.84 L139.20,554.61 L139.71,555.69 L140.21,556.30 L140.71,556.62 L141.22,556.78 L141.72,556.85 L142.22,556.88 L142.73,556.89 L143.23,556.90 L143.73,556.90 L144.24,556.90 L144.74,556.90 L145.24,556.90 L145.75,556.90 L146.25,556.90 L146.76,556.90 L147.26,556.90 L147.76,556.90 L148.27,556.90 L148.77,556.90 L149.27,556.90 L149.78,556.90 L150.28,556.90 L150.78,556.90 L151.29,556.90 L151.79,556.90 L152.29,556.90 L152.80,556.90 L153.30,556.90 L153.80,556.90 L154.31,556.90 L154.81,556.90 L155.31,556.90 L155.82,556.90 L156.32,556.90 L156.82,556.90 L157.33,556.90 L157.83,556.90 L158.33,556.90 L158.84,556.90 L159.34,556.90 L159.84,556.90 L160.35,556.90 L160.85,556.90 L161.35,556.90 L161.86,556.90 L162.36,556.90 L162.86,556.90 L163.37,556.90 L163.87,556.90 L164.37,556.90 L164.88,556.90 L165.38,556.90 L165.88,556.90 L166.39,556.90 L166.89,556.90 L167.39,556.90 L167.90,556.90 L168.40,556.90" fill="none" stroke="#4b3fc4" stroke-width="0.8"/>
<line x1="140.50" y1="511.50" x2="140.50" y2="557.50" stroke="#707070" stroke-width="1.0" />
<rect x="123.00" y="511.50" width="46.00" height="46.00" fill="none" stroke="#666" stroke-width="0.9" />
<path d="M124.00,558.10v3.6 M127.31,558.10v2.8 M129.25,558.10v2.8 M130.62,558.10v2.8 M131.69,558.10v2.8 M132.56,558.10v2.8 M133.30,558.10v2.8 M133.93,558.10v2.8 M134.50,558.10v2.8 M135.00,558.10v3.6 M138.31,558.10v2.8 M140.25,558.10v2.8 M141.62,558.10v2.8 M142.69,558.10v2.8 M143.56,558.10v2.8 M144.30,558.10v2.8 M144.93,558.10v2.8 M145.50,558.10v2.8 M146.00,558.10v3.6 M149.31,558.10v2.8 M151.25,558.10v2.8 M152.62,558.10v2.8 M153.69,558.10v2.8 M154.56,558.10v2.8 M155.30,558.10v2.8 M155.93,558.10v2.8 M156.50,558.10v2.8 M157.00,558.10v3.6 M160.31,558.10v2.8 M162.25,558.10v2.8 M163.62,558.10v2.8 M164.69,558.10v2.8 M165.56,558.10v2.8 M166.30,558.10v2.8 M166.93,558.10v2.8 M167.50,558.10v2.8" stroke="#9a9a9a" stroke-width="0.7" fill="none"/>
<rect x="173.90" y="511.50" width="46.00" height="46.00" fill="#fff" stroke="none" stroke-width="1" />
<path d="M174.50,556.90 L174.50,554.00 L175.00,553.23 L175.51,552.30 L176.01,551.19 L176.51,549.90 L177.02,548.41 L177.52,546.71 L178.02,544.81 L178.53,542.72 L179.03,540.44 L179.53,538.00 L180.04,535.44 L180.54,532.80 L181.04,530.13 L181.55,527.49 L182.05,524.95 L182.55,522.56 L183.06,520.40 L183.56,518.52 L184.06,517.00 L184.57,515.86 L185.07,515.15 L185.57,514.90 L186.08,515.60 L186.58,517.79 L187.08,521.22 L187.59,525.54 L188.09,530.36 L188.59,535.26 L189.10,539.91 L189.60,544.05 L190.10,547.54 L190.61,550.33 L191.11,552.46 L191.61,554.01 L192.12,555.09 L192.62,555.80 L193.12,556.26 L193.63,556.54 L194.13,556.71 L194.63,556.80 L195.14,556.85 L195.64,556.88 L196.14,556.89 L196.65,556.89 L197.15,556.90 L197.66,556.90 L198.16,556.90 L198.66,556.90 L199.17,556.90 L199.67,556.90 L200.17,556.90 L200.68,556.90 L201.18,556.90 L201.68,556.90 L202.19,556.90 L202.69,556.90 L203.19,556.90 L203.70,556.90 L204.20,556.90 L204.70,556.90 L205.21,556.90 L205.71,556.90 L206.21,556.90 L206.72,556.90 L207.22,556.90 L207.72,556.90 L208.23,556.90 L208.73,556.90 L209.23,556.90 L209.74,556.90 L210.24,556.90 L210.74,556.90 L211.25,556.90 L211.75,556.90 L212.25,556.90 L212.76,556.90 L213.26,556.90 L213.76,556.90 L214.27,556.90 L214.77,556.90 L215.27,556.90 L215.78,556.90 L216.28,556.90 L216.78,556.90 L217.29,556.90 L217.79,556.90 L218.29,556.90 L218.80,556.90 L219.30,556.90 L219.30,556.90 Z" fill="#f59c9c" stroke="none"/>
<path d="M174.50,554.00 L175.00,553.23 L175.51,552.30 L176.01,551.19 L176.51,549.90 L177.02,548.41 L177.52,546.71 L178.02,544.81 L178.53,542.72 L179.03,540.44 L179.53,538.00 L180.04,535.44 L180.54,532.80 L181.04,530.13 L181.55,527.49 L182.05,524.95 L182.55,522.56 L183.06,520.40 L183.56,518.52 L184.06,517.00 L184.57,515.86 L185.07,515.15 L185.57,514.90 L186.08,515.60 L186.58,517.79 L187.08,521.22 L187.59,525.54 L188.09,530.36 L188.59,535.26 L189.10,539.91 L189.60,544.05 L190.10,547.54 L190.61,550.33 L191.11,552.46 L191.61,554.01 L192.12,555.09 L192.62,555.80 L193.12,556.26 L193.63,556.54 L194.13,556.71 L194.63,556.80 L195.14,556.85 L195.64,556.88 L196.14,556.89 L196.65,556.89 L197.15,556.90 L197.66,556.90 L198.16,556.90 L198.66,556.90 L199.17,556.90 L199.67,556.90 L200.17,556.90 L200.68,556.90 L201.18,556.90 L201.68,556.90 L202.19,556.90 L202.69,556.90 L203.19,556.90 L203.70,556.90 L204.20,556.90 L204.70,556.90 L205.21,556.90 L205.71,556.90 L206.21,556.90 L206.72,556.90 L207.22,556.90 L207.72,556.90 L208.23,556.90 L208.73,556.90 L209.23,556.90 L209.74,556.90 L210.24,556.90 L210.74,556.90 L211.25,556.90 L211.75,556.90 L212.25,556.90 L212.76,556.90 L213.26,556.90 L213.76,556.90 L214.27,556.90 L214.77,556.90 L215.27,556.90 L215.78,556.90 L216.28,556.90 L216.78,556.90 L217.29,556.90 L217.79,556.90 L218.29,556.90 L218.80,556.90 L219.30,556.90" fill="none" stroke="#d07070" stroke-width="0.5"/>
<path d="M174.50,555.84 L175.00,555.47 L175.51,554.99 L176.01,554.38 L176.51,553.62 L177.02,552.68 L177.52,551.55 L178.02,550.20 L178.53,548.63 L179.03,546.82 L179.53,544.77 L180.04,542.49 L180.54,540.01 L181.04,537.36 L181.55,534.58 L182.05,531.75 L182.55,528.92 L183.06,526.18 L183.56,523.61 L184.06,521.29 L184.57,519.31 L185.07,517.73 L185.57,516.62 L186.08,516.01 L186.58,516.01 L187.08,517.41 L187.59,520.27 L188.09,524.28 L188.59,529.01 L189.10,534.00 L189.60,538.84 L190.10,543.22 L190.61,546.95 L191.11,549.96 L191.61,552.24 L192.12,553.90 L192.62,555.05 L193.12,555.80 L193.63,556.27 L194.13,556.56 L194.63,556.72 L195.14,556.81 L195.64,556.86 L196.14,556.88 L196.65,556.89 L197.15,556.90 L197.66,556.90 L198.16,556.90 L198.66,556.90 L199.17,556.90 L199.67,556.90 L200.17,556.90 L200.68,556.90 L201.18,556.90 L201.68,556.90 L202.19,556.90 L202.69,556.90 L203.19,556.90 L203.70,556.90 L204.20,556.90 L204.70,556.90 L205.21,556.90 L205.71,556.90 L206.21,556.90 L206.72,556.90 L207.22,556.90 L207.72,556.90 L208.23,556.90 L208.73,556.90 L209.23,556.90 L209.74,556.90 L210.24,556.90 L210.74,556.90 L211.25,556.90 L211.75,556.90 L212.25,556.90 L212.76,556.90 L213.26,556.90 L213.76,556.90 L214.27,556.90 L214.77,556.90 L215.27,556.90 L215.78,556.90 L216.28,556.90 L216.78,556.90 L217.29,556.90 L217.79,556.90 L218.29,556.90 L218.80,556.90 L219.30,556.90" fill="none" stroke="#4b3fc4" stroke-width="0.8"/>
<line x1="193.50" y1="511.50" x2="193.50" y2="557.50" stroke="#707070" stroke-width="1.0" />
<rect x="173.90" y="511.50" width="46.00" height="46.00" fill="none" stroke="#666" stroke-width="0.9" />
<path d="M174.90,558.10v3.6 M178.21,558.10v2.8 M180.15,558.10v2.8 M181.52,558.10v2.8 M182.59,558.10v2.8 M183.46,558.10v2.8 M184.20,558.10v2.8 M184.83,558.10v2.8 M185.40,558.10v2.8 M185.90,558.10v3.6 M189.21,558.10v2.8 M191.15,558.10v2.8 M192.52,558.10v2.8 M193.59,558.10v2.8 M194.46,558.10v2.8 M195.20,558.10v2.8 M195.83,558.10v2.8 M196.40,558.10v2.8 M196.90,558.10v3.6 M200.21,558.10v2.8 M202.15,558.10v2.8 M203.52,558.10v2.8 M204.59,558.10v2.8 M205.46,558.10v2.8 M206.20,558.10v2.8 M206.83,558.10v2.8 M207.40,558.10v2.8 M207.90,558.10v3.6 M211.21,558.10v2.8 M213.15,558.10v2.8 M214.52,558.10v2.8 M215.59,558.10v2.8 M216.46,558.10v2.8 M217.20,558.10v2.8 M217.83,558.10v2.8 M218.40,558.10v2.8" stroke="#9a9a9a" stroke-width="0.7" fill="none"/>
<rect x="224.60" y="511.50" width="46.00" height="46.00" fill="#fff" stroke="none" stroke-width="1" />
<path d="M225.20,556.90 L225.20,556.90 L225.70,556.90 L226.21,556.89 L226.71,556.89 L227.21,556.88 L227.72,556.86 L228.22,556.83 L228.72,556.77 L229.23,556.67 L229.73,556.51 L230.23,556.25 L230.74,555.86 L231.24,555.29 L231.74,554.46 L232.25,553.31 L232.75,551.76 L233.25,549.75 L233.76,547.24 L234.26,544.20 L234.76,540.66 L235.27,536.72 L235.77,532.52 L236.27,528.27 L236.78,524.20 L237.28,520.59 L237.78,517.71 L238.29,515.77 L238.79,514.93 L239.29,515.80 L239.80,519.34 L240.30,524.90 L240.80,531.49 L241.31,538.09 L241.81,543.91 L242.31,548.55 L242.82,551.89 L243.32,554.10 L243.82,555.44 L244.33,556.19 L244.83,556.58 L245.33,556.76 L245.84,556.85 L246.34,556.88 L246.84,556.89 L247.35,556.90 L247.85,556.90 L248.36,556.90 L248.86,556.90 L249.36,556.90 L249.87,556.90 L250.37,556.90 L250.87,556.90 L251.38,556.90 L251.88,556.90 L252.38,556.90 L252.89,556.90 L253.39,556.90 L253.89,556.90 L254.40,556.90 L254.90,556.90 L255.40,556.90 L255.91,556.90 L256.41,556.90 L256.91,556.90 L257.42,556.90 L257.92,556.90 L258.42,556.90 L258.93,556.90 L259.43,556.90 L259.93,556.90 L260.44,556.90 L260.94,556.90 L261.44,556.90 L261.95,556.90 L262.45,556.90 L262.95,556.90 L263.46,556.90 L263.96,556.90 L264.46,556.90 L264.97,556.90 L265.47,556.90 L265.97,556.90 L266.48,556.90 L266.98,556.90 L267.48,556.90 L267.99,556.90 L268.49,556.90 L268.99,556.90 L269.50,556.90 L270.00,556.90 L270.00,556.90 Z" fill="#f59c9c" stroke="none"/>
<path d="M225.20,556.90 L225.70,556.90 L226.21,556.89 L226.71,556.89 L227.21,556.88 L227.72,556.86 L228.22,556.83 L228.72,556.77 L229.23,556.67 L229.73,556.51 L230.23,556.25 L230.74,555.86 L231.24,555.29 L231.74,554.46 L232.25,553.31 L232.75,551.76 L233.25,549.75 L233.76,547.24 L234.26,544.20 L234.76,540.66 L235.27,536.72 L235.77,532.52 L236.27,528.27 L236.78,524.20 L237.28,520.59 L237.78,517.71 L238.29,515.77 L238.79,514.93 L239.29,515.80 L239.80,519.34 L240.30,524.90 L240.80,531.49 L241.31,538.09 L241.81,543.91 L242.31,548.55 L242.82,551.89 L243.32,554.10 L243.82,555.44 L244.33,556.19 L244.83,556.58 L245.33,556.76 L245.84,556.85 L246.34,556.88 L246.84,556.89 L247.35,556.90 L247.85,556.90 L248.36,556.90 L248.86,556.90 L249.36,556.90 L249.87,556.90 L250.37,556.90 L250.87,556.90 L251.38,556.90 L251.88,556.90 L252.38,556.90 L252.89,556.90 L253.39,556.90 L253.89,556.90 L254.40,556.90 L254.90,556.90 L255.40,556.90 L255.91,556.90 L256.41,556.90 L256.91,556.90 L257.42,556.90 L257.92,556.90 L258.42,556.90 L258.93,556.90 L259.43,556.90 L259.93,556.90 L260.44,556.90 L260.94,556.90 L261.44,556.90 L261.95,556.90 L262.45,556.90 L262.95,556.90 L263.46,556.90 L263.96,556.90 L264.46,556.90 L264.97,556.90 L265.47,556.90 L265.97,556.90 L266.48,556.90 L266.98,556.90 L267.48,556.90 L267.99,556.90 L268.49,556.90 L268.99,556.90 L269.50,556.90 L270.00,556.90" fill="none" stroke="#d07070" stroke-width="0.5"/>
<path d="M225.20,556.90 L225.70,556.90 L226.21,556.90 L226.71,556.90 L227.21,556.90 L227.72,556.90 L228.22,556.90 L228.72,556.90 L229.23,556.90 L229.73,556.90 L230.23,556.90 L230.74,556.90 L231.24,556.90 L231.74,556.90 L232.25,556.90 L232.75,556.90 L233.25,556.90 L233.76,556.90 L234.26,556.90 L234.76,556.90 L235.27,556.90 L235.77,556.90 L236.27,556.90 L236.78,556.90 L237.28,556.90 L237.78,556.90 L238.29,556.90 L238.79,556.90 L239.29,556.90 L239.80,556.90 L240.30,556.90 L240.80,556.90 L241.31,556.89 L241.81,556.87 L242.31,556.79 L242.82,556.60 L243.32,556.14 L243.82,555.16 L244.33,553.29 L244.83,550.10 L245.33,545.30 L245.84,538.98 L246.34,531.82 L246.84,525.10 L247.35,520.38 L247.85,518.92 L248.36,521.12 L248.86,526.37 L249.36,533.30 L249.87,540.38 L250.37,546.42 L250.87,550.88 L251.38,553.77 L251.88,555.43 L252.38,556.27 L252.89,556.66 L253.39,556.81 L253.89,556.87 L254.40,556.89 L254.90,556.90 L255.40,556.90 L255.91,556.90 L256.41,556.90 L256.91,556.90 L257.42,556.90 L257.92,556.90 L258.42,556.90 L258.93,556.90 L259.43,556.90 L259.93,556.90 L260.44,556.90 L260.94,556.90 L261.44,556.90 L261.95,556.90 L262.45,556.90 L262.95,556.90 L263.46,556.90 L263.96,556.90 L264.46,556.90 L264.97,556.90 L265.47,556.90 L265.97,556.90 L266.48,556.90 L266.98,556.90 L267.48,556.90 L267.99,556.90 L268.49,556.90 L268.99,556.90 L269.50,556.90 L270.00,556.90" fill="none" stroke="#4b3fc4" stroke-width="0.8"/>
<line x1="244.50" y1="511.50" x2="244.50" y2="557.50" stroke="#707070" stroke-width="1.0" />
<rect x="224.60" y="511.50" width="46.00" height="46.00" fill="none" stroke="#666" stroke-width="0.9" />
<path d="M225.60,558.10v3.6 M228.91,558.10v2.8 M230.85,558.10v2.8 M232.22,558.10v2.8 M233.29,558.10v2.8 M234.16,558.10v2.8 M234.90,558.10v2.8 M235.53,558.10v2.8 M236.10,558.10v2.8 M236.60,558.10v3.6 M239.91,558.10v2.8 M241.85,558.10v2.8 M243.22,558.10v2.8 M244.29,558.10v2.8 M245.16,558.10v2.8 M245.90,558.10v2.8 M246.53,558.10v2.8 M247.10,558.10v2.8 M247.60,558.10v3.6 M250.91,558.10v2.8 M252.85,558.10v2.8 M254.22,558.10v2.8 M255.29,558.10v2.8 M256.16,558.10v2.8 M256.90,558.10v2.8 M257.53,558.10v2.8 M258.10,558.10v2.8 M258.60,558.10v3.6 M261.91,558.10v2.8 M263.85,558.10v2.8 M265.22,558.10v2.8 M266.29,558.10v2.8 M267.16,558.10v2.8 M267.90,558.10v2.8 M268.53,558.10v2.8 M269.10,558.10v2.8" stroke="#9a9a9a" stroke-width="0.7" fill="none"/>
<line x1="10.60" y1="471.80" x2="10.60" y2="515.50" stroke="#000" stroke-width="1.1" />
<path d="M10.60,467.30 L8.40,472.30 L12.80,472.30 Z" fill="#000"/>
<g transform="translate(9.00,541.00) rotate(-90)"><text x="0" y="3.30" font-family='"Liberation Serif", serif' font-size="10" font-weight="bold" fill="#000" text-anchor="middle" stroke="#000" stroke-width="0.3">% Max</text></g>
<g transform="translate(284.80,490.00) rotate(-90)"><text x="0" y="3.30" font-family='"Liberation Serif", serif' font-size="10" font-weight="bold" fill="#000" text-anchor="middle" stroke="#000" stroke-width="0.3">MOI 0</text></g>
<g transform="translate(284.80,537.30) rotate(-90)"><text x="0" y="3.30" font-family='"Liberation Serif", serif' font-size="10" font-weight="bold" fill="#000" text-anchor="middle" stroke="#000" stroke-width="0.3">MOI 10</text></g>
<text x="21.30" y="574.70" font-family='"Liberation Serif", serif' font-size="10" font-weight="bold" fill="#000" text-anchor="start" stroke="#000" stroke-width="0.3">CD1c</text>
<line x1="48.80" y1="571.70" x2="63.30" y2="571.70" stroke="#000" stroke-width="1.1" />
<path d="M67.80,571.70 L62.80,569.50 L62.80,573.90 Z" fill="#000"/>
<text x="72.50" y="574.70" font-family='"Liberation Serif", serif' font-size="10" font-weight="bold" fill="#000" text-anchor="start" stroke="#000" stroke-width="0.3">CD141</text>
<line x1="105.00" y1="571.70" x2="114.50" y2="571.70" stroke="#000" stroke-width="1.1" />
<path d="M119.00,571.70 L114.00,569.50 L114.00,573.90 Z" fill="#000"/>
<text x="123.00" y="574.70" font-family='"Liberation Serif", serif' font-size="10" font-weight="bold" fill="#000" text-anchor="start" stroke="#000" stroke-width="0.3">Clec4c</text>
<line x1="157.60" y1="571.70" x2="166.30" y2="571.70" stroke="#000" stroke-width="1.1" />
<path d="M170.80,571.70 L165.80,569.50 L165.80,573.90 Z" fill="#000"/>
<text x="173.50" y="574.70" font-family='"Liberation Serif", serif' font-size="10" font-weight="bold" fill="#000" text-anchor="start" stroke="#000" stroke-width="0.3">Clec9a</text>
<line x1="206.60" y1="571.70" x2="264.90" y2="571.70" stroke="#000" stroke-width="1.1" />
<path d="M269.40,571.70 L264.40,569.50 L264.40,573.90 Z" fill="#000"/>
<text x="273.50" y="406.32" font-family='"Liberation Sans", sans-serif' font-size="14" font-weight="bold" fill="#000" text-anchor="start" stroke="#000" stroke-width="0.15">F</text>
<line x1="349.50" y1="410.80" x2="349.50" y2="545.00" stroke="#000" stroke-width="1.1" />
<line x1="349.50" y1="544.60" x2="497.20" y2="544.60" stroke="#000" stroke-width="1.0" />
<line x1="345.50" y1="545.00" x2="349.50" y2="545.00" stroke="#000" stroke-width="1" />
<text x="340.40" y="548.30" font-family='"Liberation Serif", serif' font-size="10" font-weight="bold" fill="#000" text-anchor="end" stroke="#000" stroke-width="0.3">0</text>
<line x1="345.50" y1="518.16" x2="349.50" y2="518.16" stroke="#000" stroke-width="1" />
<text x="340.40" y="521.46" font-family='"Liberation Serif", serif' font-size="10" font-weight="bold" fill="#000" text-anchor="end" stroke="#000" stroke-width="0.3">2000</text>
<line x1="345.50" y1="491.32" x2="349.50" y2="491.32" stroke="#000" stroke-width="1" />
<text x="340.40" y="494.62" font-family='"Liberation Serif", serif' font-size="10" font-weight="bold" fill="#000" text-anchor="end" stroke="#000" stroke-width="0.3">4000</text>
<line x1="345.50" y1="464.48" x2="349.50" y2="464.48" stroke="#000" stroke-width="1" />
<text x="340.40" y="467.78" font-family='"Liberation Serif", serif' font-size="10" font-weight="bold" fill="#000" text-anchor="end" stroke="#000" stroke-width="0.3">6000</text>
<line x1="345.50" y1="437.64" x2="349.50" y2="437.64" stroke="#000" stroke-width="1" />
<text x="340.40" y="440.94" font-family='"Liberation Serif", serif' font-size="10" font-weight="bold" fill="#000" text-anchor="end" stroke="#000" stroke-width="0.3">8000</text>
<line x1="345.50" y1="410.80" x2="349.50" y2="410.80" stroke="#000" stroke-width="1" />
<text x="340.40" y="414.10" font-family='"Liberation Serif", serif' font-size="10" font-weight="bold" fill="#000" text-anchor="end" stroke="#000" stroke-width="0.3">10000</text>
<line x1="349.50" y1="545.00" x2="349.50" y2="548.50" stroke="#000" stroke-width="1" />
<line x1="385.80" y1="545.00" x2="385.80" y2="548.50" stroke="#000" stroke-width="1" />
<line x1="422.30" y1="545.00" x2="422.30" y2="548.50" stroke="#000" stroke-width="1" />
<line x1="458.90" y1="545.00" x2="458.90" y2="548.50" stroke="#000" stroke-width="1" />
<line x1="497.00" y1="545.00" x2="497.00" y2="548.50" stroke="#000" stroke-width="1" />
<rect x="354.20" y="535.70" width="6.70" height="8.50" fill="#5896d4" stroke="none" stroke-width="1" />
<rect x="360.90" y="539.00" width="6.70" height="5.20" fill="#dc5a4c" stroke="none" stroke-width="1" />
<rect x="367.60" y="535.00" width="6.70" height="9.20" fill="#a6c668" stroke="none" stroke-width="1" />
<line x1="370.95" y1="533.20" x2="370.95" y2="535.00" stroke="#222" stroke-width="0.8" />
<line x1="370.15" y1="533.20" x2="371.75" y2="533.20" stroke="#222" stroke-width="0.8" />
<rect x="374.30" y="525.30" width="6.70" height="18.90" fill="#8c6db6" stroke="none" stroke-width="1" />
<line x1="377.65" y1="523.50" x2="377.65" y2="525.30" stroke="#222" stroke-width="0.8" />
<line x1="376.85" y1="523.50" x2="378.45" y2="523.50" stroke="#222" stroke-width="0.8" />
<rect x="390.90" y="524.80" width="6.70" height="19.40" fill="#5896d4" stroke="none" stroke-width="1" />
<rect x="397.60" y="535.60" width="6.70" height="8.60" fill="#dc5a4c" stroke="none" stroke-width="1" />
<rect x="404.30" y="530.20" width="6.70" height="14.00" fill="#a6c668" stroke="none" stroke-width="1" />
<line x1="407.65" y1="528.40" x2="407.65" y2="530.20" stroke="#222" stroke-width="0.8" />
<line x1="406.85" y1="528.40" x2="408.45" y2="528.40" stroke="#222" stroke-width="0.8" />
<rect x="411.00" y="528.80" width="6.70" height="15.40" fill="#8c6db6" stroke="none" stroke-width="1" />
<line x1="414.35" y1="527.00" x2="414.35" y2="528.80" stroke="#222" stroke-width="0.8" />
<line x1="413.55" y1="527.00" x2="415.15" y2="527.00" stroke="#222" stroke-width="0.8" />
<rect x="427.60" y="520.10" width="6.70" height="24.10" fill="#5896d4" stroke="none" stroke-width="1" />
<rect x="434.30" y="510.60" width="6.70" height="33.60" fill="#dc5a4c" stroke="none" stroke-width="1" />
<rect x="441.00" y="481.20" width="6.70" height="63.00" fill="#a6c668" stroke="none" stroke-width="1" />
<line x1="444.35" y1="479.40" x2="444.35" y2="481.20" stroke="#222" stroke-width="0.8" />
<line x1="443.55" y1="479.40" x2="445.15" y2="479.40" stroke="#222" stroke-width="0.8" />
<rect x="447.70" y="471.70" width="6.70" height="72.50" fill="#8c6db6" stroke="none" stroke-width="1" />
<line x1="451.05" y1="469.90" x2="451.05" y2="471.70" stroke="#222" stroke-width="0.8" />
<line x1="450.25" y1="469.90" x2="451.85" y2="469.90" stroke="#222" stroke-width="0.8" />
<rect x="464.40" y="505.20" width="6.70" height="39.00" fill="#5896d4" stroke="none" stroke-width="1" />
<rect x="471.10" y="492.10" width="6.70" height="52.10" fill="#dc5a4c" stroke="none" stroke-width="1" />
<rect x="477.80" y="478.50" width="6.70" height="65.70" fill="#a6c668" stroke="none" stroke-width="1" />
<line x1="481.15" y1="476.70" x2="481.15" y2="478.50" stroke="#222" stroke-width="0.8" />
<line x1="480.35" y1="476.70" x2="481.95" y2="476.70" stroke="#222" stroke-width="0.8" />
<rect x="484.50" y="437.70" width="6.70" height="106.50" fill="#8c6db6" stroke="none" stroke-width="1" />
<line x1="487.85" y1="435.90" x2="487.85" y2="437.70" stroke="#222" stroke-width="0.8" />
<line x1="487.05" y1="435.90" x2="488.65" y2="435.90" stroke="#222" stroke-width="0.8" />
<rect x="355.30" y="413.80" width="4.00" height="4.00" fill="#5896d4" stroke="none" stroke-width="1" />
<text x="362.70" y="419.10" font-family='"Liberation Serif", serif' font-size="10" font-weight="bold" fill="#000" text-anchor="start" stroke="#000" stroke-width="0.3">VSV-0</text>
<rect x="355.30" y="424.00" width="4.00" height="4.00" fill="#dc5a4c" stroke="none" stroke-width="1" />
<text x="362.70" y="429.30" font-family='"Liberation Serif", serif' font-size="10" font-weight="bold" fill="#000" text-anchor="start" stroke="#000" stroke-width="0.3">VSV-0.1</text>
<rect x="355.30" y="434.20" width="4.00" height="4.00" fill="#a6c668" stroke="none" stroke-width="1" />
<text x="362.70" y="439.50" font-family='"Liberation Serif", serif' font-size="10" font-weight="bold" fill="#000" text-anchor="start" stroke="#000" stroke-width="0.3">VSV-1</text>
<rect x="355.30" y="444.40" width="4.00" height="4.00" fill="#8c6db6" stroke="none" stroke-width="1" />
<text x="362.70" y="449.70" font-family='"Liberation Serif", serif' font-size="10" font-weight="bold" fill="#000" text-anchor="start" stroke="#000" stroke-width="0.3">VSV-10</text>
<text x="367.30" y="560.70" font-family='"Liberation Serif", serif' font-size="10" font-weight="bold" fill="#000" text-anchor="middle" stroke="#000" stroke-width="0.3">0</text>
<text x="404.00" y="560.70" font-family='"Liberation Serif", serif' font-size="10" font-weight="bold" fill="#000" text-anchor="middle" stroke="#000" stroke-width="0.3">0.01</text>
<text x="441.20" y="560.70" font-family='"Liberation Serif", serif' font-size="10" font-weight="bold" fill="#000" text-anchor="middle" stroke="#000" stroke-width="0.3">0.1</text>
<text x="476.80" y="560.70" font-family='"Liberation Serif", serif' font-size="10" font-weight="bold" fill="#000" text-anchor="middle" stroke="#000" stroke-width="0.3">1</text>
<text x="421.00" y="574.80" font-family='"Liberation Serif", serif' font-size="10" font-weight="bold" fill="#000" text-anchor="middle" stroke="#000" stroke-width="0.3">UV-inactivated IAV</text>
<g transform="translate(308.60,477.00) rotate(-90)"><text x="0" y="3.30" font-family='"Liberation Serif", serif' font-size="10" font-weight="bold" fill="#000" text-anchor="middle" stroke="#000" stroke-width="0.3">IFN-&#947; (pg/ml)</text></g>
</svg>
</div></body></html>
